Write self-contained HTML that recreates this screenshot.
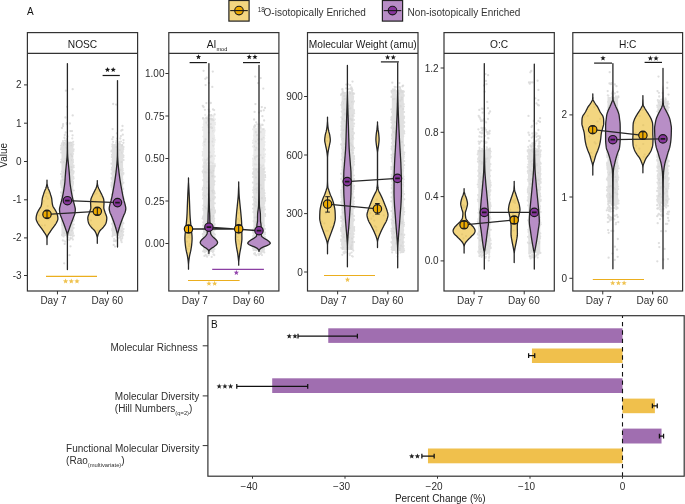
<!DOCTYPE html>
<html><head><meta charset="utf-8"><style>
html,body{margin:0;padding:0;background:#fff;width:685px;height:504px;overflow:hidden;position:relative;font-family:"Liberation Sans",sans-serif;}
</style></head><body>
<svg width="685" height="504" viewBox="0 0 685 504" style="position:absolute;left:0;top:0;will-change:transform" font-family='"Liberation Sans", sans-serif'>
<rect width="685" height="504" fill="#fff"/>
<rect x="228.9" y="0.5" width="20.2" height="20.6" fill="#F3D680" stroke="#222" stroke-width="1.2"/>
<circle cx="239.0" cy="10.6" r="4.3" fill="#EDAA00" stroke="#1a1a1a" stroke-width="1.1"/>
<path d="M230.2,10.6H247.8" stroke="#1a1a1a" stroke-width="1.1"/>
<rect x="382.4" y="0.5" width="20.2" height="20.6" fill="#B88EC6" stroke="#222" stroke-width="1.2"/>
<circle cx="392.5" cy="10.6" r="4.3" fill="#87369C" stroke="#1a1a1a" stroke-width="1.1"/>
<path d="M383.7,10.6H401.3" stroke="#1a1a1a" stroke-width="1.1"/>
<text x="257.8" y="11.6" font-size="6.3" text-anchor="start" fill="#333" >18</text>
<text x="263.6" y="15.7" font-size="10" text-anchor="start" fill="#333" >O-isotopically Enriched</text>
<text x="407.6" y="15.7" font-size="10" text-anchor="start" fill="#333" >Non-isotopically Enriched</text>
<text x="27.0" y="14.8" font-size="10" text-anchor="start" fill="#111" >A</text>
<text transform="translate(7.4,155.3) rotate(-90)" font-size="10" text-anchor="middle" fill="#222">Value</text>
<clipPath id="cp0"><rect x="27.4" y="53.4" width="110.19999999999999" height="237.6"/></clipPath>
<g clip-path="url(#cp0)">
<path d="M61.50000000000001,142H73.30000000000001V236H61.50000000000001Z" fill="#E0E0E0"/>
<path d="M71.7 200.8h0M64.4 214.9h0M71.4 170.2h0M70.9 142.5h0M67.1 216.9h0M65.0 170.5h0M66.8 166.0h0M68.0 189.4h0M70.6 235.6h0M72.7 200.5h0M63.7 162.2h0M62.5 199.6h0M67.6 145.4h0M71.9 185.8h0M67.6 201.1h0M64.7 188.7h0M64.1 143.1h0M64.2 207.1h0M62.0 176.7h0M63.7 220.0h0M71.5 167.2h0M71.1 189.9h0M70.0 202.1h0M67.8 150.6h0M71.4 189.7h0M68.5 176.0h0M66.2 147.6h0M63.6 172.4h0M66.1 218.7h0M68.4 234.0h0M68.9 198.9h0M63.6 205.6h0M64.6 183.4h0M63.0 179.8h0M64.3 233.0h0M65.2 205.1h0M69.2 224.2h0M71.1 154.4h0M71.8 230.8h0M63.6 195.6h0M72.0 160.1h0M63.9 193.9h0M68.9 225.1h0M66.1 195.6h0M64.6 180.6h0M71.5 145.6h0M67.9 186.0h0M70.1 172.3h0M66.0 144.4h0M63.3 144.9h0M69.1 232.9h0M67.7 182.3h0M65.7 224.0h0M69.4 197.5h0M67.6 175.4h0M71.8 213.9h0M72.1 156.2h0M70.1 142.5h0M63.5 218.2h0M70.8 181.4h0M68.8 143.3h0M67.5 216.5h0M64.4 210.2h0M65.9 160.7h0M65.7 158.9h0M68.2 231.1h0" stroke="#CFCFCF" stroke-opacity="0.55" stroke-width="2.2" stroke-linecap="round" fill="none"/>
<path d="M61.0 174.0h0M60.9 183.8h0M73.8 190.5h0M73.3 211.8h0M73.1 182.1h0M72.6 228.7h0M61.0 182.4h0M73.6 165.6h0M61.4 205.6h0M73.0 233.3h0M72.6 179.4h0M61.0 162.0h0M73.3 221.0h0M61.5 187.0h0M61.0 204.0h0M61.4 185.8h0M62.2 201.7h0M61.2 180.7h0M72.7 218.6h0M73.6 227.9h0M73.8 224.5h0M72.5 146.4h0M62.0 143.9h0M61.5 159.6h0M62.1 145.7h0M72.5 205.7h0M73.3 171.2h0M73.4 218.3h0M61.5 199.4h0M61.2 145.7h0M72.6 232.2h0M72.9 173.8h0M61.2 152.6h0M73.7 171.5h0M61.2 216.9h0M62.0 225.0h0M61.4 195.9h0M73.4 151.0h0M73.6 201.4h0M73.5 172.8h0M62.1 223.5h0M73.4 144.5h0M61.0 162.2h0M72.9 177.7h0M72.6 184.9h0M72.7 177.8h0M73.0 204.3h0M73.3 176.9h0M73.0 162.2h0M62.2 185.0h0M72.9 212.8h0M73.6 149.3h0M72.7 154.3h0M61.0 149.6h0M73.7 167.3h0M62.0 200.3h0M61.8 182.9h0M72.6 208.8h0M61.1 210.4h0M73.0 205.4h0M61.2 148.0h0M72.9 159.9h0M61.0 192.4h0M72.8 153.8h0M61.3 217.2h0M73.8 235.7h0M61.7 221.2h0M72.8 202.3h0M73.5 213.4h0M73.0 183.8h0M61.1 181.5h0M61.8 193.0h0M61.8 193.5h0M73.8 220.1h0M73.6 178.4h0M62.1 235.3h0M73.8 209.0h0M72.6 153.6h0M62.1 234.9h0M61.7 196.0h0M73.8 212.5h0M61.2 162.4h0M62.3 148.4h0M61.9 171.5h0M66.9 139.1h0M73.2 141.8h0M72.3 138.4h0M66.2 141.0h0M63.0 141.1h0M67.4 141.9h0M63.6 240.5h0M67.2 236.5h0M69.4 240.0h0M67.7 239.4h0M67.6 239.3h0M67.8 237.5h0M70.8 238.6h0M63.6 236.5h0M62.8 240.4h0M72.6 236.1h0M72.9 239.6h0M67.5 239.8h0M72.3 238.1h0M65.2 241.6h0" stroke="#E0E0E0" stroke-width="2.2" stroke-linecap="round" fill="none"/>
<path d="M111.9,144H123.1V236H111.9Z" fill="#E0E0E0"/>
<path d="M113.1 199.2h0M117.1 165.8h0M120.2 225.0h0M120.2 220.3h0M121.1 209.1h0M119.9 206.7h0M114.1 171.8h0M114.1 213.6h0M118.5 228.6h0M122.0 174.3h0M117.6 158.3h0M122.2 152.4h0M120.6 196.9h0M120.6 169.9h0M119.0 208.7h0M116.8 231.5h0M119.5 182.2h0M115.8 220.8h0M114.5 205.6h0M120.2 194.8h0M119.8 150.0h0M122.2 145.4h0M116.6 187.1h0M117.7 210.3h0M113.3 211.2h0M118.1 195.8h0M112.8 229.8h0M118.8 185.7h0M113.2 194.7h0M114.7 198.6h0M121.4 162.0h0M117.0 162.2h0M119.6 213.0h0M120.6 194.9h0M118.7 186.9h0M119.3 219.3h0M116.5 203.0h0M116.4 195.4h0M116.3 212.5h0M120.1 186.9h0M115.8 190.3h0M116.3 220.1h0M120.4 221.7h0M119.7 185.2h0M116.4 147.2h0M118.3 223.2h0M119.2 195.3h0M118.4 206.3h0M114.3 182.7h0M115.4 170.9h0M122.6 183.6h0M117.0 176.4h0M118.3 178.2h0M121.5 231.2h0M115.1 178.7h0M117.4 225.4h0M113.1 207.1h0M115.6 223.7h0M114.4 189.5h0M120.8 182.7h0M117.2 220.1h0" stroke="#CFCFCF" stroke-opacity="0.55" stroke-width="2.2" stroke-linecap="round" fill="none"/>
<path d="M122.8 214.6h0M112.4 194.2h0M123.4 173.1h0M123.3 149.2h0M112.6 219.2h0M112.4 206.8h0M111.8 203.2h0M112.0 167.7h0M122.6 192.3h0M122.7 232.5h0M112.6 172.2h0M111.6 182.9h0M122.5 209.3h0M111.6 173.6h0M123.2 188.9h0M123.4 201.1h0M112.3 213.0h0M112.0 184.3h0M111.8 157.0h0M112.5 156.5h0M123.6 160.0h0M112.4 146.4h0M122.3 159.2h0M112.5 186.2h0M122.6 168.8h0M122.9 200.8h0M112.5 182.4h0M123.6 229.0h0M111.8 205.5h0M111.6 199.2h0M111.5 163.7h0M122.7 154.5h0M123.6 147.0h0M123.2 235.1h0M123.1 205.3h0M123.2 231.6h0M112.7 174.9h0M123.3 210.6h0M123.4 182.7h0M122.4 175.0h0M122.7 156.2h0M111.4 185.2h0M111.7 169.6h0M122.9 222.5h0M112.4 144.3h0M123.4 157.1h0M122.7 207.1h0M112.3 230.4h0M111.6 208.6h0M112.0 154.8h0M123.5 147.2h0M122.7 151.8h0M122.7 214.4h0M122.9 201.9h0M123.4 223.3h0M111.7 202.5h0M111.7 178.8h0M122.3 179.6h0M122.6 232.6h0M122.7 211.2h0M112.1 187.2h0M122.7 170.5h0M122.7 151.1h0M112.6 159.9h0M111.7 186.9h0M112.3 228.9h0M122.4 196.6h0M123.5 155.5h0M122.4 187.6h0M123.5 198.7h0M112.0 223.8h0M111.6 177.9h0M111.6 150.7h0M112.1 187.2h0M122.4 233.1h0M112.5 180.1h0M111.4 151.5h0M123.2 197.3h0M123.4 173.8h0M123.4 198.2h0M111.9 194.6h0M112.5 189.2h0M121.0 141.5h0M118.0 143.5h0M116.4 141.1h0M116.1 142.9h0M119.6 141.8h0M113.1 141.8h0M122.2 236.7h0M114.7 240.8h0M121.4 240.1h0M112.4 236.3h0M114.1 239.0h0M122.2 238.2h0M113.8 241.1h0M117.8 238.1h0M116.8 237.0h0M115.9 240.4h0M120.3 236.1h0M121.0 240.6h0M120.7 239.1h0M121.7 242.2h0" stroke="#E0E0E0" stroke-width="2.2" stroke-linecap="round" fill="none"/>
<path d="M66.9 124.1h0M67.5 136.4h0M63.1 124.2h0M62.0 128.0h0M63.0 126.0h0M65.7 132.5h0M64.8 135.0h0M65.4 117.5h0M64.5 138.1h0M70.5 131.1h0M72.0 131.1h0M65.1 140.7h0M64.4 137.7h0M66.7 123.2h0M72.6 135.3h0M69.9 123.5h0" stroke="#D8D8D8" stroke-opacity="0.85" stroke-width="2.3" stroke-linecap="round" fill="none"/>
<path d="M113.1 137.2h0M119.8 143.7h0M122.4 129.9h0M112.6 129.1h0M122.8 134.7h0M122.5 126.0h0M112.3 139.2h0M117.0 138.6h0M120.3 138.5h0M123.5 140.1h0M121.3 130.7h0M120.9 136.1h0M123.4 142.8h0M116.9 133.3h0" stroke="#D8D8D8" stroke-opacity="0.85" stroke-width="2.3" stroke-linecap="round" fill="none"/>
<path d="M72.7 115.4h0M72.7 89.2h0M65.9 90.7h0M67.1 106.8h0" stroke="#D4D4D4" stroke-opacity="0.8" stroke-width="2.3" stroke-linecap="round" fill="none"/>
<path d="M116.1 104.6h0M113.2 104.0h0" stroke="#D4D4D4" stroke-opacity="0.8" stroke-width="2.3" stroke-linecap="round" fill="none"/>
<path d="M70.4 238.1h0M69.5 255.2h0M64.2 263.3h0M64.7 243.9h0M70.5 246.3h0" stroke="#D4D4D4" stroke-opacity="0.8" stroke-width="2.3" stroke-linecap="round" fill="none"/>
<path d="M115.4 241.2h0M113.7 244.9h0M119.9 237.5h0M115.1 246.6h0" stroke="#D4D4D4" stroke-opacity="0.8" stroke-width="2.3" stroke-linecap="round" fill="none"/>
<path d="M47.00,180.10 L47.00,180.78 L47.00,181.46 L47.00,182.13 L47.00,182.81 L47.01,183.49 L47.13,184.17 L47.26,184.85 L47.40,185.52 L47.55,186.20 L47.72,186.88 L47.90,187.56 L48.11,188.23 L48.38,188.91 L48.69,189.59 L49.01,190.27 L49.32,190.95 L49.58,191.62 L49.83,192.30 L50.06,192.98 L50.28,193.66 L50.50,194.34 L50.70,195.01 L50.92,195.69 L51.13,196.37 L51.34,197.05 L51.52,197.73 L51.67,198.40 L51.77,199.08 L51.85,199.76 L51.92,200.44 L51.99,201.11 L52.06,201.79 L52.15,202.47 L52.24,203.15 L52.33,203.83 L52.44,204.50 L52.58,205.18 L52.75,205.86 L53.03,206.54 L53.43,207.22 L53.89,207.89 L54.35,208.57 L54.77,209.25 L55.16,209.93 L55.55,210.61 L55.93,211.28 L56.29,211.96 L56.60,212.64 L56.85,213.32 L57.09,213.99 L57.31,214.67 L57.50,215.35 L57.64,216.03 L57.74,216.71 L57.82,217.38 L57.87,218.06 L57.90,218.74 L57.84,219.42 L57.65,220.10 L57.38,220.77 L57.06,221.45 L56.73,222.13 L56.40,222.81 L56.01,223.49 L55.58,224.16 L55.11,224.84 L54.63,225.52 L54.16,226.20 L53.67,226.87 L53.16,227.55 L52.64,228.23 L52.13,228.91 L51.64,229.59 L51.17,230.26 L50.72,230.94 L50.27,231.62 L49.83,232.30 L49.38,232.98 L48.90,233.65 L48.43,234.33 L48.02,235.01 L47.70,235.69 L47.47,236.37 L47.28,237.04 L47.14,237.72 L47.06,238.40 L47.01,239.08 L47.00,239.75 L47.00,240.43 L47.00,241.11 L47.00,241.79 L47.00,242.47 L47.00,243.14 L47.00,243.82 L47.00,244.50 L47.00,244.50 L47.00,243.82 L47.00,243.14 L47.00,242.47 L47.00,241.79 L47.00,241.11 L47.00,240.43 L47.00,239.75 L46.99,239.08 L46.94,238.40 L46.86,237.72 L46.72,237.04 L46.53,236.37 L46.30,235.69 L45.98,235.01 L45.57,234.33 L45.10,233.65 L44.62,232.98 L44.17,232.30 L43.73,231.62 L43.28,230.94 L42.83,230.26 L42.36,229.59 L41.87,228.91 L41.36,228.23 L40.84,227.55 L40.33,226.87 L39.84,226.20 L39.37,225.52 L38.89,224.84 L38.42,224.16 L37.99,223.49 L37.60,222.81 L37.27,222.13 L36.94,221.45 L36.62,220.77 L36.35,220.10 L36.16,219.42 L36.10,218.74 L36.13,218.06 L36.18,217.38 L36.26,216.71 L36.36,216.03 L36.50,215.35 L36.69,214.67 L36.91,213.99 L37.15,213.32 L37.40,212.64 L37.71,211.96 L38.07,211.28 L38.45,210.61 L38.84,209.93 L39.23,209.25 L39.65,208.57 L40.11,207.89 L40.57,207.22 L40.97,206.54 L41.25,205.86 L41.42,205.18 L41.56,204.50 L41.67,203.83 L41.76,203.15 L41.85,202.47 L41.94,201.79 L42.01,201.11 L42.08,200.44 L42.15,199.76 L42.23,199.08 L42.33,198.40 L42.48,197.73 L42.66,197.05 L42.87,196.37 L43.08,195.69 L43.30,195.01 L43.50,194.34 L43.72,193.66 L43.94,192.98 L44.17,192.30 L44.42,191.62 L44.68,190.95 L44.99,190.27 L45.31,189.59 L45.62,188.91 L45.89,188.23 L46.10,187.56 L46.28,186.88 L46.45,186.20 L46.60,185.52 L46.74,184.85 L46.87,184.17 L46.99,183.49 L47.00,182.81 L47.00,182.13 L47.00,181.46 L47.00,180.78 L47.00,180.10Z" fill="#F3D680" stroke="#262626" stroke-width="1.3" stroke-linejoin="round"/>
<path d="M67.40,63.60 L67.40,64.27 L67.40,64.94 L67.40,65.61 L67.40,66.28 L67.40,66.95 L67.40,67.62 L67.40,68.29 L67.40,68.97 L67.40,69.64 L67.40,70.31 L67.40,70.98 L67.40,71.65 L67.40,72.32 L67.40,72.99 L67.40,73.66 L67.40,74.33 L67.40,75.00 L67.40,75.67 L67.40,76.34 L67.40,77.01 L67.40,77.68 L67.40,78.36 L67.40,79.03 L67.40,79.70 L67.40,80.37 L67.40,81.04 L67.40,81.71 L67.40,82.38 L67.40,83.05 L67.40,83.72 L67.40,84.39 L67.40,85.06 L67.40,85.73 L67.40,86.40 L67.40,87.07 L67.40,87.74 L67.40,88.42 L67.40,89.09 L67.40,89.76 L67.40,90.43 L67.40,91.10 L67.40,91.77 L67.40,92.44 L67.40,93.11 L67.40,93.78 L67.40,94.45 L67.40,95.12 L67.40,95.79 L67.40,96.46 L67.40,97.13 L67.40,97.80 L67.40,98.48 L67.40,99.15 L67.40,99.82 L67.40,100.49 L67.40,101.16 L67.40,101.83 L67.40,102.50 L67.40,103.17 L67.40,103.84 L67.40,104.51 L67.40,105.18 L67.40,105.85 L67.40,106.52 L67.40,107.19 L67.40,107.87 L67.40,108.54 L67.40,109.21 L67.40,109.88 L67.40,110.55 L67.40,111.22 L67.40,111.89 L67.40,112.56 L67.40,113.23 L67.40,113.90 L67.40,114.57 L67.40,115.24 L67.40,115.91 L67.40,116.58 L67.40,117.25 L67.40,117.93 L67.40,118.60 L67.40,119.27 L67.40,119.94 L67.40,120.61 L67.40,121.28 L67.40,121.95 L67.40,122.62 L67.40,123.29 L67.40,123.96 L67.40,124.63 L67.40,125.30 L67.40,125.97 L67.40,126.64 L67.40,127.31 L67.40,127.99 L67.40,128.66 L67.40,129.33 L67.40,130.00 L67.40,130.67 L67.40,131.34 L67.40,132.01 L67.40,132.68 L67.40,133.35 L67.40,134.02 L67.40,134.69 L67.40,135.36 L67.40,136.03 L67.40,136.70 L67.41,137.38 L67.41,138.05 L67.41,138.72 L67.42,139.39 L67.42,140.06 L67.42,140.73 L67.43,141.40 L67.43,142.07 L67.44,142.74 L67.44,143.41 L67.45,144.08 L67.45,144.75 L67.46,145.42 L67.46,146.09 L67.47,146.76 L67.47,147.44 L67.48,148.11 L67.49,148.78 L67.49,149.45 L67.50,150.12 L67.51,150.79 L67.53,151.46 L67.55,152.13 L67.57,152.80 L67.59,153.47 L67.62,154.14 L67.65,154.81 L67.68,155.48 L67.71,156.15 L67.75,156.83 L67.80,157.50 L67.85,158.17 L67.91,158.84 L67.97,159.51 L68.04,160.18 L68.11,160.85 L68.17,161.52 L68.24,162.19 L68.31,162.86 L68.37,163.53 L68.44,164.20 L68.50,164.87 L68.57,165.54 L68.63,166.21 L68.70,166.89 L68.77,167.56 L68.83,168.23 L68.90,168.90 L68.96,169.57 L69.02,170.24 L69.08,170.91 L69.14,171.58 L69.20,172.25 L69.25,172.92 L69.31,173.59 L69.36,174.26 L69.42,174.93 L69.47,175.60 L69.52,176.27 L69.57,176.95 L69.61,177.62 L69.65,178.29 L69.69,178.96 L69.73,179.63 L69.77,180.30 L69.82,180.97 L69.88,181.64 L69.94,182.31 L70.01,182.98 L70.09,183.65 L70.18,184.32 L70.27,184.99 L70.37,185.66 L70.46,186.34 L70.57,187.01 L70.67,187.68 L70.77,188.35 L70.87,189.02 L70.98,189.69 L71.09,190.36 L71.20,191.03 L71.32,191.70 L71.44,192.37 L71.56,193.04 L71.68,193.71 L71.81,194.38 L71.95,195.05 L72.08,195.72 L72.22,196.40 L72.37,197.07 L72.52,197.74 L72.67,198.41 L72.83,199.08 L72.99,199.75 L73.16,200.42 L73.34,201.09 L73.53,201.76 L73.72,202.43 L73.91,203.10 L74.11,203.77 L74.29,204.44 L74.46,205.11 L74.62,205.79 L74.79,206.46 L74.96,207.13 L75.12,207.80 L75.24,208.47 L75.30,209.14 L75.29,209.81 L75.26,210.48 L75.20,211.15 L75.13,211.82 L75.05,212.49 L74.96,213.16 L74.81,213.83 L74.61,214.50 L74.36,215.17 L74.10,215.85 L73.82,216.52 L73.55,217.19 L73.31,217.86 L73.06,218.53 L72.80,219.20 L72.54,219.87 L72.28,220.54 L72.02,221.21 L71.75,221.88 L71.50,222.55 L71.24,223.22 L70.99,223.89 L70.74,224.56 L70.50,225.23 L70.26,225.91 L70.01,226.58 L69.77,227.25 L69.54,227.92 L69.31,228.59 L69.08,229.26 L68.85,229.93 L68.62,230.60 L68.39,231.27 L68.17,231.94 L67.99,232.61 L67.84,233.28 L67.70,233.95 L67.59,234.62 L67.51,235.30 L67.48,235.97 L67.46,236.64 L67.43,237.31 L67.42,237.98 L67.40,238.65 L67.40,239.32 L67.40,239.99 L67.40,240.66 L67.40,241.33 L67.40,242.00 L67.40,242.67 L67.40,243.34 L67.40,244.01 L67.40,244.68 L67.40,245.36 L67.40,246.03 L67.40,246.70 L67.40,247.37 L67.40,248.04 L67.40,248.71 L67.40,249.38 L67.40,250.05 L67.40,250.72 L67.40,251.39 L67.40,252.06 L67.40,252.73 L67.40,253.40 L67.40,254.07 L67.40,254.74 L67.40,255.42 L67.40,256.09 L67.40,256.76 L67.40,257.43 L67.40,258.10 L67.40,258.77 L67.40,259.44 L67.40,260.11 L67.40,260.78 L67.40,261.45 L67.40,262.12 L67.40,262.79 L67.40,263.46 L67.40,264.13 L67.40,264.81 L67.40,265.48 L67.40,266.15 L67.40,266.82 L67.40,267.49 L67.40,268.16 L67.40,268.83 L67.40,269.50 L67.40,269.50 L67.40,268.83 L67.40,268.16 L67.40,267.49 L67.40,266.82 L67.40,266.15 L67.40,265.48 L67.40,264.81 L67.40,264.13 L67.40,263.46 L67.40,262.79 L67.40,262.12 L67.40,261.45 L67.40,260.78 L67.40,260.11 L67.40,259.44 L67.40,258.77 L67.40,258.10 L67.40,257.43 L67.40,256.76 L67.40,256.09 L67.40,255.42 L67.40,254.74 L67.40,254.07 L67.40,253.40 L67.40,252.73 L67.40,252.06 L67.40,251.39 L67.40,250.72 L67.40,250.05 L67.40,249.38 L67.40,248.71 L67.40,248.04 L67.40,247.37 L67.40,246.70 L67.40,246.03 L67.40,245.36 L67.40,244.68 L67.40,244.01 L67.40,243.34 L67.40,242.67 L67.40,242.00 L67.40,241.33 L67.40,240.66 L67.40,239.99 L67.40,239.32 L67.40,238.65 L67.38,237.98 L67.37,237.31 L67.34,236.64 L67.32,235.97 L67.29,235.30 L67.21,234.62 L67.10,233.95 L66.96,233.28 L66.81,232.61 L66.63,231.94 L66.41,231.27 L66.18,230.60 L65.95,229.93 L65.72,229.26 L65.49,228.59 L65.26,227.92 L65.03,227.25 L64.79,226.58 L64.54,225.91 L64.30,225.23 L64.06,224.56 L63.81,223.89 L63.56,223.22 L63.30,222.55 L63.05,221.88 L62.78,221.21 L62.52,220.54 L62.26,219.87 L62.00,219.20 L61.74,218.53 L61.49,217.86 L61.25,217.19 L60.98,216.52 L60.70,215.85 L60.44,215.17 L60.19,214.50 L59.99,213.83 L59.84,213.16 L59.75,212.49 L59.67,211.82 L59.60,211.15 L59.54,210.48 L59.51,209.81 L59.50,209.14 L59.56,208.47 L59.68,207.80 L59.84,207.13 L60.01,206.46 L60.18,205.79 L60.34,205.11 L60.51,204.44 L60.69,203.77 L60.89,203.10 L61.08,202.43 L61.27,201.76 L61.46,201.09 L61.64,200.42 L61.81,199.75 L61.97,199.08 L62.13,198.41 L62.28,197.74 L62.43,197.07 L62.58,196.40 L62.72,195.72 L62.85,195.05 L62.99,194.38 L63.12,193.71 L63.24,193.04 L63.36,192.37 L63.48,191.70 L63.60,191.03 L63.71,190.36 L63.82,189.69 L63.93,189.02 L64.03,188.35 L64.13,187.68 L64.23,187.01 L64.34,186.34 L64.43,185.66 L64.53,184.99 L64.62,184.32 L64.71,183.65 L64.79,182.98 L64.86,182.31 L64.92,181.64 L64.98,180.97 L65.03,180.30 L65.07,179.63 L65.11,178.96 L65.15,178.29 L65.19,177.62 L65.23,176.95 L65.28,176.27 L65.33,175.60 L65.38,174.93 L65.44,174.26 L65.49,173.59 L65.55,172.92 L65.60,172.25 L65.66,171.58 L65.72,170.91 L65.78,170.24 L65.84,169.57 L65.90,168.90 L65.97,168.23 L66.03,167.56 L66.10,166.89 L66.17,166.21 L66.23,165.54 L66.30,164.87 L66.36,164.20 L66.43,163.53 L66.49,162.86 L66.56,162.19 L66.63,161.52 L66.69,160.85 L66.76,160.18 L66.83,159.51 L66.89,158.84 L66.95,158.17 L67.00,157.50 L67.05,156.83 L67.09,156.15 L67.12,155.48 L67.15,154.81 L67.18,154.14 L67.21,153.47 L67.23,152.80 L67.25,152.13 L67.27,151.46 L67.29,150.79 L67.30,150.12 L67.31,149.45 L67.31,148.78 L67.32,148.11 L67.33,147.44 L67.33,146.76 L67.34,146.09 L67.34,145.42 L67.35,144.75 L67.35,144.08 L67.36,143.41 L67.36,142.74 L67.37,142.07 L67.37,141.40 L67.38,140.73 L67.38,140.06 L67.38,139.39 L67.39,138.72 L67.39,138.05 L67.39,137.38 L67.40,136.70 L67.40,136.03 L67.40,135.36 L67.40,134.69 L67.40,134.02 L67.40,133.35 L67.40,132.68 L67.40,132.01 L67.40,131.34 L67.40,130.67 L67.40,130.00 L67.40,129.33 L67.40,128.66 L67.40,127.99 L67.40,127.31 L67.40,126.64 L67.40,125.97 L67.40,125.30 L67.40,124.63 L67.40,123.96 L67.40,123.29 L67.40,122.62 L67.40,121.95 L67.40,121.28 L67.40,120.61 L67.40,119.94 L67.40,119.27 L67.40,118.60 L67.40,117.93 L67.40,117.25 L67.40,116.58 L67.40,115.91 L67.40,115.24 L67.40,114.57 L67.40,113.90 L67.40,113.23 L67.40,112.56 L67.40,111.89 L67.40,111.22 L67.40,110.55 L67.40,109.88 L67.40,109.21 L67.40,108.54 L67.40,107.87 L67.40,107.19 L67.40,106.52 L67.40,105.85 L67.40,105.18 L67.40,104.51 L67.40,103.84 L67.40,103.17 L67.40,102.50 L67.40,101.83 L67.40,101.16 L67.40,100.49 L67.40,99.82 L67.40,99.15 L67.40,98.48 L67.40,97.80 L67.40,97.13 L67.40,96.46 L67.40,95.79 L67.40,95.12 L67.40,94.45 L67.40,93.78 L67.40,93.11 L67.40,92.44 L67.40,91.77 L67.40,91.10 L67.40,90.43 L67.40,89.76 L67.40,89.09 L67.40,88.42 L67.40,87.74 L67.40,87.07 L67.40,86.40 L67.40,85.73 L67.40,85.06 L67.40,84.39 L67.40,83.72 L67.40,83.05 L67.40,82.38 L67.40,81.71 L67.40,81.04 L67.40,80.37 L67.40,79.70 L67.40,79.03 L67.40,78.36 L67.40,77.68 L67.40,77.01 L67.40,76.34 L67.40,75.67 L67.40,75.00 L67.40,74.33 L67.40,73.66 L67.40,72.99 L67.40,72.32 L67.40,71.65 L67.40,70.98 L67.40,70.31 L67.40,69.64 L67.40,68.97 L67.40,68.29 L67.40,67.62 L67.40,66.95 L67.40,66.28 L67.40,65.61 L67.40,64.94 L67.40,64.27 L67.40,63.60Z" fill="#B88EC6" stroke="#262626" stroke-width="1.3" stroke-linejoin="round"/>
<path d="M97.30,180.60 L97.30,181.27 L97.30,181.95 L97.30,182.62 L97.30,183.30 L97.39,183.97 L97.53,184.65 L97.68,185.32 L97.85,185.99 L98.03,186.67 L98.25,187.34 L98.51,188.02 L98.81,188.69 L99.14,189.36 L99.48,190.04 L99.82,190.71 L100.14,191.39 L100.47,192.06 L100.81,192.74 L101.15,193.41 L101.50,194.08 L101.83,194.76 L102.14,195.43 L102.43,196.11 L102.74,196.78 L103.05,197.45 L103.33,198.13 L103.55,198.80 L103.70,199.48 L103.78,200.15 L103.86,200.83 L103.92,201.50 L103.97,202.17 L104.00,202.85 L104.00,203.52 L103.97,204.20 L103.94,204.87 L103.89,205.55 L103.85,206.22 L103.82,206.89 L103.80,207.57 L103.83,208.24 L103.96,208.92 L104.14,209.59 L104.37,210.26 L104.61,210.94 L104.85,211.61 L105.06,212.29 L105.28,212.96 L105.54,213.64 L105.80,214.31 L106.07,214.98 L106.32,215.66 L106.53,216.33 L106.69,217.01 L106.78,217.68 L106.80,218.35 L106.77,219.03 L106.70,219.70 L106.61,220.38 L106.50,221.05 L106.37,221.73 L106.22,222.40 L106.03,223.07 L105.73,223.75 L105.34,224.42 L104.90,225.10 L104.41,225.77 L103.91,226.45 L103.41,227.12 L102.84,227.79 L102.18,228.47 L101.48,229.14 L100.79,229.82 L100.16,230.49 L99.64,231.16 L99.26,231.84 L98.92,232.51 L98.61,233.19 L98.34,233.86 L98.10,234.54 L97.90,235.21 L97.72,235.88 L97.56,236.56 L97.42,237.23 L97.31,237.91 L97.30,238.58 L97.30,239.25 L97.30,239.93 L97.30,240.60 L97.30,241.28 L97.30,241.95 L97.30,242.63 L97.30,243.30 L97.30,243.30 L97.30,242.63 L97.30,241.95 L97.30,241.28 L97.30,240.60 L97.30,239.93 L97.30,239.25 L97.30,238.58 L97.29,237.91 L97.18,237.23 L97.04,236.56 L96.88,235.88 L96.70,235.21 L96.50,234.54 L96.26,233.86 L95.99,233.19 L95.68,232.51 L95.34,231.84 L94.96,231.16 L94.44,230.49 L93.81,229.82 L93.12,229.14 L92.42,228.47 L91.76,227.79 L91.19,227.12 L90.69,226.45 L90.19,225.77 L89.70,225.10 L89.26,224.42 L88.87,223.75 L88.57,223.07 L88.38,222.40 L88.23,221.73 L88.10,221.05 L87.99,220.38 L87.90,219.70 L87.83,219.03 L87.80,218.35 L87.82,217.68 L87.91,217.01 L88.07,216.33 L88.28,215.66 L88.53,214.98 L88.80,214.31 L89.06,213.64 L89.32,212.96 L89.54,212.29 L89.75,211.61 L89.99,210.94 L90.23,210.26 L90.46,209.59 L90.64,208.92 L90.77,208.24 L90.80,207.57 L90.78,206.89 L90.75,206.22 L90.71,205.55 L90.66,204.87 L90.63,204.20 L90.60,203.52 L90.60,202.85 L90.63,202.17 L90.68,201.50 L90.74,200.83 L90.82,200.15 L90.90,199.48 L91.05,198.80 L91.27,198.13 L91.55,197.45 L91.86,196.78 L92.17,196.11 L92.46,195.43 L92.77,194.76 L93.10,194.08 L93.45,193.41 L93.79,192.74 L94.13,192.06 L94.46,191.39 L94.78,190.71 L95.12,190.04 L95.46,189.36 L95.79,188.69 L96.09,188.02 L96.35,187.34 L96.57,186.67 L96.75,185.99 L96.92,185.32 L97.07,184.65 L97.21,183.97 L97.30,183.30 L97.30,182.62 L97.30,181.95 L97.30,181.27 L97.30,180.60Z" fill="#F3D680" stroke="#262626" stroke-width="1.3" stroke-linejoin="round"/>
<path d="M117.50,80.60 L117.50,81.27 L117.50,81.94 L117.50,82.61 L117.50,83.28 L117.50,83.95 L117.50,84.63 L117.50,85.30 L117.50,85.97 L117.50,86.64 L117.50,87.31 L117.50,87.98 L117.50,88.65 L117.50,89.32 L117.50,89.99 L117.50,90.66 L117.50,91.34 L117.50,92.01 L117.50,92.68 L117.50,93.35 L117.50,94.02 L117.50,94.69 L117.50,95.36 L117.50,96.03 L117.50,96.70 L117.50,97.37 L117.50,98.05 L117.50,98.72 L117.50,99.39 L117.50,100.06 L117.50,100.73 L117.50,101.40 L117.50,102.07 L117.50,102.74 L117.50,103.41 L117.50,104.08 L117.50,104.75 L117.50,105.43 L117.50,106.10 L117.50,106.77 L117.50,107.44 L117.50,108.11 L117.50,108.78 L117.50,109.45 L117.50,110.12 L117.50,110.79 L117.50,111.46 L117.50,112.14 L117.50,112.81 L117.50,113.48 L117.50,114.15 L117.50,114.82 L117.50,115.49 L117.50,116.16 L117.50,116.83 L117.50,117.50 L117.50,118.17 L117.50,118.85 L117.50,119.52 L117.50,120.19 L117.50,120.86 L117.50,121.53 L117.50,122.20 L117.50,122.87 L117.50,123.54 L117.50,124.21 L117.50,124.88 L117.50,125.55 L117.50,126.23 L117.50,126.90 L117.50,127.57 L117.50,128.24 L117.50,128.91 L117.50,129.58 L117.50,130.25 L117.50,130.92 L117.50,131.59 L117.50,132.26 L117.50,132.94 L117.50,133.61 L117.50,134.28 L117.50,134.95 L117.50,135.62 L117.50,136.29 L117.50,136.96 L117.50,137.63 L117.50,138.30 L117.50,138.97 L117.50,139.65 L117.50,140.32 L117.50,140.99 L117.50,141.66 L117.50,142.33 L117.50,143.00 L117.50,143.67 L117.51,144.34 L117.51,145.01 L117.52,145.68 L117.52,146.35 L117.52,147.03 L117.53,147.70 L117.53,148.37 L117.54,149.04 L117.55,149.71 L117.55,150.38 L117.56,151.05 L117.56,151.72 L117.57,152.39 L117.58,153.06 L117.59,153.74 L117.59,154.41 L117.60,155.08 L117.61,155.75 L117.63,156.42 L117.66,157.09 L117.69,157.76 L117.72,158.43 L117.76,159.10 L117.79,159.77 L117.83,160.45 L117.87,161.12 L117.92,161.79 L117.97,162.46 L118.03,163.13 L118.09,163.80 L118.15,164.47 L118.21,165.14 L118.28,165.81 L118.35,166.48 L118.42,167.15 L118.49,167.83 L118.56,168.50 L118.63,169.17 L118.70,169.84 L118.78,170.51 L118.85,171.18 L118.93,171.85 L119.01,172.52 L119.10,173.19 L119.18,173.86 L119.27,174.54 L119.36,175.21 L119.45,175.88 L119.55,176.55 L119.64,177.22 L119.74,177.89 L119.83,178.56 L119.93,179.23 L120.03,179.90 L120.13,180.57 L120.24,181.25 L120.34,181.92 L120.45,182.59 L120.56,183.26 L120.67,183.93 L120.79,184.60 L120.90,185.27 L121.02,185.94 L121.14,186.61 L121.26,187.28 L121.38,187.95 L121.50,188.63 L121.63,189.30 L121.75,189.97 L121.87,190.64 L122.00,191.31 L122.12,191.98 L122.25,192.65 L122.38,193.32 L122.51,193.99 L122.64,194.66 L122.77,195.34 L122.91,196.01 L123.05,196.68 L123.19,197.35 L123.34,198.02 L123.49,198.69 L123.64,199.36 L123.81,200.03 L123.99,200.70 L124.19,201.37 L124.39,202.05 L124.60,202.72 L124.80,203.39 L124.98,204.06 L125.14,204.73 L125.29,205.40 L125.44,206.07 L125.58,206.74 L125.70,207.41 L125.78,208.08 L125.80,208.75 L125.75,209.43 L125.65,210.10 L125.50,210.77 L125.34,211.44 L125.17,212.11 L124.95,212.78 L124.66,213.45 L124.34,214.12 L124.01,214.79 L123.71,215.46 L123.44,216.14 L123.17,216.81 L122.90,217.48 L122.64,218.15 L122.37,218.82 L122.11,219.49 L121.86,220.16 L121.61,220.83 L121.36,221.50 L121.12,222.17 L120.89,222.85 L120.66,223.52 L120.44,224.19 L120.22,224.86 L120.00,225.53 L119.79,226.20 L119.58,226.87 L119.38,227.54 L119.18,228.21 L118.99,228.88 L118.80,229.55 L118.61,230.23 L118.43,230.90 L118.26,231.57 L118.07,232.24 L117.88,232.91 L117.72,233.58 L117.61,234.25 L117.57,234.92 L117.54,235.59 L117.51,236.26 L117.50,236.94 L117.50,237.61 L117.50,238.28 L117.50,238.95 L117.50,239.62 L117.50,240.29 L117.50,240.96 L117.50,241.63 L117.50,242.30 L117.50,242.97 L117.50,243.65 L117.50,244.32 L117.50,244.99 L117.50,245.66 L117.50,246.33 L117.50,247.00 L117.50,247.00 L117.50,246.33 L117.50,245.66 L117.50,244.99 L117.50,244.32 L117.50,243.65 L117.50,242.97 L117.50,242.30 L117.50,241.63 L117.50,240.96 L117.50,240.29 L117.50,239.62 L117.50,238.95 L117.50,238.28 L117.50,237.61 L117.50,236.94 L117.49,236.26 L117.46,235.59 L117.43,234.92 L117.39,234.25 L117.28,233.58 L117.12,232.91 L116.93,232.24 L116.74,231.57 L116.57,230.90 L116.39,230.23 L116.20,229.55 L116.01,228.88 L115.82,228.21 L115.62,227.54 L115.42,226.87 L115.21,226.20 L115.00,225.53 L114.78,224.86 L114.56,224.19 L114.34,223.52 L114.11,222.85 L113.88,222.17 L113.64,221.50 L113.39,220.83 L113.14,220.16 L112.89,219.49 L112.63,218.82 L112.36,218.15 L112.10,217.48 L111.83,216.81 L111.56,216.14 L111.29,215.46 L110.99,214.79 L110.66,214.12 L110.34,213.45 L110.05,212.78 L109.83,212.11 L109.66,211.44 L109.50,210.77 L109.35,210.10 L109.25,209.43 L109.20,208.75 L109.22,208.08 L109.30,207.41 L109.42,206.74 L109.56,206.07 L109.71,205.40 L109.86,204.73 L110.02,204.06 L110.20,203.39 L110.40,202.72 L110.61,202.05 L110.81,201.37 L111.01,200.70 L111.19,200.03 L111.36,199.36 L111.51,198.69 L111.66,198.02 L111.81,197.35 L111.95,196.68 L112.09,196.01 L112.23,195.34 L112.36,194.66 L112.49,193.99 L112.62,193.32 L112.75,192.65 L112.88,191.98 L113.00,191.31 L113.13,190.64 L113.25,189.97 L113.37,189.30 L113.50,188.63 L113.62,187.95 L113.74,187.28 L113.86,186.61 L113.98,185.94 L114.10,185.27 L114.21,184.60 L114.33,183.93 L114.44,183.26 L114.55,182.59 L114.66,181.92 L114.76,181.25 L114.87,180.57 L114.97,179.90 L115.07,179.23 L115.17,178.56 L115.26,177.89 L115.36,177.22 L115.45,176.55 L115.55,175.88 L115.64,175.21 L115.73,174.54 L115.82,173.86 L115.90,173.19 L115.99,172.52 L116.07,171.85 L116.15,171.18 L116.22,170.51 L116.30,169.84 L116.37,169.17 L116.44,168.50 L116.51,167.83 L116.58,167.15 L116.65,166.48 L116.72,165.81 L116.79,165.14 L116.85,164.47 L116.91,163.80 L116.97,163.13 L117.03,162.46 L117.08,161.79 L117.13,161.12 L117.17,160.45 L117.21,159.77 L117.24,159.10 L117.28,158.43 L117.31,157.76 L117.34,157.09 L117.37,156.42 L117.39,155.75 L117.40,155.08 L117.41,154.41 L117.41,153.74 L117.42,153.06 L117.43,152.39 L117.44,151.72 L117.44,151.05 L117.45,150.38 L117.45,149.71 L117.46,149.04 L117.47,148.37 L117.47,147.70 L117.48,147.03 L117.48,146.35 L117.48,145.68 L117.49,145.01 L117.49,144.34 L117.50,143.67 L117.50,143.00 L117.50,142.33 L117.50,141.66 L117.50,140.99 L117.50,140.32 L117.50,139.65 L117.50,138.97 L117.50,138.30 L117.50,137.63 L117.50,136.96 L117.50,136.29 L117.50,135.62 L117.50,134.95 L117.50,134.28 L117.50,133.61 L117.50,132.94 L117.50,132.26 L117.50,131.59 L117.50,130.92 L117.50,130.25 L117.50,129.58 L117.50,128.91 L117.50,128.24 L117.50,127.57 L117.50,126.90 L117.50,126.23 L117.50,125.55 L117.50,124.88 L117.50,124.21 L117.50,123.54 L117.50,122.87 L117.50,122.20 L117.50,121.53 L117.50,120.86 L117.50,120.19 L117.50,119.52 L117.50,118.85 L117.50,118.17 L117.50,117.50 L117.50,116.83 L117.50,116.16 L117.50,115.49 L117.50,114.82 L117.50,114.15 L117.50,113.48 L117.50,112.81 L117.50,112.14 L117.50,111.46 L117.50,110.79 L117.50,110.12 L117.50,109.45 L117.50,108.78 L117.50,108.11 L117.50,107.44 L117.50,106.77 L117.50,106.10 L117.50,105.43 L117.50,104.75 L117.50,104.08 L117.50,103.41 L117.50,102.74 L117.50,102.07 L117.50,101.40 L117.50,100.73 L117.50,100.06 L117.50,99.39 L117.50,98.72 L117.50,98.05 L117.50,97.37 L117.50,96.70 L117.50,96.03 L117.50,95.36 L117.50,94.69 L117.50,94.02 L117.50,93.35 L117.50,92.68 L117.50,92.01 L117.50,91.34 L117.50,90.66 L117.50,89.99 L117.50,89.32 L117.50,88.65 L117.50,87.98 L117.50,87.31 L117.50,86.64 L117.50,85.97 L117.50,85.30 L117.50,84.63 L117.50,83.95 L117.50,83.28 L117.50,82.61 L117.50,81.94 L117.50,81.27 L117.50,80.60Z" fill="#B88EC6" stroke="#262626" stroke-width="1.3" stroke-linejoin="round"/>
<path d="M38.8 221.1h0M47.7 206.1h0M46.2 196.4h0M48.7 219.4h0M41.9 225.6h0M46.2 193.1h0M48.5 193.0h0M47.7 198.6h0M48.7 213.7h0M44.9 225.3h0M43.5 201.2h0M39.3 215.5h0" stroke="#D8BC6A" stroke-opacity="0.45" stroke-width="2.2" stroke-linecap="round" fill="none"/>
<path d="M96.5 193.3h0M94.3 207.9h0M91.3 225.0h0M100.6 196.0h0M91.0 220.5h0M92.6 200.5h0M94.6 194.3h0M91.0 220.3h0M98.0 190.4h0M95.6 201.6h0M97.8 230.5h0M99.0 214.9h0" stroke="#D8BC6A" stroke-opacity="0.45" stroke-width="2.2" stroke-linecap="round" fill="none"/>
<path d="M47.0,214.4L97.3,211.3M67.4,200.7L117.5,202.6" stroke="#262626" stroke-width="1.3" fill="none"/>
<circle cx="47.0" cy="214.4" r="4.2" fill="#EDAA00" stroke="#1A1A1A" stroke-width="1.2"/>
<path d="M47.0,210.9V217.9M44.7,210.9H49.3M44.7,217.9H49.3" stroke="#1A1A1A" stroke-width="1" fill="none"/>
<circle cx="67.4" cy="200.7" r="4.2" fill="#87369C" stroke="#1A1A1A" stroke-width="1.2"/>
<path d="M65.10000000000001,200.7H69.7" stroke="#1A1A1A" stroke-width="1.7" fill="none"/>
<circle cx="97.3" cy="211.3" r="4.2" fill="#EDAA00" stroke="#1A1A1A" stroke-width="1.2"/>
<path d="M97.3,207.8V214.8M95.0,207.8H99.6M95.0,214.8H99.6" stroke="#1A1A1A" stroke-width="1" fill="none"/>
<circle cx="117.5" cy="202.6" r="4.2" fill="#87369C" stroke="#1A1A1A" stroke-width="1.2"/>
<path d="M115.2,202.6H119.8" stroke="#1A1A1A" stroke-width="1.7" fill="none"/>
</g>
<path d="M102.6,75.5H119.8" stroke="#1a1a1a" stroke-width="1.2"/>
<polygon points="107.50,67.00 108.21,68.83 110.16,68.93 108.64,70.17 109.15,72.07 107.50,71.00 105.85,72.07 106.36,70.17 104.84,68.93 106.79,68.83" fill="#1a1a1a"/>
<polygon points="113.20,67.00 113.91,68.83 115.86,68.93 114.34,70.17 114.85,72.07 113.20,71.00 111.55,72.07 112.06,70.17 110.54,68.93 112.49,68.83" fill="#1a1a1a"/>
<path d="M46,276.4H97" stroke="#EBAE1E" stroke-width="1.2"/>
<polygon points="65.60,278.50 66.31,280.33 68.26,280.43 66.74,281.67 67.25,283.57 65.60,282.50 63.95,283.57 64.46,281.67 62.94,280.43 64.89,280.33" fill="#EFC24E"/>
<polygon points="71.30,278.50 72.01,280.33 73.96,280.43 72.44,281.67 72.95,283.57 71.30,282.50 69.65,283.57 70.16,281.67 68.64,280.43 70.59,280.33" fill="#EFC24E"/>
<polygon points="77.00,278.50 77.71,280.33 79.66,280.43 78.14,281.67 78.65,283.57 77.00,282.50 75.35,283.57 75.86,281.67 74.34,280.43 76.29,280.33" fill="#EFC24E"/>
<rect x="27.4" y="32.6" width="110.19999999999999" height="258.4" fill="none" stroke="#333" stroke-width="1.2"/>
<path d="M27.4,53.4H137.6" stroke="#333" stroke-width="1.2"/>
<text x="82.5" y="47.6" font-size="10.2" text-anchor="middle" fill="#1a1a1a" >NOSC</text>
<path d="M57.45,291.0v3.4" stroke="#333" stroke-width="1"/>
<text x="53.45" y="303.9" font-size="10" text-anchor="middle" fill="#2E2E2E" >Day 7</text>
<path d="M107.55,291.0v3.4" stroke="#333" stroke-width="1"/>
<text x="107.25" y="303.9" font-size="10" text-anchor="middle" fill="#2E2E2E" >Day 60</text>
<path d="M24.0,84.9H27.4" stroke="#333" stroke-width="1"/>
<text x="21.6" y="88.45" font-size="10" text-anchor="end" fill="#2E2E2E" >2</text>
<path d="M24.0,123.2H27.4" stroke="#333" stroke-width="1"/>
<text x="21.6" y="126.75" font-size="10" text-anchor="end" fill="#2E2E2E" >1</text>
<path d="M24.0,161.5H27.4" stroke="#333" stroke-width="1"/>
<text x="21.6" y="165.05" font-size="10" text-anchor="end" fill="#2E2E2E" >0</text>
<path d="M24.0,199.8H27.4" stroke="#333" stroke-width="1"/>
<text x="21.6" y="203.35000000000002" font-size="10" text-anchor="end" fill="#2E2E2E" >-1</text>
<path d="M24.0,237.9H27.4" stroke="#333" stroke-width="1"/>
<text x="21.6" y="241.45000000000002" font-size="10" text-anchor="end" fill="#2E2E2E" >-2</text>
<path d="M24.0,275.5H27.4" stroke="#333" stroke-width="1"/>
<text x="21.6" y="279.05" font-size="10" text-anchor="end" fill="#2E2E2E" >-3</text>
<clipPath id="cp1"><rect x="168.8" y="53.4" width="110.09999999999997" height="237.6"/></clipPath>
<g clip-path="url(#cp1)">
<path d="M203.20000000000002,118H214.4V165H203.20000000000002Z" fill="#EAEAEA"/>
<path d="M206.4 122.7h0M213.4 145.4h0M210.2 156.4h0M203.9 142.4h0M204.4 159.9h0M210.8 124.1h0M211.7 156.2h0M205.5 139.3h0M212.4 119.7h0M206.2 164.0h0M207.8 158.7h0M208.9 132.6h0M208.2 118.4h0M211.0 127.4h0M212.6 141.6h0M206.9 160.1h0M213.3 131.2h0M204.7 141.7h0M213.8 120.2h0M204.3 145.2h0M208.8 142.0h0M213.4 138.5h0M205.0 162.6h0M207.9 125.1h0M210.1 157.2h0M209.6 152.3h0M212.0 127.9h0M210.8 118.7h0M208.5 127.1h0M209.2 163.8h0M208.1 120.7h0" stroke="#CFCFCF" stroke-opacity="0.55" stroke-width="2.2" stroke-linecap="round" fill="none"/>
<path d="M203.6 149.0h0M203.2 118.9h0M214.0 135.9h0M213.8 148.9h0M203.3 160.6h0M214.8 139.9h0M214.0 131.6h0M214.1 151.8h0M203.9 146.3h0M214.4 155.9h0M213.7 135.8h0M203.1 130.1h0M214.9 122.6h0M214.8 164.1h0M215.0 155.9h0M202.8 127.5h0M203.3 159.3h0M214.3 127.4h0M213.8 131.7h0M202.7 155.7h0M214.0 124.7h0M203.7 124.3h0M203.4 145.4h0M203.1 127.7h0M214.2 131.6h0M203.7 160.5h0M202.7 151.8h0M203.3 136.5h0M213.7 159.2h0M215.0 124.4h0M214.9 119.4h0M203.8 118.7h0M214.3 128.0h0M203.6 145.8h0M214.7 123.1h0M213.8 144.4h0M203.4 143.5h0M214.1 158.6h0M214.4 142.0h0M203.0 154.0h0M214.6 130.1h0M214.2 137.9h0M205.2 114.9h0M211.3 115.4h0M213.0 115.9h0M208.4 116.1h0M213.5 116.9h0M211.0 116.7h0M213.7 167.5h0M203.5 165.2h0M210.0 165.0h0M208.8 170.1h0M209.3 170.4h0M207.3 169.0h0M209.9 168.1h0M213.7 165.7h0M209.6 168.0h0M207.4 171.5h0M204.5 165.1h0M210.5 165.5h0M211.9 168.2h0M213.2 168.2h0" stroke="#EAEAEA" stroke-width="2.2" stroke-linecap="round" fill="none"/>
<path d="M203.20000000000002,165H214.4V252H203.20000000000002Z" fill="#E0E0E0"/>
<path d="M204.9 172.2h0M208.3 230.3h0M208.9 177.8h0M209.3 190.8h0M212.4 229.7h0M209.7 170.1h0M208.4 250.6h0M204.7 232.0h0M209.6 241.0h0M211.7 242.3h0M204.3 240.6h0M205.7 227.3h0M207.0 188.1h0M210.1 216.4h0M203.8 246.0h0M207.4 181.8h0M209.3 236.2h0M211.5 209.5h0M206.7 222.0h0M208.4 172.6h0M209.8 241.6h0M208.2 169.6h0M209.6 198.5h0M213.4 216.1h0M207.9 194.4h0M212.7 218.4h0M208.5 226.4h0M208.7 235.9h0M206.6 248.8h0M212.2 176.1h0M212.3 190.9h0M208.9 218.0h0M211.7 172.6h0M213.5 170.7h0M206.8 241.3h0M212.7 176.1h0M205.0 206.7h0M206.2 208.4h0M210.2 200.5h0M211.9 244.6h0M208.6 179.0h0M213.8 207.8h0M208.9 172.6h0M207.8 244.5h0M209.4 187.8h0M213.2 192.8h0M205.8 172.4h0M211.0 172.3h0M212.9 190.5h0M213.3 242.7h0M203.7 187.3h0M213.5 198.7h0M204.3 231.4h0M213.1 226.1h0M211.0 249.2h0M212.3 240.1h0M204.7 196.2h0M205.1 228.3h0" stroke="#CFCFCF" stroke-opacity="0.55" stroke-width="2.2" stroke-linecap="round" fill="none"/>
<path d="M214.4 198.4h0M214.9 210.4h0M202.7 189.7h0M214.1 196.7h0M203.7 176.0h0M214.8 165.8h0M203.0 217.0h0M213.7 168.7h0M203.3 208.5h0M203.1 229.1h0M213.9 218.6h0M203.8 243.1h0M214.9 211.4h0M203.4 179.9h0M214.9 212.6h0M214.1 229.1h0M202.6 171.6h0M214.7 166.5h0M203.3 180.3h0M202.6 218.5h0M214.6 224.8h0M203.4 205.6h0M203.6 196.8h0M203.8 186.1h0M214.8 203.3h0M203.5 238.8h0M203.5 218.9h0M214.2 213.3h0M213.8 221.6h0M214.5 249.0h0M202.8 234.2h0M214.6 193.4h0M203.0 188.0h0M213.7 182.5h0M203.1 233.8h0M214.5 193.0h0M203.2 172.3h0M214.2 218.7h0M214.2 184.6h0M214.1 229.8h0M203.1 172.6h0M214.8 245.2h0M203.6 170.0h0M214.1 225.7h0M203.3 193.0h0M203.1 225.4h0M214.5 224.0h0M203.1 195.0h0M204.0 205.0h0M213.9 208.4h0M203.1 198.6h0M203.5 242.7h0M203.8 174.1h0M213.8 242.6h0M203.8 196.5h0M203.6 192.7h0M203.5 227.1h0M213.8 233.8h0M203.6 215.5h0M203.0 236.5h0M214.7 176.7h0M203.1 251.3h0M214.6 240.8h0M213.9 221.1h0M214.9 197.2h0M214.2 191.3h0M203.4 166.9h0M213.9 234.4h0M203.3 222.4h0M214.2 181.4h0M213.7 229.8h0M203.7 205.3h0M214.9 234.6h0M214.5 238.1h0M214.6 181.3h0M214.6 230.0h0M214.5 237.2h0M203.5 210.0h0M204.9 163.7h0M207.3 163.0h0M212.7 163.3h0M210.8 162.3h0M205.6 161.1h0M204.2 163.0h0M213.8 254.6h0M211.7 256.9h0M208.9 252.5h0M208.1 252.7h0M208.9 254.8h0M206.6 255.9h0M214.3 255.1h0M205.8 254.9h0M204.8 252.2h0M212.8 252.1h0M208.0 253.4h0M204.4 255.9h0M207.1 256.7h0M213.5 254.5h0" stroke="#E0E0E0" stroke-width="2.2" stroke-linecap="round" fill="none"/>
<path d="M253.4,128H264.6V168H253.4Z" fill="#EAEAEA"/>
<path d="M264.0 149.4h0M255.4 156.8h0M255.5 150.1h0M263.5 129.6h0M255.8 141.5h0M260.6 132.1h0M254.0 146.4h0M256.5 156.6h0M258.9 159.2h0M258.6 149.4h0M264.0 155.0h0M254.6 159.9h0M256.3 147.8h0M255.9 132.1h0M263.7 137.9h0M262.6 157.8h0M257.1 156.0h0M258.4 143.6h0M258.2 139.7h0M254.7 158.8h0M258.8 139.1h0M260.5 155.0h0M255.0 157.0h0M257.1 135.2h0M261.6 139.3h0M260.9 167.7h0" stroke="#CFCFCF" stroke-opacity="0.55" stroke-width="2.2" stroke-linecap="round" fill="none"/>
<path d="M253.1 129.3h0M253.4 165.0h0M264.7 142.0h0M253.7 162.6h0M264.0 135.6h0M253.3 162.0h0M264.3 167.6h0M253.3 159.8h0M264.7 130.7h0M253.6 155.5h0M264.5 135.5h0M264.5 156.7h0M263.9 131.2h0M253.9 135.6h0M264.3 144.6h0M254.2 160.7h0M264.5 132.1h0M264.2 145.6h0M265.0 149.7h0M253.7 161.0h0M253.8 129.0h0M265.0 154.3h0M264.5 159.9h0M264.4 161.7h0M264.3 138.6h0M253.0 158.7h0M264.3 133.6h0M252.9 146.5h0M253.2 165.7h0M264.2 155.1h0M253.0 142.9h0M254.1 139.0h0M253.2 140.6h0M253.9 128.2h0M253.3 163.9h0M264.1 150.4h0M261.9 124.5h0M255.2 125.9h0M257.6 127.1h0M254.1 126.7h0M258.4 126.4h0M257.7 126.9h0M257.6 171.0h0M259.0 169.5h0M262.3 171.9h0M258.5 170.0h0M261.8 169.1h0M262.5 168.5h0M261.5 169.3h0M261.2 172.2h0M256.3 171.5h0M257.8 172.6h0M260.8 174.0h0M262.1 168.9h0M260.6 172.5h0M253.8 168.6h0" stroke="#EAEAEA" stroke-width="2.2" stroke-linecap="round" fill="none"/>
<path d="M253.4,168H264.6V251H253.4Z" fill="#E0E0E0"/>
<path d="M256.6 184.0h0M255.7 206.3h0M257.4 212.7h0M259.3 222.4h0M256.4 225.0h0M261.4 226.7h0M254.6 227.9h0M259.8 246.5h0M258.3 190.6h0M259.2 211.0h0M256.6 188.6h0M261.9 198.2h0M254.3 204.3h0M256.0 205.5h0M263.9 169.0h0M259.4 192.4h0M254.4 197.7h0M263.4 242.8h0M258.2 183.5h0M255.6 199.0h0M261.9 222.9h0M260.8 231.1h0M256.2 169.5h0M261.1 210.7h0M258.5 200.1h0M254.1 237.8h0M256.9 190.3h0M256.2 250.4h0M258.1 171.9h0M255.5 221.9h0M255.9 237.7h0M255.6 226.5h0M256.0 241.2h0M262.5 228.7h0M254.8 189.2h0M259.0 216.6h0M261.9 207.8h0M259.0 206.4h0M258.5 208.4h0M255.5 201.7h0M256.6 192.5h0M261.9 188.6h0M256.0 177.5h0M257.1 211.7h0M257.7 187.9h0M260.8 209.7h0M262.6 248.7h0M258.5 203.7h0M256.3 202.5h0M254.6 247.0h0M260.7 185.0h0M256.7 216.9h0M258.1 245.8h0M254.8 217.5h0M255.0 241.9h0" stroke="#CFCFCF" stroke-opacity="0.55" stroke-width="2.2" stroke-linecap="round" fill="none"/>
<path d="M265.1 200.7h0M265.0 243.0h0M253.6 187.4h0M252.9 173.2h0M253.9 168.7h0M253.5 169.1h0M253.2 174.3h0M265.0 198.7h0M265.0 234.1h0M253.3 245.1h0M252.9 197.2h0M263.9 196.8h0M253.9 240.0h0M264.2 215.1h0M253.9 244.3h0M253.7 171.6h0M253.6 250.1h0M254.2 248.7h0M254.1 192.5h0M265.0 245.0h0M264.6 179.9h0M264.2 225.6h0M253.8 199.9h0M252.9 182.6h0M264.8 241.7h0M253.8 208.7h0M264.3 197.0h0M265.1 216.0h0M254.0 192.7h0M264.9 228.9h0M253.2 237.5h0M264.2 249.1h0M254.1 211.3h0M253.2 204.4h0M265.1 232.6h0M253.8 188.5h0M264.8 237.1h0M264.4 195.6h0M264.9 237.3h0M253.5 232.9h0M253.2 242.4h0M253.7 221.1h0M253.4 212.1h0M265.2 177.2h0M252.9 248.2h0M254.0 212.1h0M253.2 236.1h0M253.4 236.7h0M264.8 172.1h0M264.2 243.5h0M253.7 233.2h0M264.3 202.0h0M264.3 168.5h0M253.1 177.0h0M264.2 203.4h0M264.9 197.9h0M264.4 207.0h0M265.1 214.2h0M253.2 190.2h0M265.1 175.2h0M264.9 209.4h0M253.3 235.7h0M253.5 244.0h0M252.9 229.7h0M253.7 221.2h0M264.6 215.4h0M264.8 243.1h0M263.9 244.7h0M253.1 231.9h0M253.5 192.6h0M253.8 236.4h0M253.0 208.5h0M264.1 190.4h0M264.6 193.2h0M263.3 165.4h0M256.2 164.5h0M260.5 165.0h0M262.1 166.5h0M258.8 164.4h0M254.8 164.3h0M262.0 255.1h0M260.0 254.1h0M255.0 253.1h0M261.7 251.9h0M256.3 255.3h0M263.6 251.7h0M259.0 251.5h0M258.4 253.8h0M259.0 255.1h0M255.2 254.6h0M254.1 253.7h0M261.2 253.2h0M264.3 252.4h0M260.5 251.4h0" stroke="#E0E0E0" stroke-width="2.2" stroke-linecap="round" fill="none"/>
<path d="M208.1 118.9h0M206.2 117.9h0M214.6 114.5h0M208.9 115.5h0M206.5 117.7h0M203.0 118.2h0M204.9 109.8h0M214.1 110.1h0M206.4 103.1h0M211.2 115.2h0M207.4 117.6h0M213.0 109.4h0M203.6 107.0h0M208.7 109.6h0M211.5 119.4h0M209.1 115.0h0" stroke="#D8D8D8" stroke-opacity="0.85" stroke-width="2.3" stroke-linecap="round" fill="none"/>
<path d="M260.5 125.8h0M254.1 119.5h0M262.4 116.2h0M262.6 124.9h0M263.8 110.3h0M264.1 120.5h0M259.6 124.3h0M260.5 127.6h0M254.9 125.5h0M257.3 124.4h0M254.6 111.9h0M256.2 122.3h0M254.5 126.9h0M265.0 107.9h0" stroke="#D8D8D8" stroke-opacity="0.85" stroke-width="2.3" stroke-linecap="round" fill="none"/>
<path d="M208.9 83.1h0M205.3 78.8h0M212.3 86.9h0M212.8 71.6h0M209.5 111.6h0M205.6 85.1h0M206.7 77.7h0M202.8 105.8h0M210.8 103.0h0M203.6 70.8h0" stroke="#D4D4D4" stroke-opacity="0.8" stroke-width="2.3" stroke-linecap="round" fill="none"/>
<path d="M261.1 111.0h0M263.3 88.6h0M258.1 83.1h0M260.7 78.1h0M255.2 76.6h0M259.0 112.6h0M261.8 107.1h0M255.4 104.1h0" stroke="#D4D4D4" stroke-opacity="0.8" stroke-width="2.3" stroke-linecap="round" fill="none"/>
<path d="M188.50,178.00 L188.50,178.68 L188.50,179.35 L188.50,180.03 L188.50,180.70 L188.50,181.38 L188.50,182.05 L188.56,182.73 L188.60,183.40 L188.65,184.08 L188.68,184.76 L188.72,185.43 L188.76,186.11 L188.79,186.78 L188.83,187.46 L188.87,188.13 L188.90,188.81 L188.94,189.48 L188.98,190.16 L189.01,190.84 L189.04,191.51 L189.08,192.19 L189.11,192.86 L189.14,193.54 L189.17,194.21 L189.20,194.89 L189.23,195.56 L189.26,196.24 L189.29,196.92 L189.32,197.59 L189.35,198.27 L189.37,198.94 L189.40,199.62 L189.42,200.29 L189.45,200.97 L189.48,201.64 L189.50,202.32 L189.53,203.00 L189.56,203.67 L189.58,204.35 L189.61,205.02 L189.64,205.70 L189.66,206.37 L189.69,207.05 L189.71,207.72 L189.73,208.40 L189.76,209.08 L189.78,209.75 L189.81,210.43 L189.84,211.10 L189.86,211.78 L189.89,212.45 L189.92,213.13 L189.95,213.80 L189.99,214.48 L190.03,215.16 L190.07,215.83 L190.11,216.51 L190.15,217.18 L190.20,217.86 L190.25,218.53 L190.31,219.21 L190.36,219.88 L190.42,220.56 L190.48,221.24 L190.54,221.91 L190.60,222.59 L190.66,223.26 L190.73,223.94 L190.81,224.61 L190.89,225.29 L190.96,225.96 L191.04,226.64 L191.12,227.32 L191.20,227.99 L191.27,228.67 L191.33,229.34 L191.40,230.02 L191.48,230.69 L191.55,231.37 L191.63,232.04 L191.70,232.72 L191.78,233.40 L191.85,234.07 L191.91,234.75 L191.97,235.42 L192.02,236.10 L192.05,236.77 L192.08,237.45 L192.10,238.12 L192.10,238.80 L192.08,239.48 L192.05,240.15 L192.01,240.83 L191.96,241.50 L191.91,242.18 L191.85,242.85 L191.78,243.53 L191.72,244.20 L191.65,244.88 L191.57,245.56 L191.49,246.23 L191.39,246.91 L191.29,247.58 L191.17,248.26 L191.06,248.93 L190.94,249.61 L190.82,250.28 L190.69,250.96 L190.55,251.64 L190.39,252.31 L190.23,252.99 L190.06,253.66 L189.90,254.34 L189.75,255.01 L189.61,255.69 L189.49,256.36 L189.38,257.04 L189.28,257.72 L189.18,258.39 L189.08,259.07 L188.99,259.74 L188.91,260.42 L188.83,261.09 L188.75,261.77 L188.69,262.44 L188.63,263.12 L188.58,263.80 L188.53,264.47 L188.50,265.15 L188.50,265.82 L188.50,266.50 L188.50,267.17 L188.50,267.85 L188.50,268.52 L188.50,269.20 L188.50,269.20 L188.50,268.52 L188.50,267.85 L188.50,267.17 L188.50,266.50 L188.50,265.82 L188.50,265.15 L188.47,264.47 L188.42,263.80 L188.37,263.12 L188.31,262.44 L188.25,261.77 L188.17,261.09 L188.09,260.42 L188.01,259.74 L187.92,259.07 L187.82,258.39 L187.72,257.72 L187.62,257.04 L187.51,256.36 L187.39,255.69 L187.25,255.01 L187.10,254.34 L186.94,253.66 L186.77,252.99 L186.61,252.31 L186.45,251.64 L186.31,250.96 L186.18,250.28 L186.06,249.61 L185.94,248.93 L185.83,248.26 L185.71,247.58 L185.61,246.91 L185.51,246.23 L185.43,245.56 L185.35,244.88 L185.28,244.20 L185.22,243.53 L185.15,242.85 L185.09,242.18 L185.04,241.50 L184.99,240.83 L184.95,240.15 L184.92,239.48 L184.90,238.80 L184.90,238.12 L184.92,237.45 L184.95,236.77 L184.98,236.10 L185.03,235.42 L185.09,234.75 L185.15,234.07 L185.22,233.40 L185.30,232.72 L185.37,232.04 L185.45,231.37 L185.52,230.69 L185.60,230.02 L185.67,229.34 L185.73,228.67 L185.80,227.99 L185.88,227.32 L185.96,226.64 L186.04,225.96 L186.11,225.29 L186.19,224.61 L186.27,223.94 L186.34,223.26 L186.40,222.59 L186.46,221.91 L186.52,221.24 L186.58,220.56 L186.64,219.88 L186.69,219.21 L186.75,218.53 L186.80,217.86 L186.85,217.18 L186.89,216.51 L186.93,215.83 L186.97,215.16 L187.01,214.48 L187.05,213.80 L187.08,213.13 L187.11,212.45 L187.14,211.78 L187.16,211.10 L187.19,210.43 L187.22,209.75 L187.24,209.08 L187.27,208.40 L187.29,207.72 L187.31,207.05 L187.34,206.37 L187.36,205.70 L187.39,205.02 L187.42,204.35 L187.44,203.67 L187.47,203.00 L187.50,202.32 L187.52,201.64 L187.55,200.97 L187.58,200.29 L187.60,199.62 L187.63,198.94 L187.65,198.27 L187.68,197.59 L187.71,196.92 L187.74,196.24 L187.77,195.56 L187.80,194.89 L187.83,194.21 L187.86,193.54 L187.89,192.86 L187.92,192.19 L187.96,191.51 L187.99,190.84 L188.02,190.16 L188.06,189.48 L188.10,188.81 L188.13,188.13 L188.17,187.46 L188.21,186.78 L188.24,186.11 L188.28,185.43 L188.32,184.76 L188.35,184.08 L188.40,183.40 L188.44,182.73 L188.50,182.05 L188.50,181.38 L188.50,180.70 L188.50,180.03 L188.50,179.35 L188.50,178.68 L188.50,178.00Z" fill="#F3D680" stroke="#262626" stroke-width="1.3" stroke-linejoin="round"/>
<path d="M208.90,63.60 L208.90,64.27 L208.90,64.94 L208.90,65.61 L208.90,66.28 L208.90,66.95 L208.90,67.62 L208.90,68.29 L208.90,68.97 L208.90,69.64 L208.90,70.31 L208.90,70.98 L208.90,71.65 L208.90,72.32 L208.90,72.99 L208.90,73.66 L208.90,74.33 L208.90,75.00 L208.90,75.67 L208.90,76.34 L208.90,77.01 L208.90,77.68 L208.90,78.35 L208.90,79.03 L208.90,79.70 L208.90,80.37 L208.90,81.04 L208.90,81.71 L208.90,82.38 L208.90,83.05 L208.90,83.72 L208.90,84.39 L208.90,85.06 L208.90,85.73 L208.90,86.40 L208.90,87.07 L208.90,87.74 L208.90,88.41 L208.90,89.09 L208.90,89.76 L208.90,90.43 L208.90,91.10 L208.90,91.77 L208.90,92.44 L208.90,93.11 L208.90,93.78 L208.90,94.45 L208.90,95.12 L208.90,95.79 L208.90,96.46 L208.90,97.13 L208.90,97.80 L208.90,98.47 L208.90,99.15 L208.90,99.82 L208.90,100.49 L208.90,101.16 L208.90,101.83 L208.90,102.50 L208.90,103.17 L208.90,103.84 L208.90,104.51 L208.90,105.18 L208.90,105.85 L208.90,106.52 L208.90,107.19 L208.90,107.86 L208.90,108.53 L208.90,109.21 L208.90,109.88 L208.90,110.55 L208.90,111.22 L208.90,111.89 L208.90,112.56 L208.90,113.23 L208.90,113.90 L208.90,114.57 L208.90,115.24 L208.90,115.91 L208.90,116.58 L208.90,117.25 L208.90,117.92 L208.90,118.60 L208.90,119.27 L208.90,119.94 L208.90,120.61 L208.90,121.28 L208.90,121.95 L208.90,122.62 L208.90,123.29 L208.90,123.96 L208.90,124.63 L208.90,125.30 L208.90,125.97 L208.90,126.64 L208.90,127.31 L208.90,127.98 L208.90,128.66 L208.90,129.33 L208.90,130.00 L208.90,130.67 L208.90,131.34 L208.90,132.01 L208.90,132.68 L208.90,133.35 L208.90,134.02 L208.90,134.69 L208.90,135.36 L208.90,136.03 L208.90,136.70 L208.90,137.37 L208.90,138.04 L208.90,138.72 L208.90,139.39 L208.90,140.06 L208.90,140.73 L208.90,141.40 L208.90,142.07 L208.90,142.74 L208.90,143.41 L208.90,144.08 L208.90,144.75 L208.90,145.42 L208.90,146.09 L208.90,146.76 L208.90,147.43 L208.90,148.10 L208.90,148.78 L208.90,149.45 L208.90,150.12 L208.90,150.79 L208.90,151.46 L208.90,152.13 L208.90,152.80 L208.90,153.47 L208.90,154.14 L208.91,154.81 L208.91,155.48 L208.91,156.15 L208.91,156.82 L208.91,157.49 L208.91,158.16 L208.92,158.84 L208.92,159.51 L208.92,160.18 L208.92,160.85 L208.92,161.52 L208.93,162.19 L208.93,162.86 L208.93,163.53 L208.93,164.20 L208.94,164.87 L208.94,165.54 L208.94,166.21 L208.94,166.88 L208.94,167.55 L208.95,168.22 L208.95,168.90 L208.95,169.57 L208.95,170.24 L208.96,170.91 L208.96,171.58 L208.96,172.25 L208.97,172.92 L208.97,173.59 L208.97,174.26 L208.97,174.93 L208.98,175.60 L208.98,176.27 L208.98,176.94 L208.99,177.61 L208.99,178.28 L208.99,178.96 L209.00,179.63 L209.00,180.30 L209.01,180.97 L209.01,181.64 L209.01,182.31 L209.02,182.98 L209.02,183.65 L209.03,184.32 L209.03,184.99 L209.04,185.66 L209.04,186.33 L209.05,187.00 L209.05,187.67 L209.06,188.34 L209.07,189.02 L209.07,189.69 L209.08,190.36 L209.09,191.03 L209.09,191.70 L209.10,192.37 L209.11,193.04 L209.12,193.71 L209.13,194.38 L209.13,195.05 L209.14,195.72 L209.15,196.39 L209.16,197.06 L209.17,197.73 L209.18,198.40 L209.19,199.08 L209.20,199.75 L209.21,200.42 L209.22,201.09 L209.23,201.76 L209.24,202.43 L209.25,203.10 L209.27,203.77 L209.28,204.44 L209.30,205.11 L209.32,205.78 L209.33,206.45 L209.35,207.12 L209.37,207.79 L209.39,208.47 L209.42,209.14 L209.45,209.81 L209.48,210.48 L209.52,211.15 L209.56,211.82 L209.60,212.49 L209.64,213.16 L209.67,213.83 L209.69,214.50 L209.71,215.17 L209.73,215.84 L209.74,216.51 L209.75,217.18 L209.76,217.85 L209.77,218.53 L209.79,219.20 L209.81,219.87 L209.84,220.54 L209.88,221.21 L209.92,221.88 L209.97,222.55 L210.02,223.22 L210.08,223.89 L210.13,224.56 L210.18,225.23 L210.23,225.90 L210.27,226.57 L210.31,227.24 L210.34,227.91 L210.37,228.59 L210.39,229.26 L210.41,229.93 L210.44,230.60 L210.47,231.27 L210.51,231.94 L210.56,232.61 L210.63,233.28 L210.83,233.95 L211.18,234.62 L211.62,235.29 L212.10,235.96 L212.65,236.63 L213.37,237.30 L214.16,237.97 L214.94,238.65 L215.60,239.32 L216.24,239.99 L216.79,240.66 L217.18,241.33 L217.50,242.00 L217.59,242.67 L217.37,243.34 L216.96,244.01 L216.48,244.68 L215.76,245.35 L214.88,246.02 L213.98,246.69 L212.97,247.36 L211.89,248.03 L210.93,248.71 L210.17,249.38 L209.52,250.05 L209.17,250.72 L208.97,251.39 L208.90,252.06 L208.90,252.73 L208.90,253.40 L208.90,253.40 L208.90,252.73 L208.90,252.06 L208.83,251.39 L208.63,250.72 L208.28,250.05 L207.63,249.38 L206.87,248.71 L205.91,248.03 L204.83,247.36 L203.82,246.69 L202.92,246.02 L202.04,245.35 L201.32,244.68 L200.84,244.01 L200.43,243.34 L200.21,242.67 L200.30,242.00 L200.62,241.33 L201.01,240.66 L201.56,239.99 L202.20,239.32 L202.86,238.65 L203.64,237.97 L204.43,237.30 L205.15,236.63 L205.70,235.96 L206.18,235.29 L206.62,234.62 L206.97,233.95 L207.17,233.28 L207.24,232.61 L207.29,231.94 L207.33,231.27 L207.36,230.60 L207.39,229.93 L207.41,229.26 L207.43,228.59 L207.46,227.91 L207.49,227.24 L207.53,226.57 L207.57,225.90 L207.62,225.23 L207.67,224.56 L207.72,223.89 L207.78,223.22 L207.83,222.55 L207.88,221.88 L207.92,221.21 L207.96,220.54 L207.99,219.87 L208.01,219.20 L208.03,218.53 L208.04,217.85 L208.05,217.18 L208.06,216.51 L208.07,215.84 L208.09,215.17 L208.11,214.50 L208.13,213.83 L208.16,213.16 L208.20,212.49 L208.24,211.82 L208.28,211.15 L208.32,210.48 L208.35,209.81 L208.38,209.14 L208.41,208.47 L208.43,207.79 L208.45,207.12 L208.47,206.45 L208.48,205.78 L208.50,205.11 L208.52,204.44 L208.53,203.77 L208.55,203.10 L208.56,202.43 L208.57,201.76 L208.58,201.09 L208.59,200.42 L208.60,199.75 L208.61,199.08 L208.62,198.40 L208.63,197.73 L208.64,197.06 L208.65,196.39 L208.66,195.72 L208.67,195.05 L208.67,194.38 L208.68,193.71 L208.69,193.04 L208.70,192.37 L208.71,191.70 L208.71,191.03 L208.72,190.36 L208.73,189.69 L208.73,189.02 L208.74,188.34 L208.75,187.67 L208.75,187.00 L208.76,186.33 L208.76,185.66 L208.77,184.99 L208.77,184.32 L208.78,183.65 L208.78,182.98 L208.79,182.31 L208.79,181.64 L208.79,180.97 L208.80,180.30 L208.80,179.63 L208.81,178.96 L208.81,178.28 L208.81,177.61 L208.82,176.94 L208.82,176.27 L208.82,175.60 L208.83,174.93 L208.83,174.26 L208.83,173.59 L208.83,172.92 L208.84,172.25 L208.84,171.58 L208.84,170.91 L208.85,170.24 L208.85,169.57 L208.85,168.90 L208.85,168.22 L208.86,167.55 L208.86,166.88 L208.86,166.21 L208.86,165.54 L208.86,164.87 L208.87,164.20 L208.87,163.53 L208.87,162.86 L208.87,162.19 L208.88,161.52 L208.88,160.85 L208.88,160.18 L208.88,159.51 L208.88,158.84 L208.89,158.16 L208.89,157.49 L208.89,156.82 L208.89,156.15 L208.89,155.48 L208.89,154.81 L208.90,154.14 L208.90,153.47 L208.90,152.80 L208.90,152.13 L208.90,151.46 L208.90,150.79 L208.90,150.12 L208.90,149.45 L208.90,148.78 L208.90,148.10 L208.90,147.43 L208.90,146.76 L208.90,146.09 L208.90,145.42 L208.90,144.75 L208.90,144.08 L208.90,143.41 L208.90,142.74 L208.90,142.07 L208.90,141.40 L208.90,140.73 L208.90,140.06 L208.90,139.39 L208.90,138.72 L208.90,138.04 L208.90,137.37 L208.90,136.70 L208.90,136.03 L208.90,135.36 L208.90,134.69 L208.90,134.02 L208.90,133.35 L208.90,132.68 L208.90,132.01 L208.90,131.34 L208.90,130.67 L208.90,130.00 L208.90,129.33 L208.90,128.66 L208.90,127.98 L208.90,127.31 L208.90,126.64 L208.90,125.97 L208.90,125.30 L208.90,124.63 L208.90,123.96 L208.90,123.29 L208.90,122.62 L208.90,121.95 L208.90,121.28 L208.90,120.61 L208.90,119.94 L208.90,119.27 L208.90,118.60 L208.90,117.92 L208.90,117.25 L208.90,116.58 L208.90,115.91 L208.90,115.24 L208.90,114.57 L208.90,113.90 L208.90,113.23 L208.90,112.56 L208.90,111.89 L208.90,111.22 L208.90,110.55 L208.90,109.88 L208.90,109.21 L208.90,108.53 L208.90,107.86 L208.90,107.19 L208.90,106.52 L208.90,105.85 L208.90,105.18 L208.90,104.51 L208.90,103.84 L208.90,103.17 L208.90,102.50 L208.90,101.83 L208.90,101.16 L208.90,100.49 L208.90,99.82 L208.90,99.15 L208.90,98.47 L208.90,97.80 L208.90,97.13 L208.90,96.46 L208.90,95.79 L208.90,95.12 L208.90,94.45 L208.90,93.78 L208.90,93.11 L208.90,92.44 L208.90,91.77 L208.90,91.10 L208.90,90.43 L208.90,89.76 L208.90,89.09 L208.90,88.41 L208.90,87.74 L208.90,87.07 L208.90,86.40 L208.90,85.73 L208.90,85.06 L208.90,84.39 L208.90,83.72 L208.90,83.05 L208.90,82.38 L208.90,81.71 L208.90,81.04 L208.90,80.37 L208.90,79.70 L208.90,79.03 L208.90,78.35 L208.90,77.68 L208.90,77.01 L208.90,76.34 L208.90,75.67 L208.90,75.00 L208.90,74.33 L208.90,73.66 L208.90,72.99 L208.90,72.32 L208.90,71.65 L208.90,70.98 L208.90,70.31 L208.90,69.64 L208.90,68.97 L208.90,68.29 L208.90,67.62 L208.90,66.95 L208.90,66.28 L208.90,65.61 L208.90,64.94 L208.90,64.27 L208.90,63.60Z" fill="#B88EC6" stroke="#262626" stroke-width="1.3" stroke-linejoin="round"/>
<path d="M238.70,181.90 L238.70,182.58 L238.70,183.25 L238.70,183.93 L238.70,184.61 L238.70,185.29 L238.70,185.96 L238.74,186.64 L238.78,187.32 L238.81,188.00 L238.85,188.67 L238.87,189.35 L238.90,190.03 L238.92,190.70 L238.95,191.38 L238.97,192.06 L239.00,192.74 L239.03,193.41 L239.06,194.09 L239.10,194.77 L239.14,195.44 L239.19,196.12 L239.24,196.80 L239.30,197.48 L239.36,198.15 L239.42,198.83 L239.48,199.51 L239.55,200.19 L239.62,200.86 L239.69,201.54 L239.75,202.22 L239.82,202.89 L239.89,203.57 L239.96,204.25 L240.02,204.93 L240.09,205.60 L240.16,206.28 L240.22,206.96 L240.30,207.63 L240.37,208.31 L240.44,208.99 L240.51,209.67 L240.58,210.34 L240.65,211.02 L240.72,211.70 L240.78,212.38 L240.85,213.05 L240.91,213.73 L240.97,214.41 L241.03,215.08 L241.09,215.76 L241.15,216.44 L241.21,217.12 L241.27,217.79 L241.33,218.47 L241.39,219.15 L241.44,219.83 L241.49,220.50 L241.53,221.18 L241.57,221.86 L241.60,222.53 L241.62,223.21 L241.65,223.89 L241.67,224.57 L241.69,225.24 L241.71,225.92 L241.73,226.60 L241.75,227.27 L241.76,227.95 L241.77,228.63 L241.79,229.31 L241.80,229.98 L241.81,230.66 L241.82,231.34 L241.83,232.02 L241.84,232.69 L241.86,233.37 L241.87,234.05 L241.87,234.72 L241.88,235.40 L241.89,236.08 L241.89,236.76 L241.90,237.43 L241.90,238.11 L241.90,238.79 L241.87,239.47 L241.83,240.14 L241.77,240.82 L241.70,241.50 L241.62,242.17 L241.53,242.85 L241.43,243.53 L241.33,244.21 L241.22,244.88 L241.12,245.56 L241.02,246.24 L240.93,246.91 L240.82,247.59 L240.70,248.27 L240.57,248.95 L240.45,249.62 L240.31,250.30 L240.18,250.98 L240.05,251.66 L239.92,252.33 L239.80,253.01 L239.69,253.69 L239.59,254.36 L239.50,255.04 L239.41,255.72 L239.33,256.40 L239.25,257.07 L239.17,257.75 L239.10,258.43 L239.02,259.10 L238.95,259.78 L238.87,260.46 L238.80,261.14 L238.74,261.81 L238.70,262.49 L238.70,263.17 L238.70,263.85 L238.70,264.52 L238.70,265.20 L238.70,265.20 L238.70,264.52 L238.70,263.85 L238.70,263.17 L238.70,262.49 L238.66,261.81 L238.60,261.14 L238.53,260.46 L238.45,259.78 L238.38,259.10 L238.30,258.43 L238.23,257.75 L238.15,257.07 L238.07,256.40 L237.99,255.72 L237.90,255.04 L237.81,254.36 L237.71,253.69 L237.60,253.01 L237.48,252.33 L237.35,251.66 L237.22,250.98 L237.09,250.30 L236.95,249.62 L236.83,248.95 L236.70,248.27 L236.58,247.59 L236.47,246.91 L236.38,246.24 L236.28,245.56 L236.18,244.88 L236.07,244.21 L235.97,243.53 L235.87,242.85 L235.78,242.17 L235.70,241.50 L235.63,240.82 L235.57,240.14 L235.53,239.47 L235.50,238.79 L235.50,238.11 L235.50,237.43 L235.51,236.76 L235.51,236.08 L235.52,235.40 L235.53,234.72 L235.53,234.05 L235.54,233.37 L235.56,232.69 L235.57,232.02 L235.58,231.34 L235.59,230.66 L235.60,229.98 L235.61,229.31 L235.63,228.63 L235.64,227.95 L235.65,227.27 L235.67,226.60 L235.69,225.92 L235.71,225.24 L235.73,224.57 L235.75,223.89 L235.78,223.21 L235.80,222.53 L235.83,221.86 L235.87,221.18 L235.91,220.50 L235.96,219.83 L236.01,219.15 L236.07,218.47 L236.13,217.79 L236.19,217.12 L236.25,216.44 L236.31,215.76 L236.37,215.08 L236.43,214.41 L236.49,213.73 L236.55,213.05 L236.62,212.38 L236.68,211.70 L236.75,211.02 L236.82,210.34 L236.89,209.67 L236.96,208.99 L237.03,208.31 L237.10,207.63 L237.18,206.96 L237.24,206.28 L237.31,205.60 L237.38,204.93 L237.44,204.25 L237.51,203.57 L237.58,202.89 L237.65,202.22 L237.71,201.54 L237.78,200.86 L237.85,200.19 L237.92,199.51 L237.98,198.83 L238.04,198.15 L238.10,197.48 L238.16,196.80 L238.21,196.12 L238.26,195.44 L238.30,194.77 L238.34,194.09 L238.37,193.41 L238.40,192.74 L238.43,192.06 L238.45,191.38 L238.48,190.70 L238.50,190.03 L238.53,189.35 L238.55,188.67 L238.59,188.00 L238.62,187.32 L238.66,186.64 L238.70,185.96 L238.70,185.29 L238.70,184.61 L238.70,183.93 L238.70,183.25 L238.70,182.58 L238.70,181.90Z" fill="#F3D680" stroke="#262626" stroke-width="1.3" stroke-linejoin="round"/>
<path d="M259.00,65.30 L259.00,65.97 L259.00,66.64 L259.00,67.31 L259.00,67.98 L259.00,68.65 L259.00,69.32 L259.00,69.99 L259.00,70.66 L259.00,71.32 L259.00,71.99 L259.00,72.66 L259.00,73.33 L259.00,74.00 L259.00,74.67 L259.00,75.34 L259.00,76.01 L259.00,76.68 L259.00,77.35 L259.00,78.02 L259.00,78.69 L259.00,79.36 L259.00,80.03 L259.00,80.70 L259.00,81.37 L259.00,82.04 L259.00,82.71 L259.00,83.37 L259.00,84.04 L259.00,84.71 L259.00,85.38 L259.00,86.05 L259.00,86.72 L259.00,87.39 L259.00,88.06 L259.00,88.73 L259.00,89.40 L259.00,90.07 L259.00,90.74 L259.00,91.41 L259.00,92.08 L259.00,92.75 L259.00,93.42 L259.00,94.09 L259.00,94.75 L259.00,95.42 L259.00,96.09 L259.00,96.76 L259.00,97.43 L259.00,98.10 L259.00,98.77 L259.00,99.44 L259.00,100.11 L259.00,100.78 L259.00,101.45 L259.00,102.12 L259.00,102.79 L259.00,103.46 L259.00,104.13 L259.00,104.80 L259.00,105.47 L259.00,106.13 L259.00,106.80 L259.00,107.47 L259.00,108.14 L259.00,108.81 L259.00,109.48 L259.00,110.15 L259.00,110.82 L259.00,111.49 L259.00,112.16 L259.00,112.83 L259.00,113.50 L259.00,114.17 L259.00,114.84 L259.00,115.51 L259.00,116.18 L259.00,116.85 L259.00,117.52 L259.00,118.18 L259.00,118.85 L259.00,119.52 L259.00,120.19 L259.00,120.86 L259.00,121.53 L259.00,122.20 L259.00,122.87 L259.00,123.54 L259.00,124.21 L259.00,124.88 L259.00,125.55 L259.00,126.22 L259.00,126.89 L259.00,127.56 L259.00,128.23 L259.00,128.90 L259.00,129.56 L259.00,130.23 L259.00,130.90 L259.00,131.57 L259.00,132.24 L259.00,132.91 L259.00,133.58 L259.00,134.25 L259.00,134.92 L259.00,135.59 L259.00,136.26 L259.00,136.93 L259.00,137.60 L259.00,138.27 L259.00,138.94 L259.00,139.61 L259.00,140.28 L259.00,140.94 L259.00,141.61 L259.00,142.28 L259.00,142.95 L259.00,143.62 L259.00,144.29 L259.00,144.96 L259.00,145.63 L259.00,146.30 L259.00,146.97 L259.00,147.64 L259.00,148.31 L259.00,148.98 L259.00,149.65 L259.00,150.32 L259.00,150.99 L259.00,151.66 L259.00,152.33 L259.00,152.99 L259.00,153.66 L259.00,154.33 L259.00,155.00 L259.01,155.67 L259.01,156.34 L259.01,157.01 L259.01,157.68 L259.01,158.35 L259.02,159.02 L259.02,159.69 L259.02,160.36 L259.02,161.03 L259.02,161.70 L259.03,162.37 L259.03,163.04 L259.03,163.71 L259.03,164.37 L259.03,165.04 L259.04,165.71 L259.04,166.38 L259.04,167.05 L259.04,167.72 L259.05,168.39 L259.05,169.06 L259.05,169.73 L259.05,170.40 L259.06,171.07 L259.06,171.74 L259.06,172.41 L259.07,173.08 L259.07,173.75 L259.07,174.42 L259.07,175.09 L259.08,175.76 L259.08,176.42 L259.08,177.09 L259.09,177.76 L259.09,178.43 L259.10,179.10 L259.10,179.77 L259.10,180.44 L259.11,181.11 L259.11,181.78 L259.11,182.45 L259.12,183.12 L259.12,183.79 L259.13,184.46 L259.13,185.13 L259.14,185.80 L259.14,186.47 L259.14,187.14 L259.15,187.80 L259.15,188.47 L259.16,189.14 L259.17,189.81 L259.17,190.48 L259.18,191.15 L259.18,191.82 L259.19,192.49 L259.20,193.16 L259.21,193.83 L259.21,194.50 L259.22,195.17 L259.23,195.84 L259.24,196.51 L259.25,197.18 L259.26,197.85 L259.27,198.52 L259.28,199.18 L259.29,199.85 L259.30,200.52 L259.32,201.19 L259.33,201.86 L259.34,202.53 L259.36,203.20 L259.37,203.87 L259.39,204.54 L259.41,205.21 L259.44,205.88 L259.49,206.55 L259.56,207.22 L259.63,207.89 L259.72,208.56 L259.81,209.23 L259.91,209.90 L260.00,210.57 L260.09,211.23 L260.18,211.90 L260.25,212.57 L260.32,213.24 L260.37,213.91 L260.40,214.58 L260.41,215.25 L260.42,215.92 L260.43,216.59 L260.44,217.26 L260.44,217.93 L260.45,218.60 L260.46,219.27 L260.47,219.94 L260.48,220.61 L260.50,221.28 L260.55,221.95 L260.68,222.61 L260.83,223.28 L260.96,223.95 L261.02,224.62 L261.07,225.29 L261.11,225.96 L261.15,226.63 L261.18,227.30 L261.20,227.97 L261.23,228.64 L261.25,229.31 L261.27,229.98 L261.29,230.65 L261.31,231.32 L261.32,231.99 L261.33,232.66 L261.34,233.33 L261.35,233.99 L261.36,234.66 L261.38,235.33 L261.48,236.00 L261.99,236.67 L262.79,237.34 L263.64,238.01 L264.75,238.68 L266.01,239.35 L267.13,240.02 L268.05,240.69 L268.87,241.36 L269.54,242.03 L270.10,242.70 L270.27,243.37 L269.67,244.04 L268.75,244.71 L267.39,245.38 L265.73,246.04 L264.18,246.71 L262.56,247.38 L261.21,248.05 L260.38,248.72 L259.76,249.39 L259.26,250.06 L259.00,250.73 L259.00,251.40 L259.00,251.40 L259.00,250.73 L258.74,250.06 L258.24,249.39 L257.62,248.72 L256.79,248.05 L255.44,247.38 L253.82,246.71 L252.27,246.04 L250.61,245.38 L249.25,244.71 L248.33,244.04 L247.73,243.37 L247.90,242.70 L248.46,242.03 L249.13,241.36 L249.95,240.69 L250.87,240.02 L251.99,239.35 L253.25,238.68 L254.36,238.01 L255.21,237.34 L256.01,236.67 L256.52,236.00 L256.62,235.33 L256.64,234.66 L256.65,233.99 L256.66,233.33 L256.67,232.66 L256.68,231.99 L256.69,231.32 L256.71,230.65 L256.73,229.98 L256.75,229.31 L256.77,228.64 L256.80,227.97 L256.82,227.30 L256.85,226.63 L256.89,225.96 L256.93,225.29 L256.98,224.62 L257.04,223.95 L257.17,223.28 L257.32,222.61 L257.45,221.95 L257.50,221.28 L257.52,220.61 L257.53,219.94 L257.54,219.27 L257.55,218.60 L257.56,217.93 L257.56,217.26 L257.57,216.59 L257.58,215.92 L257.59,215.25 L257.60,214.58 L257.63,213.91 L257.68,213.24 L257.75,212.57 L257.82,211.90 L257.91,211.23 L258.00,210.57 L258.09,209.90 L258.19,209.23 L258.28,208.56 L258.37,207.89 L258.44,207.22 L258.51,206.55 L258.56,205.88 L258.59,205.21 L258.61,204.54 L258.63,203.87 L258.64,203.20 L258.66,202.53 L258.67,201.86 L258.68,201.19 L258.70,200.52 L258.71,199.85 L258.72,199.18 L258.73,198.52 L258.74,197.85 L258.75,197.18 L258.76,196.51 L258.77,195.84 L258.78,195.17 L258.79,194.50 L258.79,193.83 L258.80,193.16 L258.81,192.49 L258.82,191.82 L258.82,191.15 L258.83,190.48 L258.83,189.81 L258.84,189.14 L258.85,188.47 L258.85,187.80 L258.86,187.14 L258.86,186.47 L258.86,185.80 L258.87,185.13 L258.87,184.46 L258.88,183.79 L258.88,183.12 L258.89,182.45 L258.89,181.78 L258.89,181.11 L258.90,180.44 L258.90,179.77 L258.90,179.10 L258.91,178.43 L258.91,177.76 L258.92,177.09 L258.92,176.42 L258.92,175.76 L258.93,175.09 L258.93,174.42 L258.93,173.75 L258.93,173.08 L258.94,172.41 L258.94,171.74 L258.94,171.07 L258.95,170.40 L258.95,169.73 L258.95,169.06 L258.95,168.39 L258.96,167.72 L258.96,167.05 L258.96,166.38 L258.96,165.71 L258.97,165.04 L258.97,164.37 L258.97,163.71 L258.97,163.04 L258.97,162.37 L258.98,161.70 L258.98,161.03 L258.98,160.36 L258.98,159.69 L258.98,159.02 L258.99,158.35 L258.99,157.68 L258.99,157.01 L258.99,156.34 L258.99,155.67 L259.00,155.00 L259.00,154.33 L259.00,153.66 L259.00,152.99 L259.00,152.33 L259.00,151.66 L259.00,150.99 L259.00,150.32 L259.00,149.65 L259.00,148.98 L259.00,148.31 L259.00,147.64 L259.00,146.97 L259.00,146.30 L259.00,145.63 L259.00,144.96 L259.00,144.29 L259.00,143.62 L259.00,142.95 L259.00,142.28 L259.00,141.61 L259.00,140.94 L259.00,140.28 L259.00,139.61 L259.00,138.94 L259.00,138.27 L259.00,137.60 L259.00,136.93 L259.00,136.26 L259.00,135.59 L259.00,134.92 L259.00,134.25 L259.00,133.58 L259.00,132.91 L259.00,132.24 L259.00,131.57 L259.00,130.90 L259.00,130.23 L259.00,129.56 L259.00,128.90 L259.00,128.23 L259.00,127.56 L259.00,126.89 L259.00,126.22 L259.00,125.55 L259.00,124.88 L259.00,124.21 L259.00,123.54 L259.00,122.87 L259.00,122.20 L259.00,121.53 L259.00,120.86 L259.00,120.19 L259.00,119.52 L259.00,118.85 L259.00,118.18 L259.00,117.52 L259.00,116.85 L259.00,116.18 L259.00,115.51 L259.00,114.84 L259.00,114.17 L259.00,113.50 L259.00,112.83 L259.00,112.16 L259.00,111.49 L259.00,110.82 L259.00,110.15 L259.00,109.48 L259.00,108.81 L259.00,108.14 L259.00,107.47 L259.00,106.80 L259.00,106.13 L259.00,105.47 L259.00,104.80 L259.00,104.13 L259.00,103.46 L259.00,102.79 L259.00,102.12 L259.00,101.45 L259.00,100.78 L259.00,100.11 L259.00,99.44 L259.00,98.77 L259.00,98.10 L259.00,97.43 L259.00,96.76 L259.00,96.09 L259.00,95.42 L259.00,94.75 L259.00,94.09 L259.00,93.42 L259.00,92.75 L259.00,92.08 L259.00,91.41 L259.00,90.74 L259.00,90.07 L259.00,89.40 L259.00,88.73 L259.00,88.06 L259.00,87.39 L259.00,86.72 L259.00,86.05 L259.00,85.38 L259.00,84.71 L259.00,84.04 L259.00,83.37 L259.00,82.71 L259.00,82.04 L259.00,81.37 L259.00,80.70 L259.00,80.03 L259.00,79.36 L259.00,78.69 L259.00,78.02 L259.00,77.35 L259.00,76.68 L259.00,76.01 L259.00,75.34 L259.00,74.67 L259.00,74.00 L259.00,73.33 L259.00,72.66 L259.00,71.99 L259.00,71.32 L259.00,70.66 L259.00,69.99 L259.00,69.32 L259.00,68.65 L259.00,67.98 L259.00,67.31 L259.00,66.64 L259.00,65.97 L259.00,65.30Z" fill="#B88EC6" stroke="#262626" stroke-width="1.3" stroke-linejoin="round"/>
<path d="M187.0 241.7h0M189.5 237.5h0M188.6 225.6h0M189.6 244.2h0M187.6 237.4h0M189.9 234.8h0M188.0 221.8h0M187.5 249.0h0M189.1 246.0h0M188.9 225.9h0M189.2 224.0h0M188.5 236.0h0" stroke="#D8BC6A" stroke-opacity="0.45" stroke-width="2.2" stroke-linecap="round" fill="none"/>
<path d="M239.5 243.8h0M238.9 230.1h0M239.4 226.1h0M238.6 223.3h0M237.7 237.0h0M239.4 241.6h0M237.8 218.9h0M239.6 220.7h0M239.1 224.3h0M238.2 213.1h0M238.6 234.1h0M238.1 239.9h0" stroke="#D8BC6A" stroke-opacity="0.45" stroke-width="2.2" stroke-linecap="round" fill="none"/>
<path d="M188.5,229.0L238.7,228.9M208.9,227.2L259.0,230.7" stroke="#262626" stroke-width="1.3" fill="none"/>
<circle cx="188.5" cy="229.0" r="4.2" fill="#EDAA00" stroke="#1A1A1A" stroke-width="1.2"/>
<path d="M188.5,225.5V232.5M186.2,225.5H190.8M186.2,232.5H190.8" stroke="#1A1A1A" stroke-width="1" fill="none"/>
<circle cx="208.9" cy="227.2" r="4.2" fill="#87369C" stroke="#1A1A1A" stroke-width="1.2"/>
<path d="M206.6,227.2H211.20000000000002" stroke="#1A1A1A" stroke-width="1.7" fill="none"/>
<circle cx="238.7" cy="228.9" r="4.2" fill="#EDAA00" stroke="#1A1A1A" stroke-width="1.2"/>
<path d="M238.7,225.4V232.4M236.39999999999998,225.4H241.0M236.39999999999998,232.4H241.0" stroke="#1A1A1A" stroke-width="1" fill="none"/>
<circle cx="259.0" cy="230.7" r="4.2" fill="#87369C" stroke="#1A1A1A" stroke-width="1.2"/>
<path d="M256.7,230.7H261.3" stroke="#1A1A1A" stroke-width="1.7" fill="none"/>
</g>
<path d="M189.6,62.6H206.9" stroke="#1a1a1a" stroke-width="1.2"/>
<polygon points="198.50,54.20 199.21,56.03 201.16,56.13 199.64,57.37 200.15,59.27 198.50,58.20 196.85,59.27 197.36,57.37 195.84,56.13 197.79,56.03" fill="#1a1a1a"/>
<path d="M243.0,62.6H260.0" stroke="#1a1a1a" stroke-width="1.2"/>
<polygon points="249.25,54.20 249.96,56.03 251.91,56.13 250.39,57.37 250.90,59.27 249.25,58.20 247.60,59.27 248.11,57.37 246.59,56.13 248.54,56.03" fill="#1a1a1a"/>
<polygon points="254.95,54.20 255.66,56.03 257.61,56.13 256.09,57.37 256.60,59.27 254.95,58.20 253.30,59.27 253.81,57.37 252.29,56.13 254.24,56.03" fill="#1a1a1a"/>
<path d="M212.2,269.4H263.9" stroke="#8B3FA3" stroke-width="1.2"/>
<polygon points="236.35,269.90 237.06,271.73 239.01,271.83 237.49,273.07 238.00,274.97 236.35,273.90 234.70,274.97 235.21,273.07 233.69,271.83 235.64,271.73" fill="#9446AE"/>
<path d="M188,280.5H239.6" stroke="#EBAE1E" stroke-width="1.2"/>
<polygon points="208.95,280.80 209.66,282.63 211.61,282.73 210.09,283.97 210.60,285.87 208.95,284.80 207.30,285.87 207.81,283.97 206.29,282.73 208.24,282.63" fill="#EFC24E"/>
<polygon points="214.65,280.80 215.36,282.63 217.31,282.73 215.79,283.97 216.30,285.87 214.65,284.80 213.00,285.87 213.51,283.97 211.99,282.73 213.94,282.63" fill="#EFC24E"/>
<rect x="168.8" y="32.6" width="110.09999999999997" height="258.4" fill="none" stroke="#333" stroke-width="1.2"/>
<path d="M168.8,53.4H278.9" stroke="#333" stroke-width="1.2"/>
<text x="206.8" y="47.6" font-size="10.2" fill="#1a1a1a">AI<tspan font-size="5.6" dy="3.4">mod</tspan></text>
<path d="M198.83,291.0v3.4" stroke="#333" stroke-width="1"/>
<text x="194.83" y="303.9" font-size="10" text-anchor="middle" fill="#2E2E2E" >Day 7</text>
<path d="M248.87,291.0v3.4" stroke="#333" stroke-width="1"/>
<text x="248.57" y="303.9" font-size="10" text-anchor="middle" fill="#2E2E2E" >Day 60</text>
<path d="M165.4,73.5H168.8" stroke="#333" stroke-width="1"/>
<text x="164.5" y="77.05" font-size="10" text-anchor="end" fill="#2E2E2E" >1.00</text>
<path d="M165.4,116.0H168.8" stroke="#333" stroke-width="1"/>
<text x="164.5" y="119.55" font-size="10" text-anchor="end" fill="#2E2E2E" >0.75</text>
<path d="M165.4,158.5H168.8" stroke="#333" stroke-width="1"/>
<text x="164.5" y="162.05" font-size="10" text-anchor="end" fill="#2E2E2E" >0.50</text>
<path d="M165.4,201.0H168.8" stroke="#333" stroke-width="1"/>
<text x="164.5" y="204.55" font-size="10" text-anchor="end" fill="#2E2E2E" >0.25</text>
<path d="M165.4,243.5H168.8" stroke="#333" stroke-width="1"/>
<text x="164.5" y="247.05" font-size="10" text-anchor="end" fill="#2E2E2E" >0.00</text>
<clipPath id="cp2"><rect x="307.5" y="53.4" width="110.5" height="237.6"/></clipPath>
<g clip-path="url(#cp2)">
<path d="M341.6,92H353.6V250H341.6Z" fill="#E0E0E0"/>
<path d="M345.0 183.0h0M346.2 211.0h0M352.3 167.6h0M350.2 205.5h0M351.3 145.6h0M353.0 152.9h0M349.4 233.6h0M348.1 223.4h0M343.5 207.8h0M350.9 248.2h0M344.8 114.5h0M350.5 182.8h0M352.7 115.5h0M353.0 146.7h0M347.4 210.9h0M343.2 149.3h0M349.0 105.9h0M352.1 214.2h0M352.4 149.7h0M352.4 138.9h0M343.8 237.2h0M349.8 228.0h0M351.3 203.0h0M347.7 176.8h0M351.6 150.0h0M343.9 234.4h0M345.1 214.0h0M344.3 121.0h0M345.2 182.6h0M343.2 130.3h0M350.6 143.3h0M347.4 95.4h0M342.6 187.2h0M352.1 138.4h0M351.5 249.1h0M350.5 118.8h0M344.0 163.2h0M352.3 168.0h0M346.4 230.6h0M352.0 102.0h0M347.7 247.8h0M348.1 127.6h0M347.4 202.0h0M344.8 147.7h0M342.6 138.9h0M352.6 132.3h0M350.1 93.3h0M346.6 216.6h0M344.5 186.0h0M349.9 197.6h0M347.5 208.1h0M351.6 245.3h0M349.6 182.4h0M352.5 135.4h0M351.9 193.9h0M352.9 137.6h0M347.9 108.7h0M344.2 109.5h0M342.8 212.7h0M344.2 152.5h0M343.0 226.3h0M351.5 145.2h0M349.8 200.5h0M342.4 248.6h0M350.3 197.0h0M350.0 210.2h0M343.0 103.4h0M348.8 214.1h0M342.2 133.5h0M343.1 176.3h0M345.8 210.2h0M343.2 219.6h0M343.2 170.0h0M348.3 215.3h0M352.7 129.1h0M345.8 199.8h0M346.3 227.1h0M345.4 240.9h0M342.8 247.5h0M345.3 208.1h0M349.1 159.0h0M344.6 99.2h0M350.2 108.4h0M347.6 127.0h0M344.7 143.9h0M347.7 239.8h0M349.8 194.8h0M345.0 221.7h0M347.2 104.4h0M342.3 118.9h0M349.0 237.3h0M343.6 157.5h0M348.0 212.3h0M352.9 119.5h0M352.3 242.2h0M347.9 222.6h0M349.3 139.5h0M348.9 115.9h0M342.2 102.4h0M345.9 205.1h0M350.7 202.2h0M348.9 224.0h0M349.3 225.8h0M352.0 238.5h0M345.0 98.8h0M344.9 153.4h0M351.7 119.9h0M344.1 96.0h0M344.6 212.1h0M352.7 132.8h0M347.0 212.5h0M345.1 113.5h0M350.8 247.0h0" stroke="#CFCFCF" stroke-opacity="0.55" stroke-width="2.2" stroke-linecap="round" fill="none"/>
<path d="M341.9 103.0h0M353.2 205.7h0M353.2 112.6h0M341.2 227.9h0M342.1 199.9h0M354.1 148.0h0M341.3 247.8h0M341.0 239.5h0M353.3 138.7h0M353.4 165.5h0M341.3 136.0h0M341.2 202.0h0M353.6 116.2h0M341.7 240.0h0M354.1 123.7h0M354.1 229.2h0M354.0 156.9h0M341.2 216.5h0M342.1 153.8h0M341.1 229.6h0M353.3 150.0h0M353.6 162.8h0M342.0 127.0h0M341.7 133.1h0M342.2 107.9h0M353.7 162.1h0M353.6 113.8h0M341.2 178.9h0M354.0 216.0h0M341.5 178.9h0M341.4 117.3h0M341.3 218.0h0M353.6 126.3h0M354.0 197.7h0M354.0 156.1h0M353.3 219.6h0M353.9 175.5h0M342.2 232.8h0M342.3 209.7h0M353.5 236.9h0M341.3 134.5h0M341.7 145.4h0M341.8 122.8h0M353.7 219.4h0M342.3 206.0h0M341.1 231.0h0M341.4 193.7h0M353.4 187.7h0M342.1 148.2h0M341.7 159.6h0M353.2 96.9h0M341.3 192.2h0M353.7 189.1h0M353.3 132.5h0M342.1 225.4h0M354.1 93.7h0M353.9 227.8h0M354.1 185.9h0M341.5 130.4h0M341.4 126.1h0M353.9 133.5h0M354.2 159.0h0M342.4 191.8h0M353.8 109.8h0M341.1 241.0h0M354.0 101.3h0M341.8 230.6h0M353.1 203.4h0M341.6 197.5h0M352.8 133.1h0M342.1 122.9h0M353.1 103.7h0M341.2 174.0h0M354.2 227.1h0M342.2 231.7h0M342.1 243.0h0M341.3 190.3h0M341.8 123.7h0M341.5 126.7h0M353.2 191.7h0M353.9 119.9h0M354.2 208.0h0M353.7 180.4h0M341.7 137.4h0M354.1 164.6h0M353.4 220.0h0M341.3 221.1h0M354.1 179.1h0M353.2 169.7h0M341.9 195.9h0M353.1 158.8h0M342.3 106.8h0M353.4 198.3h0M341.5 239.8h0M354.1 220.1h0M353.3 102.6h0M354.1 242.0h0M342.3 121.2h0M353.5 233.5h0M342.1 239.9h0M342.1 245.0h0M341.7 128.9h0M352.9 165.8h0M353.0 98.9h0M353.5 187.7h0M353.7 189.0h0M341.0 95.0h0M341.1 144.3h0M342.4 169.8h0M341.9 126.4h0M353.6 161.4h0M342.4 166.9h0M352.8 134.2h0M353.5 208.0h0M341.9 203.7h0M341.1 173.7h0M342.3 143.9h0M342.0 231.3h0M354.0 110.9h0M353.0 186.7h0M342.4 156.1h0M341.8 244.6h0M354.2 113.3h0M353.2 220.9h0M341.6 122.1h0M354.2 230.8h0M341.6 235.8h0M341.7 111.6h0M342.2 103.2h0M342.0 139.6h0M342.2 203.4h0M341.5 195.7h0M353.7 204.2h0M353.8 179.3h0M341.4 104.9h0M341.7 122.4h0M354.0 133.1h0M341.8 196.4h0M341.5 135.2h0M354.0 161.5h0M353.7 201.4h0M353.6 234.2h0M351.7 89.2h0M347.3 91.6h0M342.3 89.6h0M350.2 88.8h0M346.1 88.3h0M352.5 90.1h0M351.6 252.5h0M345.7 252.5h0M344.2 253.3h0M343.5 252.4h0M353.3 250.6h0M342.3 254.8h0M352.8 256.6h0M349.8 255.1h0M344.0 253.1h0M349.9 253.5h0M352.0 256.1h0M344.4 251.7h0M349.5 253.8h0M345.4 251.4h0" stroke="#E0E0E0" stroke-width="2.2" stroke-linecap="round" fill="none"/>
<path d="M391.8,90H403.8V251H391.8Z" fill="#E0E0E0"/>
<path d="M397.4 143.8h0M398.2 236.6h0M399.3 225.3h0M397.7 180.5h0M397.7 199.6h0M394.3 206.9h0M401.9 141.9h0M401.6 153.6h0M398.7 241.0h0M400.6 106.4h0M395.5 197.2h0M397.6 228.9h0M393.0 99.2h0M399.0 126.8h0M393.4 221.2h0M399.1 93.6h0M397.2 155.9h0M402.4 222.1h0M400.9 245.7h0M394.0 90.5h0M402.8 184.6h0M398.0 103.1h0M396.8 153.8h0M395.3 133.2h0M393.4 128.4h0M397.2 179.2h0M399.3 204.8h0M396.0 243.4h0M396.5 232.1h0M401.2 196.4h0M397.2 153.9h0M393.5 191.6h0M393.3 175.6h0M399.2 126.2h0M403.3 246.5h0M393.9 132.0h0M397.2 173.5h0M400.8 151.1h0M398.5 204.3h0M398.7 190.1h0M402.5 199.0h0M403.1 242.4h0M393.5 228.4h0M400.9 162.7h0M399.0 137.4h0M394.5 98.9h0M393.1 154.4h0M394.8 158.3h0M395.8 228.7h0M401.1 151.3h0M392.9 180.1h0M399.0 125.0h0M395.0 122.1h0M397.7 190.3h0M398.5 133.3h0M392.7 192.0h0M395.7 134.1h0M392.9 231.5h0M394.4 145.9h0M401.2 201.9h0M401.8 99.2h0M394.7 202.0h0M395.5 237.4h0M393.1 216.9h0M397.9 163.4h0M401.5 234.4h0M392.9 178.0h0M396.4 159.2h0M399.8 250.3h0M396.3 155.2h0M393.4 213.6h0M399.7 221.5h0M400.1 160.1h0M393.9 154.0h0M392.9 157.1h0M397.1 104.0h0M394.5 222.8h0M403.1 170.6h0M402.2 223.2h0M398.8 198.7h0M398.9 183.7h0M396.3 164.9h0M393.0 128.4h0M400.8 149.4h0M394.1 179.0h0M392.8 221.1h0M399.5 239.9h0M396.8 179.5h0M392.4 222.8h0M398.0 92.6h0M396.7 137.8h0M392.8 176.4h0M399.8 248.3h0M400.4 105.9h0M399.9 175.8h0M403.2 208.8h0M403.3 109.1h0M394.5 166.8h0M396.3 150.2h0M398.1 234.2h0M400.2 100.7h0M401.3 170.1h0M401.8 97.5h0M392.4 233.8h0M393.6 166.8h0M393.3 175.2h0M394.3 232.8h0M399.5 197.6h0M394.7 141.7h0M392.7 237.4h0M395.9 130.9h0M396.4 184.1h0M398.6 107.9h0M400.1 206.6h0M395.7 168.8h0" stroke="#CFCFCF" stroke-opacity="0.55" stroke-width="2.2" stroke-linecap="round" fill="none"/>
<path d="M403.9 91.7h0M404.3 161.0h0M391.6 122.6h0M404.3 234.8h0M392.0 128.1h0M404.3 199.3h0M392.5 185.9h0M403.3 186.1h0M404.4 152.5h0M391.6 192.7h0M391.4 117.8h0M391.3 109.4h0M391.9 158.8h0M391.9 161.4h0M403.4 158.3h0M403.6 116.8h0M403.7 104.2h0M392.4 216.3h0M403.5 153.9h0M404.0 224.6h0M391.5 96.7h0M391.7 174.8h0M391.8 249.4h0M403.6 226.2h0M391.8 91.7h0M391.8 242.7h0M392.0 135.7h0M403.8 126.7h0M404.0 145.4h0M391.2 201.3h0M404.1 112.0h0M403.7 130.7h0M403.2 191.5h0M392.4 224.8h0M391.3 169.0h0M392.0 180.0h0M391.6 247.3h0M391.5 127.7h0M391.9 211.0h0M403.9 125.8h0M403.0 236.5h0M391.3 119.8h0M392.5 91.0h0M392.1 233.6h0M392.0 201.3h0M403.6 207.9h0M403.0 177.2h0M392.2 185.5h0M392.1 134.3h0M403.9 106.5h0M403.5 176.7h0M392.2 188.4h0M403.7 248.8h0M403.0 237.4h0M403.7 126.2h0M403.8 117.4h0M392.5 207.6h0M403.6 95.9h0M391.7 92.6h0M392.5 160.6h0M391.4 231.1h0M391.7 188.1h0M392.3 158.3h0M404.2 131.4h0M404.0 122.8h0M392.1 143.1h0M392.3 236.4h0M392.2 232.8h0M392.2 143.2h0M404.1 250.5h0M403.3 226.3h0M391.4 211.2h0M392.3 126.2h0M392.0 112.2h0M403.1 171.0h0M403.2 120.9h0M404.3 133.5h0M392.4 150.1h0M391.5 197.3h0M403.5 194.4h0M391.5 154.9h0M391.9 219.3h0M391.6 228.8h0M403.3 133.3h0M404.1 126.7h0M404.2 234.8h0M391.5 219.6h0M391.7 116.8h0M391.4 96.9h0M404.1 116.6h0M403.8 222.6h0M391.7 157.6h0M392.3 232.7h0M403.8 179.3h0M403.5 91.8h0M392.3 118.7h0M403.6 198.9h0M404.1 194.0h0M403.0 198.3h0M403.2 230.1h0M391.8 119.1h0M403.4 211.6h0M391.4 242.2h0M403.1 166.8h0M403.6 91.9h0M403.5 160.9h0M403.4 118.7h0M392.3 233.7h0M403.5 245.8h0M403.8 214.4h0M404.2 165.0h0M404.3 122.4h0M403.7 95.2h0M392.0 138.5h0M391.3 167.1h0M392.1 237.8h0M403.3 136.3h0M404.0 154.5h0M391.6 90.9h0M403.3 152.3h0M391.5 176.9h0M392.2 185.1h0M403.2 220.0h0M403.7 156.7h0M403.6 242.1h0M392.0 247.3h0M392.0 223.2h0M391.4 119.6h0M392.5 179.0h0M392.5 157.8h0M403.4 168.1h0M403.5 117.0h0M403.1 116.8h0M403.5 209.3h0M392.4 207.3h0M404.3 211.8h0M392.1 181.3h0M404.0 118.1h0M392.4 222.1h0M391.7 146.7h0M391.5 148.8h0M403.8 237.5h0M403.0 211.7h0M403.3 182.6h0M394.6 86.8h0M395.8 87.0h0M399.9 87.4h0M402.3 86.4h0M400.1 88.2h0M393.0 89.3h0M402.7 252.1h0M398.0 252.0h0M400.6 252.4h0M396.2 252.7h0M396.2 251.5h0M401.4 251.3h0M401.8 251.8h0M403.7 251.0h0M396.3 253.0h0M403.4 252.0h0M392.1 252.4h0M397.4 256.6h0M402.4 251.8h0M398.0 253.7h0" stroke="#E0E0E0" stroke-width="2.2" stroke-linecap="round" fill="none"/>
<path d="M342.7 91.2h0M347.9 84.3h0M352.0 91.1h0M351.8 88.3h0M348.1 89.2h0M343.3 92.4h0M353.1 93.7h0M341.6 93.8h0M349.7 92.0h0M344.0 93.4h0M351.3 87.5h0M342.4 89.1h0" stroke="#D8D8D8" stroke-opacity="0.85" stroke-width="2.3" stroke-linecap="round" fill="none"/>
<path d="M399.5 87.1h0M400.8 90.1h0M391.8 91.3h0M402.4 91.8h0M401.0 91.8h0M394.8 89.3h0M396.8 91.7h0M400.2 89.9h0M400.1 90.8h0M397.9 90.5h0" stroke="#D8D8D8" stroke-opacity="0.85" stroke-width="2.3" stroke-linecap="round" fill="none"/>
<path d="M346.3 84.6h0M352.5 81.6h0M350.2 85.1h0" stroke="#D4D4D4" stroke-opacity="0.8" stroke-width="2.3" stroke-linecap="round" fill="none"/>
<path d="M392.3 82.7h0M403.1 85.7h0M399.4 83.1h0" stroke="#D4D4D4" stroke-opacity="0.8" stroke-width="2.3" stroke-linecap="round" fill="none"/>
<path d="M327.50,117.10 L327.50,117.77 L327.50,118.44 L327.50,119.11 L327.50,119.78 L327.50,120.45 L327.51,121.12 L327.57,121.79 L327.63,122.46 L327.67,123.13 L327.72,123.80 L327.77,124.47 L327.83,125.14 L327.89,125.81 L327.96,126.48 L328.05,127.15 L328.14,127.82 L328.24,128.49 L328.35,129.16 L328.46,129.83 L328.58,130.50 L328.72,131.17 L328.89,131.84 L329.08,132.51 L329.28,133.18 L329.46,133.85 L329.63,134.52 L329.77,135.19 L329.87,135.86 L329.97,136.53 L330.06,137.20 L330.15,137.87 L330.22,138.54 L330.27,139.21 L330.30,139.88 L330.29,140.55 L330.24,141.22 L330.14,141.89 L330.01,142.56 L329.86,143.23 L329.71,143.90 L329.56,144.57 L329.43,145.24 L329.30,145.91 L329.15,146.58 L329.00,147.25 L328.85,147.92 L328.71,148.59 L328.58,149.26 L328.46,149.93 L328.34,150.60 L328.23,151.28 L328.12,151.95 L328.02,152.62 L327.92,153.29 L327.84,153.96 L327.78,154.63 L327.71,155.30 L327.65,155.97 L327.60,156.64 L327.56,157.31 L327.55,157.98 L327.55,158.65 L327.55,159.32 L327.55,159.99 L327.55,160.66 L327.55,161.33 L327.55,162.00 L327.55,162.67 L327.55,163.34 L327.55,164.01 L327.55,164.68 L327.55,165.35 L327.55,166.02 L327.55,166.69 L327.55,167.36 L327.55,168.03 L327.55,168.70 L327.55,169.37 L327.55,170.04 L327.55,170.71 L327.55,171.38 L327.55,172.05 L327.55,172.72 L327.55,173.39 L327.55,174.06 L327.55,174.73 L327.55,175.40 L327.55,176.07 L327.55,176.74 L327.55,177.41 L327.55,178.08 L327.55,178.75 L327.55,179.42 L327.55,180.09 L327.55,180.76 L327.56,181.43 L327.58,182.10 L327.60,182.77 L327.63,183.44 L327.66,184.11 L327.70,184.78 L327.74,185.45 L327.79,186.12 L327.86,186.79 L328.00,187.46 L328.18,188.13 L328.39,188.80 L328.59,189.47 L328.79,190.14 L328.99,190.81 L329.21,191.48 L329.43,192.15 L329.66,192.82 L329.90,193.49 L330.15,194.16 L330.41,194.83 L330.69,195.50 L330.99,196.17 L331.29,196.84 L331.60,197.51 L331.88,198.18 L332.15,198.85 L332.39,199.52 L332.62,200.19 L332.85,200.86 L333.07,201.53 L333.28,202.20 L333.47,202.87 L333.64,203.54 L333.80,204.21 L333.95,204.88 L334.11,205.55 L334.26,206.22 L334.40,206.89 L334.54,207.56 L334.67,208.23 L334.79,208.90 L334.89,209.57 L334.98,210.24 L335.04,210.91 L335.09,211.58 L335.13,212.25 L335.16,212.92 L335.19,213.59 L335.22,214.26 L335.24,214.93 L335.26,215.60 L335.28,216.27 L335.29,216.94 L335.30,217.61 L335.30,218.28 L335.26,218.95 L335.19,219.62 L335.09,220.30 L334.96,220.97 L334.80,221.64 L334.64,222.31 L334.47,222.98 L334.29,223.65 L334.12,224.32 L333.95,224.99 L333.75,225.66 L333.54,226.33 L333.30,227.00 L333.06,227.67 L332.81,228.34 L332.56,229.01 L332.31,229.68 L332.06,230.35 L331.82,231.02 L331.58,231.69 L331.34,232.36 L331.09,233.03 L330.84,233.70 L330.59,234.37 L330.34,235.04 L330.10,235.71 L329.85,236.38 L329.62,237.05 L329.38,237.72 L329.13,238.39 L328.88,239.06 L328.64,239.73 L328.41,240.40 L328.21,241.07 L328.04,241.74 L327.90,242.41 L327.77,243.08 L327.66,243.75 L327.56,244.42 L327.50,245.09 L327.50,245.76 L327.50,246.43 L327.50,247.10 L327.50,247.77 L327.50,248.44 L327.50,249.11 L327.50,249.78 L327.50,250.45 L327.50,251.12 L327.50,251.79 L327.50,252.46 L327.50,253.13 L327.50,253.80 L327.50,253.80 L327.50,253.13 L327.50,252.46 L327.50,251.79 L327.50,251.12 L327.50,250.45 L327.50,249.78 L327.50,249.11 L327.50,248.44 L327.50,247.77 L327.50,247.10 L327.50,246.43 L327.50,245.76 L327.50,245.09 L327.44,244.42 L327.34,243.75 L327.23,243.08 L327.10,242.41 L326.96,241.74 L326.79,241.07 L326.59,240.40 L326.36,239.73 L326.12,239.06 L325.87,238.39 L325.62,237.72 L325.38,237.05 L325.15,236.38 L324.90,235.71 L324.66,235.04 L324.41,234.37 L324.16,233.70 L323.91,233.03 L323.66,232.36 L323.42,231.69 L323.18,231.02 L322.94,230.35 L322.69,229.68 L322.44,229.01 L322.19,228.34 L321.94,227.67 L321.70,227.00 L321.46,226.33 L321.25,225.66 L321.05,224.99 L320.88,224.32 L320.71,223.65 L320.53,222.98 L320.36,222.31 L320.20,221.64 L320.04,220.97 L319.91,220.30 L319.81,219.62 L319.74,218.95 L319.70,218.28 L319.70,217.61 L319.71,216.94 L319.72,216.27 L319.74,215.60 L319.76,214.93 L319.78,214.26 L319.81,213.59 L319.84,212.92 L319.87,212.25 L319.91,211.58 L319.96,210.91 L320.02,210.24 L320.11,209.57 L320.21,208.90 L320.33,208.23 L320.46,207.56 L320.60,206.89 L320.74,206.22 L320.89,205.55 L321.05,204.88 L321.20,204.21 L321.36,203.54 L321.53,202.87 L321.72,202.20 L321.93,201.53 L322.15,200.86 L322.38,200.19 L322.61,199.52 L322.85,198.85 L323.12,198.18 L323.40,197.51 L323.71,196.84 L324.01,196.17 L324.31,195.50 L324.59,194.83 L324.85,194.16 L325.10,193.49 L325.34,192.82 L325.57,192.15 L325.79,191.48 L326.01,190.81 L326.21,190.14 L326.41,189.47 L326.61,188.80 L326.82,188.13 L327.00,187.46 L327.14,186.79 L327.21,186.12 L327.26,185.45 L327.30,184.78 L327.34,184.11 L327.37,183.44 L327.40,182.77 L327.42,182.10 L327.44,181.43 L327.45,180.76 L327.45,180.09 L327.45,179.42 L327.45,178.75 L327.45,178.08 L327.45,177.41 L327.45,176.74 L327.45,176.07 L327.45,175.40 L327.45,174.73 L327.45,174.06 L327.45,173.39 L327.45,172.72 L327.45,172.05 L327.45,171.38 L327.45,170.71 L327.45,170.04 L327.45,169.37 L327.45,168.70 L327.45,168.03 L327.45,167.36 L327.45,166.69 L327.45,166.02 L327.45,165.35 L327.45,164.68 L327.45,164.01 L327.45,163.34 L327.45,162.67 L327.45,162.00 L327.45,161.33 L327.45,160.66 L327.45,159.99 L327.45,159.32 L327.45,158.65 L327.45,157.98 L327.44,157.31 L327.40,156.64 L327.35,155.97 L327.29,155.30 L327.22,154.63 L327.16,153.96 L327.08,153.29 L326.98,152.62 L326.88,151.95 L326.77,151.28 L326.66,150.60 L326.54,149.93 L326.42,149.26 L326.29,148.59 L326.15,147.92 L326.00,147.25 L325.85,146.58 L325.70,145.91 L325.57,145.24 L325.44,144.57 L325.29,143.90 L325.14,143.23 L324.99,142.56 L324.86,141.89 L324.76,141.22 L324.71,140.55 L324.70,139.88 L324.73,139.21 L324.78,138.54 L324.85,137.87 L324.94,137.20 L325.03,136.53 L325.13,135.86 L325.23,135.19 L325.37,134.52 L325.54,133.85 L325.72,133.18 L325.92,132.51 L326.11,131.84 L326.28,131.17 L326.42,130.50 L326.54,129.83 L326.65,129.16 L326.76,128.49 L326.86,127.82 L326.95,127.15 L327.04,126.48 L327.11,125.81 L327.17,125.14 L327.23,124.47 L327.28,123.80 L327.33,123.13 L327.37,122.46 L327.43,121.79 L327.49,121.12 L327.50,120.45 L327.50,119.78 L327.50,119.11 L327.50,118.44 L327.50,117.77 L327.50,117.10Z" fill="#F3D680" stroke="#262626" stroke-width="1.3" stroke-linejoin="round"/>
<path d="M347.40,65.40 L347.40,66.07 L347.40,66.74 L347.40,67.41 L347.40,68.08 L347.40,68.75 L347.40,69.41 L347.40,70.08 L347.40,70.75 L347.40,71.42 L347.40,72.09 L347.40,72.76 L347.40,73.43 L347.40,74.10 L347.40,74.77 L347.40,75.44 L347.40,76.11 L347.40,76.77 L347.40,77.44 L347.40,78.11 L347.40,78.78 L347.40,79.45 L347.40,80.12 L347.40,80.79 L347.40,81.46 L347.40,82.13 L347.40,82.80 L347.40,83.47 L347.40,84.13 L347.40,84.80 L347.40,85.47 L347.40,86.14 L347.40,86.81 L347.40,87.48 L347.40,88.15 L347.40,88.82 L347.40,89.49 L347.40,90.16 L347.40,90.83 L347.40,91.50 L347.40,92.16 L347.40,92.83 L347.40,93.50 L347.41,94.17 L347.43,94.84 L347.45,95.51 L347.47,96.18 L347.49,96.85 L347.51,97.52 L347.53,98.19 L347.55,98.86 L347.57,99.52 L347.59,100.19 L347.61,100.86 L347.64,101.53 L347.66,102.20 L347.68,102.87 L347.70,103.54 L347.72,104.21 L347.74,104.88 L347.76,105.55 L347.78,106.22 L347.80,106.88 L347.82,107.55 L347.84,108.22 L347.87,108.89 L347.89,109.56 L347.91,110.23 L347.93,110.90 L347.95,111.57 L347.97,112.24 L347.99,112.91 L348.02,113.58 L348.04,114.24 L348.06,114.91 L348.08,115.58 L348.10,116.25 L348.12,116.92 L348.15,117.59 L348.17,118.26 L348.19,118.93 L348.21,119.60 L348.23,120.27 L348.26,120.94 L348.28,121.60 L348.30,122.27 L348.32,122.94 L348.34,123.61 L348.36,124.28 L348.39,124.95 L348.41,125.62 L348.43,126.29 L348.45,126.96 L348.47,127.63 L348.49,128.30 L348.51,128.96 L348.53,129.63 L348.55,130.30 L348.57,130.97 L348.58,131.64 L348.60,132.31 L348.62,132.98 L348.64,133.65 L348.66,134.32 L348.68,134.99 L348.70,135.66 L348.72,136.32 L348.73,136.99 L348.75,137.66 L348.78,138.33 L348.80,139.00 L348.82,139.67 L348.84,140.34 L348.86,141.01 L348.88,141.68 L348.91,142.35 L348.93,143.02 L348.96,143.69 L348.98,144.35 L349.01,145.02 L349.04,145.69 L349.07,146.36 L349.10,147.03 L349.13,147.70 L349.16,148.37 L349.20,149.04 L349.24,149.71 L349.28,150.38 L349.33,151.05 L349.38,151.71 L349.42,152.38 L349.47,153.05 L349.53,153.72 L349.58,154.39 L349.63,155.06 L349.69,155.73 L349.74,156.40 L349.80,157.07 L349.86,157.74 L349.91,158.41 L349.97,159.07 L350.02,159.74 L350.08,160.41 L350.14,161.08 L350.19,161.75 L350.24,162.42 L350.29,163.09 L350.35,163.76 L350.39,164.43 L350.44,165.10 L350.50,165.77 L350.56,166.43 L350.61,167.10 L350.67,167.77 L350.73,168.44 L350.79,169.11 L350.84,169.78 L350.88,170.45 L350.93,171.12 L350.96,171.79 L350.99,172.46 L351.00,173.13 L351.01,173.79 L351.02,174.46 L351.03,175.13 L351.04,175.80 L351.05,176.47 L351.05,177.14 L351.06,177.81 L351.07,178.48 L351.07,179.15 L351.08,179.82 L351.08,180.49 L351.09,181.15 L351.09,181.82 L351.10,182.49 L351.10,183.16 L351.10,183.83 L351.10,184.50 L351.10,185.17 L351.10,185.84 L351.09,186.51 L351.09,187.18 L351.08,187.85 L351.07,188.51 L351.06,189.18 L351.05,189.85 L351.04,190.52 L351.03,191.19 L351.02,191.86 L351.00,192.53 L350.99,193.20 L350.97,193.87 L350.94,194.54 L350.92,195.21 L350.88,195.88 L350.85,196.54 L350.81,197.21 L350.77,197.88 L350.73,198.55 L350.68,199.22 L350.64,199.89 L350.60,200.56 L350.55,201.23 L350.51,201.90 L350.46,202.57 L350.42,203.24 L350.38,203.90 L350.34,204.57 L350.30,205.24 L350.26,205.91 L350.22,206.58 L350.18,207.25 L350.13,207.92 L350.09,208.59 L350.05,209.26 L350.01,209.93 L349.96,210.60 L349.92,211.26 L349.87,211.93 L349.83,212.60 L349.78,213.27 L349.74,213.94 L349.69,214.61 L349.65,215.28 L349.60,215.95 L349.55,216.62 L349.51,217.29 L349.46,217.96 L349.41,218.62 L349.36,219.29 L349.31,219.96 L349.26,220.63 L349.21,221.30 L349.16,221.97 L349.11,222.64 L349.06,223.31 L349.01,223.98 L348.96,224.65 L348.91,225.32 L348.85,225.98 L348.80,226.65 L348.74,227.32 L348.69,227.99 L348.63,228.66 L348.57,229.33 L348.51,230.00 L348.45,230.67 L348.39,231.34 L348.33,232.01 L348.28,232.68 L348.22,233.34 L348.17,234.01 L348.12,234.68 L348.07,235.35 L348.02,236.02 L347.97,236.69 L347.93,237.36 L347.88,238.03 L347.84,238.70 L347.79,239.37 L347.75,240.04 L347.70,240.70 L347.66,241.37 L347.62,242.04 L347.58,242.71 L347.54,243.38 L347.51,244.05 L347.48,244.72 L347.45,245.39 L347.43,246.06 L347.41,246.73 L347.40,247.40 L347.40,248.07 L347.40,248.73 L347.40,249.40 L347.40,250.07 L347.40,250.74 L347.40,251.41 L347.40,252.08 L347.40,252.75 L347.40,253.42 L347.40,254.09 L347.40,254.76 L347.40,255.43 L347.40,256.09 L347.40,256.76 L347.40,257.43 L347.40,258.10 L347.40,258.77 L347.40,259.44 L347.40,260.11 L347.40,260.78 L347.40,261.45 L347.40,262.12 L347.40,262.79 L347.40,263.45 L347.40,264.12 L347.40,264.79 L347.40,265.46 L347.40,266.13 L347.40,266.80 L347.40,266.80 L347.40,266.13 L347.40,265.46 L347.40,264.79 L347.40,264.12 L347.40,263.45 L347.40,262.79 L347.40,262.12 L347.40,261.45 L347.40,260.78 L347.40,260.11 L347.40,259.44 L347.40,258.77 L347.40,258.10 L347.40,257.43 L347.40,256.76 L347.40,256.09 L347.40,255.43 L347.40,254.76 L347.40,254.09 L347.40,253.42 L347.40,252.75 L347.40,252.08 L347.40,251.41 L347.40,250.74 L347.40,250.07 L347.40,249.40 L347.40,248.73 L347.40,248.07 L347.40,247.40 L347.39,246.73 L347.37,246.06 L347.35,245.39 L347.32,244.72 L347.29,244.05 L347.26,243.38 L347.22,242.71 L347.18,242.04 L347.14,241.37 L347.10,240.70 L347.05,240.04 L347.01,239.37 L346.96,238.70 L346.92,238.03 L346.87,237.36 L346.83,236.69 L346.78,236.02 L346.73,235.35 L346.68,234.68 L346.63,234.01 L346.58,233.34 L346.52,232.68 L346.47,232.01 L346.41,231.34 L346.35,230.67 L346.29,230.00 L346.23,229.33 L346.17,228.66 L346.11,227.99 L346.06,227.32 L346.00,226.65 L345.95,225.98 L345.89,225.32 L345.84,224.65 L345.79,223.98 L345.74,223.31 L345.69,222.64 L345.64,221.97 L345.59,221.30 L345.54,220.63 L345.49,219.96 L345.44,219.29 L345.39,218.62 L345.34,217.96 L345.29,217.29 L345.25,216.62 L345.20,215.95 L345.15,215.28 L345.11,214.61 L345.06,213.94 L345.02,213.27 L344.97,212.60 L344.93,211.93 L344.88,211.26 L344.84,210.60 L344.79,209.93 L344.75,209.26 L344.71,208.59 L344.67,207.92 L344.62,207.25 L344.58,206.58 L344.54,205.91 L344.50,205.24 L344.46,204.57 L344.42,203.90 L344.38,203.24 L344.34,202.57 L344.29,201.90 L344.25,201.23 L344.20,200.56 L344.16,199.89 L344.12,199.22 L344.07,198.55 L344.03,197.88 L343.99,197.21 L343.95,196.54 L343.92,195.88 L343.88,195.21 L343.86,194.54 L343.83,193.87 L343.81,193.20 L343.80,192.53 L343.78,191.86 L343.77,191.19 L343.76,190.52 L343.75,189.85 L343.74,189.18 L343.73,188.51 L343.72,187.85 L343.71,187.18 L343.71,186.51 L343.70,185.84 L343.70,185.17 L343.70,184.50 L343.70,183.83 L343.70,183.16 L343.70,182.49 L343.71,181.82 L343.71,181.15 L343.72,180.49 L343.72,179.82 L343.73,179.15 L343.73,178.48 L343.74,177.81 L343.75,177.14 L343.75,176.47 L343.76,175.80 L343.77,175.13 L343.78,174.46 L343.79,173.79 L343.80,173.13 L343.81,172.46 L343.84,171.79 L343.87,171.12 L343.92,170.45 L343.96,169.78 L344.01,169.11 L344.07,168.44 L344.13,167.77 L344.19,167.10 L344.24,166.43 L344.30,165.77 L344.36,165.10 L344.41,164.43 L344.45,163.76 L344.51,163.09 L344.56,162.42 L344.61,161.75 L344.66,161.08 L344.72,160.41 L344.78,159.74 L344.83,159.07 L344.89,158.41 L344.94,157.74 L345.00,157.07 L345.06,156.40 L345.11,155.73 L345.17,155.06 L345.22,154.39 L345.27,153.72 L345.33,153.05 L345.38,152.38 L345.42,151.71 L345.47,151.05 L345.52,150.38 L345.56,149.71 L345.60,149.04 L345.64,148.37 L345.67,147.70 L345.70,147.03 L345.73,146.36 L345.76,145.69 L345.79,145.02 L345.82,144.35 L345.84,143.69 L345.87,143.02 L345.89,142.35 L345.92,141.68 L345.94,141.01 L345.96,140.34 L345.98,139.67 L346.00,139.00 L346.02,138.33 L346.05,137.66 L346.07,136.99 L346.08,136.32 L346.10,135.66 L346.12,134.99 L346.14,134.32 L346.16,133.65 L346.18,132.98 L346.20,132.31 L346.22,131.64 L346.23,130.97 L346.25,130.30 L346.27,129.63 L346.29,128.96 L346.31,128.30 L346.33,127.63 L346.35,126.96 L346.37,126.29 L346.39,125.62 L346.41,124.95 L346.44,124.28 L346.46,123.61 L346.48,122.94 L346.50,122.27 L346.52,121.60 L346.54,120.94 L346.57,120.27 L346.59,119.60 L346.61,118.93 L346.63,118.26 L346.65,117.59 L346.68,116.92 L346.70,116.25 L346.72,115.58 L346.74,114.91 L346.76,114.24 L346.78,113.58 L346.81,112.91 L346.83,112.24 L346.85,111.57 L346.87,110.90 L346.89,110.23 L346.91,109.56 L346.93,108.89 L346.96,108.22 L346.98,107.55 L347.00,106.88 L347.02,106.22 L347.04,105.55 L347.06,104.88 L347.08,104.21 L347.10,103.54 L347.12,102.87 L347.14,102.20 L347.16,101.53 L347.19,100.86 L347.21,100.19 L347.23,99.52 L347.25,98.86 L347.27,98.19 L347.29,97.52 L347.31,96.85 L347.33,96.18 L347.35,95.51 L347.37,94.84 L347.39,94.17 L347.40,93.50 L347.40,92.83 L347.40,92.16 L347.40,91.50 L347.40,90.83 L347.40,90.16 L347.40,89.49 L347.40,88.82 L347.40,88.15 L347.40,87.48 L347.40,86.81 L347.40,86.14 L347.40,85.47 L347.40,84.80 L347.40,84.13 L347.40,83.47 L347.40,82.80 L347.40,82.13 L347.40,81.46 L347.40,80.79 L347.40,80.12 L347.40,79.45 L347.40,78.78 L347.40,78.11 L347.40,77.44 L347.40,76.77 L347.40,76.11 L347.40,75.44 L347.40,74.77 L347.40,74.10 L347.40,73.43 L347.40,72.76 L347.40,72.09 L347.40,71.42 L347.40,70.75 L347.40,70.08 L347.40,69.41 L347.40,68.75 L347.40,68.08 L347.40,67.41 L347.40,66.74 L347.40,66.07 L347.40,65.40Z" fill="#B88EC6" stroke="#262626" stroke-width="1.3" stroke-linejoin="round"/>
<path d="M377.50,121.90 L377.50,122.57 L377.50,123.24 L377.50,123.91 L377.54,124.59 L377.63,125.26 L377.71,125.93 L377.77,126.60 L377.83,127.27 L377.89,127.94 L377.96,128.62 L378.04,129.29 L378.13,129.96 L378.24,130.63 L378.35,131.30 L378.46,131.97 L378.56,132.65 L378.65,133.32 L378.72,133.99 L378.79,134.66 L378.85,135.33 L378.92,136.00 L378.97,136.68 L379.02,137.35 L379.06,138.02 L379.09,138.69 L379.10,139.36 L379.09,140.03 L379.06,140.71 L379.00,141.38 L378.94,142.05 L378.86,142.72 L378.78,143.39 L378.70,144.06 L378.62,144.74 L378.54,145.41 L378.44,146.08 L378.34,146.75 L378.24,147.42 L378.13,148.09 L378.03,148.77 L377.93,149.44 L377.85,150.11 L377.75,150.78 L377.66,151.45 L377.59,152.12 L377.55,152.80 L377.55,153.47 L377.55,154.14 L377.55,154.81 L377.55,155.48 L377.55,156.15 L377.55,156.83 L377.55,157.50 L377.55,158.17 L377.55,158.84 L377.55,159.51 L377.55,160.18 L377.55,160.86 L377.55,161.53 L377.55,162.20 L377.55,162.87 L377.55,163.54 L377.55,164.21 L377.55,164.89 L377.55,165.56 L377.55,166.23 L377.55,166.90 L377.55,167.57 L377.55,168.24 L377.55,168.92 L377.55,169.59 L377.55,170.26 L377.55,170.93 L377.55,171.60 L377.55,172.27 L377.55,172.95 L377.55,173.62 L377.55,174.29 L377.55,174.96 L377.55,175.63 L377.55,176.30 L377.55,176.98 L377.55,177.65 L377.55,178.32 L377.55,178.99 L377.55,179.66 L377.55,180.33 L377.55,181.01 L377.55,181.68 L377.55,182.35 L377.55,183.02 L377.57,183.69 L377.61,184.36 L377.67,185.04 L377.74,185.71 L377.81,186.38 L377.89,187.05 L377.98,187.72 L378.09,188.39 L378.22,189.07 L378.36,189.74 L378.53,190.41 L378.76,191.08 L379.06,191.75 L379.41,192.42 L379.77,193.10 L380.13,193.77 L380.47,194.44 L380.79,195.11 L381.11,195.78 L381.43,196.45 L381.75,197.13 L382.06,197.80 L382.37,198.47 L382.66,199.14 L382.94,199.81 L383.21,200.48 L383.48,201.16 L383.74,201.83 L384.00,202.50 L384.26,203.17 L384.52,203.84 L384.78,204.51 L385.05,205.19 L385.32,205.86 L385.59,206.53 L385.86,207.20 L386.12,207.87 L386.36,208.54 L386.60,209.22 L386.81,209.89 L387.01,210.56 L387.21,211.23 L387.43,211.90 L387.62,212.57 L387.79,213.25 L387.92,213.92 L387.99,214.59 L387.99,215.26 L387.92,215.93 L387.80,216.60 L387.64,217.28 L387.45,217.95 L387.24,218.62 L387.03,219.29 L386.81,219.96 L386.56,220.63 L386.26,221.31 L385.92,221.98 L385.56,222.65 L385.18,223.32 L384.79,223.99 L384.41,224.66 L384.04,225.34 L383.70,226.01 L383.36,226.68 L383.02,227.35 L382.68,228.02 L382.35,228.69 L382.01,229.37 L381.68,230.04 L381.36,230.71 L381.05,231.38 L380.75,232.05 L380.46,232.72 L380.17,233.40 L379.89,234.07 L379.60,234.74 L379.33,235.41 L379.06,236.08 L378.81,236.75 L378.58,237.43 L378.37,238.10 L378.18,238.77 L378.01,239.44 L377.85,240.11 L377.70,240.78 L377.58,241.46 L377.50,242.13 L377.50,242.80 L377.50,243.47 L377.50,244.14 L377.50,244.81 L377.50,245.49 L377.50,246.16 L377.50,246.83 L377.50,247.50 L377.50,247.50 L377.50,246.83 L377.50,246.16 L377.50,245.49 L377.50,244.81 L377.50,244.14 L377.50,243.47 L377.50,242.80 L377.50,242.13 L377.42,241.46 L377.30,240.78 L377.15,240.11 L376.99,239.44 L376.82,238.77 L376.63,238.10 L376.42,237.43 L376.19,236.75 L375.94,236.08 L375.67,235.41 L375.40,234.74 L375.11,234.07 L374.83,233.40 L374.54,232.72 L374.25,232.05 L373.95,231.38 L373.64,230.71 L373.32,230.04 L372.99,229.37 L372.65,228.69 L372.32,228.02 L371.98,227.35 L371.64,226.68 L371.30,226.01 L370.96,225.34 L370.59,224.66 L370.21,223.99 L369.82,223.32 L369.44,222.65 L369.08,221.98 L368.74,221.31 L368.44,220.63 L368.19,219.96 L367.97,219.29 L367.76,218.62 L367.55,217.95 L367.36,217.28 L367.20,216.60 L367.08,215.93 L367.01,215.26 L367.01,214.59 L367.08,213.92 L367.21,213.25 L367.38,212.57 L367.57,211.90 L367.79,211.23 L367.99,210.56 L368.19,209.89 L368.40,209.22 L368.64,208.54 L368.88,207.87 L369.14,207.20 L369.41,206.53 L369.68,205.86 L369.95,205.19 L370.22,204.51 L370.48,203.84 L370.74,203.17 L371.00,202.50 L371.26,201.83 L371.52,201.16 L371.79,200.48 L372.06,199.81 L372.34,199.14 L372.63,198.47 L372.94,197.80 L373.25,197.13 L373.57,196.45 L373.89,195.78 L374.21,195.11 L374.53,194.44 L374.87,193.77 L375.23,193.10 L375.59,192.42 L375.94,191.75 L376.24,191.08 L376.47,190.41 L376.64,189.74 L376.78,189.07 L376.91,188.39 L377.02,187.72 L377.11,187.05 L377.19,186.38 L377.26,185.71 L377.33,185.04 L377.39,184.36 L377.43,183.69 L377.45,183.02 L377.45,182.35 L377.45,181.68 L377.45,181.01 L377.45,180.33 L377.45,179.66 L377.45,178.99 L377.45,178.32 L377.45,177.65 L377.45,176.98 L377.45,176.30 L377.45,175.63 L377.45,174.96 L377.45,174.29 L377.45,173.62 L377.45,172.95 L377.45,172.27 L377.45,171.60 L377.45,170.93 L377.45,170.26 L377.45,169.59 L377.45,168.92 L377.45,168.24 L377.45,167.57 L377.45,166.90 L377.45,166.23 L377.45,165.56 L377.45,164.89 L377.45,164.21 L377.45,163.54 L377.45,162.87 L377.45,162.20 L377.45,161.53 L377.45,160.86 L377.45,160.18 L377.45,159.51 L377.45,158.84 L377.45,158.17 L377.45,157.50 L377.45,156.83 L377.45,156.15 L377.45,155.48 L377.45,154.81 L377.45,154.14 L377.45,153.47 L377.45,152.80 L377.41,152.12 L377.34,151.45 L377.25,150.78 L377.15,150.11 L377.07,149.44 L376.97,148.77 L376.87,148.09 L376.76,147.42 L376.66,146.75 L376.56,146.08 L376.46,145.41 L376.38,144.74 L376.30,144.06 L376.22,143.39 L376.14,142.72 L376.06,142.05 L376.00,141.38 L375.94,140.71 L375.91,140.03 L375.90,139.36 L375.91,138.69 L375.94,138.02 L375.98,137.35 L376.03,136.68 L376.08,136.00 L376.15,135.33 L376.21,134.66 L376.28,133.99 L376.35,133.32 L376.44,132.65 L376.54,131.97 L376.65,131.30 L376.76,130.63 L376.87,129.96 L376.96,129.29 L377.04,128.62 L377.11,127.94 L377.17,127.27 L377.23,126.60 L377.29,125.93 L377.37,125.26 L377.46,124.59 L377.50,123.91 L377.50,123.24 L377.50,122.57 L377.50,121.90Z" fill="#F3D680" stroke="#262626" stroke-width="1.3" stroke-linejoin="round"/>
<path d="M397.70,63.00 L397.70,63.67 L397.70,64.34 L397.70,65.01 L397.70,65.68 L397.70,66.35 L397.70,67.02 L397.70,67.68 L397.70,68.35 L397.70,69.02 L397.70,69.69 L397.70,70.36 L397.70,71.03 L397.70,71.70 L397.70,72.37 L397.70,73.04 L397.70,73.71 L397.70,74.38 L397.70,75.05 L397.70,75.72 L397.70,76.39 L397.70,77.05 L397.70,77.72 L397.70,78.39 L397.70,79.06 L397.70,79.73 L397.70,80.40 L397.70,81.07 L397.70,81.74 L397.70,82.41 L397.70,83.08 L397.70,83.75 L397.70,84.42 L397.70,85.09 L397.70,85.76 L397.70,86.42 L397.70,87.09 L397.70,87.76 L397.70,88.43 L397.70,89.10 L397.70,89.77 L397.71,90.44 L397.72,91.11 L397.73,91.78 L397.75,92.45 L397.76,93.12 L397.77,93.79 L397.79,94.46 L397.80,95.13 L397.81,95.79 L397.83,96.46 L397.84,97.13 L397.86,97.80 L397.87,98.47 L397.89,99.14 L397.90,99.81 L397.92,100.48 L397.94,101.15 L397.95,101.82 L397.97,102.49 L397.99,103.16 L398.01,103.83 L398.02,104.50 L398.04,105.16 L398.06,105.83 L398.08,106.50 L398.10,107.17 L398.12,107.84 L398.15,108.51 L398.17,109.18 L398.19,109.85 L398.21,110.52 L398.24,111.19 L398.26,111.86 L398.28,112.53 L398.31,113.20 L398.33,113.87 L398.36,114.53 L398.38,115.20 L398.41,115.87 L398.44,116.54 L398.46,117.21 L398.49,117.88 L398.52,118.55 L398.54,119.22 L398.57,119.89 L398.60,120.56 L398.62,121.23 L398.65,121.90 L398.68,122.57 L398.71,123.24 L398.74,123.90 L398.76,124.57 L398.79,125.24 L398.82,125.91 L398.85,126.58 L398.88,127.25 L398.91,127.92 L398.94,128.59 L398.97,129.26 L399.00,129.93 L399.04,130.60 L399.07,131.27 L399.10,131.94 L399.13,132.61 L399.17,133.27 L399.20,133.94 L399.24,134.61 L399.27,135.28 L399.30,135.95 L399.34,136.62 L399.37,137.29 L399.41,137.96 L399.44,138.63 L399.48,139.30 L399.52,139.97 L399.55,140.64 L399.59,141.31 L399.62,141.98 L399.66,142.64 L399.70,143.31 L399.73,143.98 L399.77,144.65 L399.80,145.32 L399.84,145.99 L399.88,146.66 L399.91,147.33 L399.95,148.00 L399.99,148.67 L400.03,149.34 L400.07,150.01 L400.11,150.68 L400.15,151.35 L400.19,152.01 L400.23,152.68 L400.28,153.35 L400.32,154.02 L400.36,154.69 L400.40,155.36 L400.44,156.03 L400.49,156.70 L400.53,157.37 L400.57,158.04 L400.61,158.71 L400.65,159.38 L400.68,160.05 L400.72,160.72 L400.75,161.38 L400.79,162.05 L400.82,162.72 L400.85,163.39 L400.88,164.06 L400.91,164.73 L400.93,165.40 L400.96,166.07 L400.98,166.74 L401.01,167.41 L401.03,168.08 L401.06,168.75 L401.08,169.42 L401.11,170.08 L401.13,170.75 L401.15,171.42 L401.17,172.09 L401.19,172.76 L401.21,173.43 L401.23,174.10 L401.24,174.77 L401.26,175.44 L401.27,176.11 L401.28,176.78 L401.29,177.45 L401.30,178.12 L401.31,178.79 L401.32,179.45 L401.32,180.12 L401.33,180.79 L401.34,181.46 L401.34,182.13 L401.35,182.80 L401.36,183.47 L401.36,184.14 L401.37,184.81 L401.37,185.48 L401.38,186.15 L401.38,186.82 L401.38,187.49 L401.39,188.16 L401.39,188.82 L401.39,189.49 L401.40,190.16 L401.40,190.83 L401.40,191.50 L401.40,192.17 L401.40,192.84 L401.40,193.51 L401.39,194.18 L401.38,194.85 L401.36,195.52 L401.34,196.19 L401.32,196.86 L401.29,197.53 L401.26,198.19 L401.24,198.86 L401.20,199.53 L401.17,200.20 L401.14,200.87 L401.10,201.54 L401.07,202.21 L401.04,202.88 L401.00,203.55 L400.97,204.22 L400.93,204.89 L400.89,205.56 L400.84,206.23 L400.80,206.90 L400.75,207.56 L400.70,208.23 L400.64,208.90 L400.59,209.57 L400.54,210.24 L400.48,210.91 L400.43,211.58 L400.37,212.25 L400.32,212.92 L400.27,213.59 L400.22,214.26 L400.17,214.93 L400.12,215.60 L400.07,216.27 L400.02,216.93 L399.97,217.60 L399.93,218.27 L399.88,218.94 L399.83,219.61 L399.78,220.28 L399.73,220.95 L399.68,221.62 L399.64,222.29 L399.59,222.96 L399.54,223.63 L399.48,224.30 L399.43,224.97 L399.38,225.64 L399.33,226.30 L399.27,226.97 L399.22,227.64 L399.16,228.31 L399.10,228.98 L399.05,229.65 L398.99,230.32 L398.93,230.99 L398.87,231.66 L398.82,232.33 L398.76,233.00 L398.70,233.67 L398.65,234.34 L398.60,235.01 L398.55,235.67 L398.50,236.34 L398.45,237.01 L398.40,237.68 L398.35,238.35 L398.30,239.02 L398.25,239.69 L398.20,240.36 L398.15,241.03 L398.10,241.70 L398.05,242.37 L398.01,243.04 L397.97,243.71 L397.93,244.38 L397.89,245.04 L397.86,245.71 L397.83,246.38 L397.80,247.05 L397.78,247.72 L397.76,248.39 L397.74,249.06 L397.72,249.73 L397.71,250.40 L397.70,251.07 L397.70,251.74 L397.70,252.41 L397.70,253.08 L397.70,253.75 L397.70,254.41 L397.70,255.08 L397.70,255.75 L397.70,256.42 L397.70,257.09 L397.70,257.76 L397.70,258.43 L397.70,259.10 L397.70,259.77 L397.70,260.44 L397.70,261.11 L397.70,261.78 L397.70,262.45 L397.70,263.12 L397.70,263.78 L397.70,264.45 L397.70,265.12 L397.70,265.79 L397.70,266.46 L397.70,267.13 L397.70,267.80 L397.70,267.80 L397.70,267.13 L397.70,266.46 L397.70,265.79 L397.70,265.12 L397.70,264.45 L397.70,263.78 L397.70,263.12 L397.70,262.45 L397.70,261.78 L397.70,261.11 L397.70,260.44 L397.70,259.77 L397.70,259.10 L397.70,258.43 L397.70,257.76 L397.70,257.09 L397.70,256.42 L397.70,255.75 L397.70,255.08 L397.70,254.41 L397.70,253.75 L397.70,253.08 L397.70,252.41 L397.70,251.74 L397.70,251.07 L397.69,250.40 L397.68,249.73 L397.66,249.06 L397.64,248.39 L397.62,247.72 L397.60,247.05 L397.57,246.38 L397.54,245.71 L397.51,245.04 L397.47,244.38 L397.43,243.71 L397.39,243.04 L397.35,242.37 L397.30,241.70 L397.25,241.03 L397.20,240.36 L397.15,239.69 L397.10,239.02 L397.05,238.35 L397.00,237.68 L396.95,237.01 L396.90,236.34 L396.85,235.67 L396.80,235.01 L396.75,234.34 L396.70,233.67 L396.64,233.00 L396.58,232.33 L396.53,231.66 L396.47,230.99 L396.41,230.32 L396.35,229.65 L396.30,228.98 L396.24,228.31 L396.18,227.64 L396.13,226.97 L396.07,226.30 L396.02,225.64 L395.97,224.97 L395.92,224.30 L395.86,223.63 L395.81,222.96 L395.76,222.29 L395.72,221.62 L395.67,220.95 L395.62,220.28 L395.57,219.61 L395.52,218.94 L395.47,218.27 L395.43,217.60 L395.38,216.93 L395.33,216.27 L395.28,215.60 L395.23,214.93 L395.18,214.26 L395.13,213.59 L395.08,212.92 L395.03,212.25 L394.97,211.58 L394.92,210.91 L394.86,210.24 L394.81,209.57 L394.76,208.90 L394.70,208.23 L394.65,207.56 L394.60,206.90 L394.56,206.23 L394.51,205.56 L394.47,204.89 L394.43,204.22 L394.40,203.55 L394.36,202.88 L394.33,202.21 L394.30,201.54 L394.26,200.87 L394.23,200.20 L394.20,199.53 L394.16,198.86 L394.14,198.19 L394.11,197.53 L394.08,196.86 L394.06,196.19 L394.04,195.52 L394.02,194.85 L394.01,194.18 L394.00,193.51 L394.00,192.84 L394.00,192.17 L394.00,191.50 L394.00,190.83 L394.00,190.16 L394.01,189.49 L394.01,188.82 L394.01,188.16 L394.02,187.49 L394.02,186.82 L394.02,186.15 L394.03,185.48 L394.03,184.81 L394.04,184.14 L394.04,183.47 L394.05,182.80 L394.06,182.13 L394.06,181.46 L394.07,180.79 L394.08,180.12 L394.08,179.45 L394.09,178.79 L394.10,178.12 L394.11,177.45 L394.12,176.78 L394.13,176.11 L394.14,175.44 L394.16,174.77 L394.17,174.10 L394.19,173.43 L394.21,172.76 L394.23,172.09 L394.25,171.42 L394.27,170.75 L394.29,170.08 L394.32,169.42 L394.34,168.75 L394.37,168.08 L394.39,167.41 L394.42,166.74 L394.44,166.07 L394.47,165.40 L394.49,164.73 L394.52,164.06 L394.55,163.39 L394.58,162.72 L394.61,162.05 L394.65,161.38 L394.68,160.72 L394.72,160.05 L394.75,159.38 L394.79,158.71 L394.83,158.04 L394.87,157.37 L394.91,156.70 L394.96,156.03 L395.00,155.36 L395.04,154.69 L395.08,154.02 L395.12,153.35 L395.17,152.68 L395.21,152.01 L395.25,151.35 L395.29,150.68 L395.33,150.01 L395.37,149.34 L395.41,148.67 L395.45,148.00 L395.49,147.33 L395.52,146.66 L395.56,145.99 L395.60,145.32 L395.63,144.65 L395.67,143.98 L395.70,143.31 L395.74,142.64 L395.78,141.98 L395.81,141.31 L395.85,140.64 L395.88,139.97 L395.92,139.30 L395.96,138.63 L395.99,137.96 L396.03,137.29 L396.06,136.62 L396.10,135.95 L396.13,135.28 L396.16,134.61 L396.20,133.94 L396.23,133.27 L396.27,132.61 L396.30,131.94 L396.33,131.27 L396.36,130.60 L396.40,129.93 L396.43,129.26 L396.46,128.59 L396.49,127.92 L396.52,127.25 L396.55,126.58 L396.58,125.91 L396.61,125.24 L396.64,124.57 L396.66,123.90 L396.69,123.24 L396.72,122.57 L396.75,121.90 L396.78,121.23 L396.80,120.56 L396.83,119.89 L396.86,119.22 L396.88,118.55 L396.91,117.88 L396.94,117.21 L396.96,116.54 L396.99,115.87 L397.02,115.20 L397.04,114.53 L397.07,113.87 L397.09,113.20 L397.12,112.53 L397.14,111.86 L397.16,111.19 L397.19,110.52 L397.21,109.85 L397.23,109.18 L397.25,108.51 L397.28,107.84 L397.30,107.17 L397.32,106.50 L397.34,105.83 L397.36,105.16 L397.38,104.50 L397.39,103.83 L397.41,103.16 L397.43,102.49 L397.45,101.82 L397.46,101.15 L397.48,100.48 L397.50,99.81 L397.51,99.14 L397.53,98.47 L397.54,97.80 L397.56,97.13 L397.57,96.46 L397.59,95.79 L397.60,95.13 L397.61,94.46 L397.63,93.79 L397.64,93.12 L397.65,92.45 L397.67,91.78 L397.68,91.11 L397.69,90.44 L397.70,89.77 L397.70,89.10 L397.70,88.43 L397.70,87.76 L397.70,87.09 L397.70,86.42 L397.70,85.76 L397.70,85.09 L397.70,84.42 L397.70,83.75 L397.70,83.08 L397.70,82.41 L397.70,81.74 L397.70,81.07 L397.70,80.40 L397.70,79.73 L397.70,79.06 L397.70,78.39 L397.70,77.72 L397.70,77.05 L397.70,76.39 L397.70,75.72 L397.70,75.05 L397.70,74.38 L397.70,73.71 L397.70,73.04 L397.70,72.37 L397.70,71.70 L397.70,71.03 L397.70,70.36 L397.70,69.69 L397.70,69.02 L397.70,68.35 L397.70,67.68 L397.70,67.02 L397.70,66.35 L397.70,65.68 L397.70,65.01 L397.70,64.34 L397.70,63.67 L397.70,63.00Z" fill="#B88EC6" stroke="#262626" stroke-width="1.3" stroke-linejoin="round"/>
<path d="M325.8 213.3h0M330.9 227.4h0M327.8 135.9h0M327.1 140.9h0M321.8 221.7h0M327.7 193.2h0M327.8 230.8h0M326.1 198.1h0M324.4 223.3h0M327.7 135.9h0M326.3 230.9h0M327.7 137.5h0" stroke="#D8BC6A" stroke-opacity="0.45" stroke-width="2.2" stroke-linecap="round" fill="none"/>
<path d="M371.3 218.7h0M376.8 199.6h0M376.3 230.7h0M383.8 215.4h0M374.5 204.5h0M376.4 230.1h0M373.3 216.1h0M378.8 207.5h0M374.2 220.6h0M370.2 213.2h0M376.3 227.4h0M374.9 226.2h0" stroke="#D8BC6A" stroke-opacity="0.45" stroke-width="2.2" stroke-linecap="round" fill="none"/>
<path d="M327.6,204.1L377.4,208.9M347.2,181.6L397.5,178.4" stroke="#262626" stroke-width="1.3" fill="none"/>
<circle cx="327.6" cy="204.1" r="4.2" fill="#EDAA00" stroke="#1A1A1A" stroke-width="1.2"/>
<path d="M327.6,196.7V212.1M325.3,196.7H329.90000000000003M325.3,212.1H329.90000000000003" stroke="#1A1A1A" stroke-width="1" fill="none"/>
<circle cx="347.2" cy="181.6" r="4.2" fill="#87369C" stroke="#1A1A1A" stroke-width="1.2"/>
<path d="M344.9,181.6H349.5" stroke="#1A1A1A" stroke-width="1.7" fill="none"/>
<circle cx="377.4" cy="208.9" r="4.2" fill="#EDAA00" stroke="#1A1A1A" stroke-width="1.2"/>
<path d="M377.4,203.5V214.1M375.09999999999997,203.5H379.7M375.09999999999997,214.1H379.7" stroke="#1A1A1A" stroke-width="1" fill="none"/>
<circle cx="397.5" cy="178.4" r="4.2" fill="#87369C" stroke="#1A1A1A" stroke-width="1.2"/>
<path d="M395.2,178.4H399.8" stroke="#1A1A1A" stroke-width="1.7" fill="none"/>
</g>
<path d="M380.9,61.9H398.9" stroke="#1a1a1a" stroke-width="1.2"/>
<polygon points="387.60,54.60 388.31,56.43 390.26,56.53 388.74,57.77 389.25,59.67 387.60,58.60 385.95,59.67 386.46,57.77 384.94,56.53 386.89,56.43" fill="#1a1a1a"/>
<polygon points="393.30,54.60 394.01,56.43 395.96,56.53 394.44,57.77 394.95,59.67 393.30,58.60 391.65,59.67 392.16,57.77 390.64,56.53 392.59,56.43" fill="#1a1a1a"/>
<path d="M324,275.5H375" stroke="#EBAE1E" stroke-width="1.2"/>
<polygon points="347.50,276.90 348.21,278.73 350.16,278.83 348.64,280.07 349.15,281.97 347.50,280.90 345.85,281.97 346.36,280.07 344.84,278.83 346.79,278.73" fill="#EFC24E"/>
<rect x="307.5" y="32.6" width="110.5" height="258.4" fill="none" stroke="#333" stroke-width="1.2"/>
<path d="M307.5,53.4H418.0" stroke="#333" stroke-width="1.2"/>
<text x="362.75" y="47.6" font-size="10.2" text-anchor="middle" fill="#1a1a1a" >Molecular Weight (amu)</text>
<path d="M337.64,291.0v3.4" stroke="#333" stroke-width="1"/>
<text x="333.64" y="303.9" font-size="10" text-anchor="middle" fill="#2E2E2E" >Day 7</text>
<path d="M387.86,291.0v3.4" stroke="#333" stroke-width="1"/>
<text x="387.56" y="303.9" font-size="10" text-anchor="middle" fill="#2E2E2E" >Day 60</text>
<path d="M304.1,96.5H307.5" stroke="#333" stroke-width="1"/>
<text x="302.9" y="100.05" font-size="10" text-anchor="end" fill="#2E2E2E" >900</text>
<path d="M304.1,155.0H307.5" stroke="#333" stroke-width="1"/>
<text x="302.9" y="158.55" font-size="10" text-anchor="end" fill="#2E2E2E" >600</text>
<path d="M304.1,213.6H307.5" stroke="#333" stroke-width="1"/>
<text x="302.9" y="217.15" font-size="10" text-anchor="end" fill="#2E2E2E" >300</text>
<path d="M304.1,272.0H307.5" stroke="#333" stroke-width="1"/>
<text x="302.9" y="275.55" font-size="10" text-anchor="end" fill="#2E2E2E" >0</text>
<clipPath id="cp3"><rect x="444.0" y="53.4" width="110.29999999999995" height="237.6"/></clipPath>
<g clip-path="url(#cp3)">
<path d="M478.3,150H490.3V253H478.3Z" fill="#E0E0E0"/>
<path d="M489.2 235.4h0M480.7 177.4h0M482.2 231.2h0M479.7 173.4h0M489.1 213.2h0M485.3 240.8h0M489.5 195.2h0M489.3 218.0h0M486.5 220.9h0M480.2 222.2h0M479.5 176.0h0M489.7 246.0h0M480.5 212.3h0M483.7 162.8h0M481.0 190.3h0M485.9 159.2h0M479.5 231.6h0M482.1 181.9h0M485.4 205.8h0M488.3 192.3h0M482.1 190.3h0M488.1 229.0h0M480.7 240.4h0M483.9 170.3h0M485.6 249.7h0M482.4 214.2h0M480.8 252.0h0M486.2 207.6h0M487.7 233.4h0M481.8 189.8h0M484.9 250.9h0M480.3 179.1h0M488.1 232.7h0M483.0 208.7h0M489.6 218.0h0M487.5 209.6h0M487.1 240.9h0M480.8 200.1h0M487.9 221.7h0M480.5 249.2h0M485.8 161.7h0M479.6 235.2h0M481.7 213.2h0M482.8 252.9h0M487.4 158.4h0M483.4 181.0h0M482.4 163.4h0M481.6 163.7h0M482.1 209.6h0M488.7 218.7h0M479.1 209.4h0M481.0 248.9h0M484.6 185.7h0M482.6 213.7h0M485.7 195.4h0M481.9 197.1h0M483.0 192.3h0M485.4 180.1h0M483.3 202.8h0M487.7 223.1h0M482.6 216.8h0M479.9 246.5h0M483.4 233.0h0M488.1 190.9h0M489.5 217.5h0M480.1 240.4h0M487.2 201.8h0M484.8 158.5h0M481.4 252.3h0M482.0 162.0h0M481.9 185.5h0M488.0 194.5h0M485.3 203.3h0M479.5 161.2h0" stroke="#CFCFCF" stroke-opacity="0.55" stroke-width="2.2" stroke-linecap="round" fill="none"/>
<path d="M490.8 248.0h0M478.2 184.6h0M489.6 218.1h0M478.9 195.5h0M489.9 180.5h0M478.7 197.0h0M490.5 184.6h0M477.7 154.3h0M489.5 194.4h0M489.6 155.9h0M490.7 244.0h0M479.0 221.5h0M490.1 187.3h0M479.0 227.6h0M490.0 245.4h0M478.7 221.9h0M490.2 223.4h0M478.8 169.5h0M490.1 238.7h0M490.8 229.8h0M489.5 166.4h0M489.9 213.2h0M478.3 176.0h0M478.1 195.0h0M489.8 247.9h0M478.5 212.8h0M490.5 182.5h0M490.8 243.6h0M477.9 234.4h0M478.9 223.1h0M490.5 248.2h0M477.8 221.5h0M479.0 218.6h0M489.8 153.9h0M489.6 209.3h0M478.3 170.8h0M490.2 191.5h0M490.6 240.4h0M478.8 200.9h0M478.6 180.1h0M478.4 187.2h0M477.9 161.5h0M490.0 206.7h0M478.9 176.3h0M478.9 199.5h0M478.5 222.3h0M478.4 219.2h0M478.5 182.0h0M477.9 199.5h0M478.8 175.4h0M490.7 185.5h0M490.0 208.2h0M489.8 216.8h0M490.5 218.8h0M490.4 190.2h0M478.6 171.6h0M489.7 206.1h0M490.3 157.6h0M490.4 247.1h0M478.3 152.8h0M478.6 162.3h0M489.9 217.4h0M478.7 157.7h0M478.8 167.0h0M490.7 206.1h0M478.3 201.3h0M478.3 223.1h0M490.1 153.8h0M489.6 153.3h0M489.7 205.6h0M478.2 238.1h0M478.7 222.5h0M489.9 211.1h0M479.1 176.7h0M478.8 219.3h0M478.0 159.0h0M490.3 204.5h0M478.2 233.3h0M490.2 202.9h0M478.3 251.7h0M489.6 199.2h0M490.6 156.5h0M479.1 247.0h0M478.3 151.0h0M490.4 164.2h0M490.7 151.6h0M490.0 176.0h0M490.1 185.4h0M489.9 150.4h0M478.9 186.8h0M477.7 184.5h0M490.7 170.3h0M479.5 147.5h0M488.9 149.9h0M479.6 149.1h0M486.8 147.4h0M484.3 146.4h0M482.1 148.8h0M485.9 256.8h0M479.3 253.2h0M482.5 255.6h0M485.4 258.0h0M481.6 253.1h0M489.1 254.0h0M489.3 256.4h0M486.0 253.9h0M481.6 256.9h0M489.0 257.8h0M479.3 253.7h0M480.9 254.9h0M485.2 253.9h0M487.0 253.2h0" stroke="#E0E0E0" stroke-width="2.2" stroke-linecap="round" fill="none"/>
<path d="M528.3,150H540.3V253H528.3Z" fill="#E0E0E0"/>
<path d="M532.9 160.4h0M538.8 209.4h0M530.9 188.2h0M531.5 179.2h0M532.6 165.9h0M534.4 175.6h0M539.3 242.1h0M535.1 166.4h0M530.5 219.4h0M531.0 204.8h0M532.4 187.5h0M531.4 233.9h0M535.2 205.6h0M539.0 184.0h0M532.4 184.2h0M534.2 221.3h0M530.5 224.7h0M536.9 165.3h0M538.2 190.0h0M531.4 174.1h0M532.8 238.9h0M531.2 161.3h0M531.7 229.3h0M538.0 207.2h0M537.1 212.9h0M532.1 250.6h0M534.9 240.2h0M530.3 170.7h0M530.3 183.8h0M534.9 229.5h0M538.5 154.6h0M533.7 211.4h0M534.0 164.5h0M535.2 244.5h0M535.5 197.3h0M535.7 206.7h0M530.4 170.5h0M538.0 151.3h0M531.6 150.3h0M534.3 210.3h0M531.1 242.9h0M530.6 161.7h0M532.0 201.3h0M536.4 196.9h0M536.1 183.1h0M534.8 152.0h0M539.1 243.5h0M539.6 208.9h0M532.1 174.2h0M534.4 196.2h0M533.7 234.4h0M536.5 154.9h0M538.5 172.9h0M532.1 171.8h0M532.1 164.1h0M531.7 211.9h0M535.2 155.0h0M530.0 225.7h0M529.6 193.7h0M532.9 151.7h0M538.4 179.5h0M535.9 151.4h0M533.4 225.6h0M531.5 201.6h0M529.4 176.0h0M529.1 243.3h0M536.8 164.1h0M534.4 197.1h0M530.6 180.3h0M530.2 232.3h0M537.1 180.5h0M539.3 180.7h0M534.6 168.1h0M534.3 205.4h0" stroke="#CFCFCF" stroke-opacity="0.55" stroke-width="2.2" stroke-linecap="round" fill="none"/>
<path d="M528.3 229.8h0M529.0 231.3h0M540.1 206.3h0M528.2 205.4h0M540.4 222.5h0M540.4 252.9h0M539.6 177.7h0M528.9 177.6h0M528.2 220.4h0M540.1 189.4h0M529.1 176.7h0M540.3 183.0h0M540.2 168.6h0M539.6 188.2h0M528.7 179.0h0M540.3 154.7h0M540.5 181.3h0M540.7 224.3h0M540.3 233.4h0M528.8 176.7h0M539.8 171.2h0M528.2 173.1h0M540.1 175.9h0M528.1 170.7h0M528.9 172.8h0M540.7 199.7h0M528.5 181.2h0M539.5 157.2h0M528.1 236.8h0M527.9 192.5h0M540.3 170.1h0M529.1 231.7h0M540.3 187.3h0M528.3 164.6h0M539.8 221.4h0M539.9 195.4h0M527.8 189.9h0M527.8 151.4h0M528.8 153.4h0M527.9 179.5h0M528.6 236.6h0M540.4 151.6h0M527.9 242.6h0M528.1 150.2h0M540.7 200.8h0M540.2 154.8h0M529.0 174.9h0M528.5 187.1h0M540.8 150.4h0M527.8 156.3h0M527.7 200.4h0M528.5 198.8h0M539.7 188.8h0M539.9 171.7h0M540.2 156.4h0M540.7 212.0h0M540.2 201.0h0M528.7 201.5h0M540.5 173.9h0M527.7 167.0h0M539.7 174.2h0M528.6 190.4h0M539.8 220.2h0M539.9 233.4h0M527.9 191.9h0M528.1 188.5h0M539.8 152.7h0M540.4 196.5h0M527.9 167.6h0M540.2 166.8h0M540.2 169.0h0M528.2 197.0h0M540.0 238.4h0M540.4 200.1h0M540.2 236.4h0M540.7 163.7h0M540.7 179.0h0M527.8 171.4h0M540.2 173.6h0M528.5 231.9h0M528.0 236.8h0M528.7 161.6h0M540.2 162.6h0M539.8 217.5h0M539.6 225.7h0M540.7 182.8h0M528.8 237.7h0M539.6 208.0h0M528.7 194.4h0M540.0 193.5h0M528.0 158.7h0M527.7 150.3h0M540.1 146.4h0M528.3 146.9h0M532.1 149.5h0M529.0 149.3h0M539.2 146.3h0M531.3 146.9h0M538.1 253.5h0M529.8 256.0h0M533.2 257.4h0M529.2 253.6h0M532.6 255.4h0M530.1 253.4h0M532.2 254.3h0M538.2 254.4h0M538.4 253.6h0M531.6 256.2h0M531.4 257.5h0M537.7 257.6h0M530.6 258.5h0M537.5 253.8h0" stroke="#E0E0E0" stroke-width="2.2" stroke-linecap="round" fill="none"/>
<path d="M482.9 151.4h0M488.0 118.9h0M487.6 132.5h0M478.7 115.8h0M486.5 142.5h0M484.7 141.5h0M479.9 142.5h0M482.5 120.6h0M481.3 141.1h0M483.7 127.8h0M481.5 136.9h0M489.6 150.4h0M484.1 119.1h0M482.3 130.5h0M479.3 117.1h0M479.8 117.7h0M479.2 143.8h0M487.9 149.5h0M486.6 131.8h0M479.7 151.0h0M483.9 141.4h0M481.8 133.4h0M486.1 122.4h0M483.4 128.7h0M482.5 150.5h0M489.5 133.6h0M485.1 142.1h0M486.0 129.8h0M484.8 135.9h0M479.3 136.5h0M486.6 149.3h0M482.0 151.1h0M479.9 132.3h0M482.2 133.2h0M481.5 128.0h0M488.6 132.8h0M488.1 138.1h0M480.6 119.4h0M478.9 151.0h0M484.5 121.1h0M480.6 132.6h0M485.6 142.8h0M484.8 128.2h0M488.5 138.3h0M481.1 121.0h0M478.7 141.6h0M489.9 148.6h0M487.6 134.1h0M489.7 131.0h0M478.4 129.3h0" stroke="#D8D8D8" stroke-opacity="0.85" stroke-width="2.3" stroke-linecap="round" fill="none"/>
<path d="M533.8 121.0h0M540.1 118.2h0M535.1 143.4h0M533.3 143.2h0M536.9 149.5h0M531.7 137.6h0M532.1 126.0h0M529.3 135.0h0M531.4 150.4h0M529.1 140.9h0M536.1 141.2h0M540.0 121.9h0M531.5 127.0h0M532.3 146.0h0M531.2 149.3h0M536.6 133.5h0M538.9 148.9h0M534.7 132.5h0M536.4 136.9h0M538.4 130.0h0M530.4 145.5h0M532.3 133.5h0M533.8 150.5h0M539.5 143.0h0M539.7 136.5h0M528.5 132.7h0M536.6 123.5h0M538.3 135.9h0M536.5 140.7h0M535.3 134.9h0M532.8 145.1h0M538.4 139.4h0M532.5 150.5h0M538.4 120.9h0M539.9 138.1h0M532.7 146.7h0M534.9 148.7h0M538.9 145.5h0M539.7 142.0h0M532.8 136.5h0M533.2 143.6h0M534.7 145.3h0M538.2 146.2h0M539.3 141.6h0M538.6 147.1h0M528.5 115.9h0M532.3 143.5h0M533.0 149.2h0M531.3 146.2h0M539.1 143.3h0" stroke="#D8D8D8" stroke-opacity="0.85" stroke-width="2.3" stroke-linecap="round" fill="none"/>
<path d="M482.7 108.8h0M484.7 91.7h0M484.1 85.5h0M488.9 113.4h0M486.5 84.2h0M482.6 112.7h0M487.9 108.2h0M479.3 109.9h0M490.1 111.5h0M485.9 80.9h0M485.5 74.1h0M487.2 101.9h0M481.8 108.6h0M488.1 75.2h0" stroke="#D4D4D4" stroke-opacity="0.8" stroke-width="2.3" stroke-linecap="round" fill="none"/>
<path d="M531.1 71.2h0M537.6 80.7h0M538.4 89.9h0M538.4 100.1h0M538.9 105.4h0M532.6 82.4h0M535.3 98.3h0M538.0 105.0h0M529.8 83.7h0M536.5 103.4h0M529.0 82.5h0M531.3 71.0h0M530.8 82.3h0M530.3 72.3h0" stroke="#D4D4D4" stroke-opacity="0.8" stroke-width="2.3" stroke-linecap="round" fill="none"/>
<path d="M479.4 256.1h0M483.6 254.9h0M488.8 260.6h0" stroke="#D4D4D4" stroke-opacity="0.8" stroke-width="2.3" stroke-linecap="round" fill="none"/>
<path d="M529.8 256.6h0M536.4 255.4h0M535.1 256.7h0" stroke="#D4D4D4" stroke-opacity="0.8" stroke-width="2.3" stroke-linecap="round" fill="none"/>
<path d="M464.10,188.70 L464.10,189.38 L464.10,190.05 L464.10,190.73 L464.19,191.41 L464.35,192.08 L464.50,192.76 L464.67,193.44 L464.85,194.11 L465.05,194.79 L465.30,195.47 L465.57,196.15 L465.84,196.82 L466.11,197.50 L466.36,198.18 L466.56,198.85 L466.73,199.53 L466.91,200.21 L467.08,200.88 L467.23,201.56 L467.36,202.24 L467.45,202.91 L467.50,203.59 L467.48,204.27 L467.40,204.94 L467.28,205.62 L467.11,206.30 L466.93,206.97 L466.74,207.65 L466.56,208.33 L466.40,209.01 L466.19,209.68 L465.96,210.36 L465.74,211.04 L465.54,211.71 L465.39,212.39 L465.31,213.07 L465.31,213.74 L465.33,214.42 L465.38,215.10 L465.45,215.77 L465.53,216.45 L465.63,217.13 L465.75,217.80 L465.90,218.48 L466.22,219.16 L466.67,219.83 L467.18,220.51 L467.71,221.19 L468.27,221.87 L468.91,222.54 L469.61,223.22 L470.30,223.90 L470.97,224.57 L471.66,225.25 L472.38,225.93 L473.04,226.60 L473.60,227.28 L474.00,227.96 L474.39,228.63 L474.73,229.31 L474.98,229.99 L475.10,230.66 L475.05,231.34 L474.87,232.02 L474.59,232.69 L474.26,233.37 L473.81,234.05 L473.14,234.73 L472.40,235.40 L471.73,236.08 L471.05,236.76 L470.37,237.43 L469.69,238.11 L468.99,238.79 L468.30,239.46 L467.65,240.14 L467.04,240.82 L466.46,241.49 L465.93,242.17 L465.47,242.85 L465.05,243.52 L464.71,244.20 L464.49,244.88 L464.33,245.55 L464.21,246.23 L464.11,246.91 L464.10,247.59 L464.10,248.26 L464.10,248.94 L464.10,249.62 L464.10,250.29 L464.10,250.97 L464.10,251.65 L464.10,252.32 L464.10,253.00 L464.10,253.00 L464.10,252.32 L464.10,251.65 L464.10,250.97 L464.10,250.29 L464.10,249.62 L464.10,248.94 L464.10,248.26 L464.10,247.59 L464.09,246.91 L463.99,246.23 L463.87,245.55 L463.71,244.88 L463.49,244.20 L463.15,243.52 L462.73,242.85 L462.27,242.17 L461.74,241.49 L461.16,240.82 L460.55,240.14 L459.90,239.46 L459.21,238.79 L458.51,238.11 L457.83,237.43 L457.15,236.76 L456.47,236.08 L455.80,235.40 L455.06,234.73 L454.39,234.05 L453.94,233.37 L453.61,232.69 L453.33,232.02 L453.15,231.34 L453.10,230.66 L453.22,229.99 L453.47,229.31 L453.81,228.63 L454.20,227.96 L454.60,227.28 L455.16,226.60 L455.82,225.93 L456.54,225.25 L457.23,224.57 L457.90,223.90 L458.59,223.22 L459.29,222.54 L459.93,221.87 L460.49,221.19 L461.02,220.51 L461.53,219.83 L461.98,219.16 L462.30,218.48 L462.45,217.80 L462.57,217.13 L462.67,216.45 L462.75,215.77 L462.82,215.10 L462.87,214.42 L462.89,213.74 L462.89,213.07 L462.81,212.39 L462.66,211.71 L462.46,211.04 L462.24,210.36 L462.01,209.68 L461.80,209.01 L461.64,208.33 L461.46,207.65 L461.27,206.97 L461.09,206.30 L460.92,205.62 L460.80,204.94 L460.72,204.27 L460.70,203.59 L460.75,202.91 L460.84,202.24 L460.97,201.56 L461.12,200.88 L461.29,200.21 L461.47,199.53 L461.64,198.85 L461.84,198.18 L462.09,197.50 L462.36,196.82 L462.63,196.15 L462.90,195.47 L463.15,194.79 L463.35,194.11 L463.53,193.44 L463.70,192.76 L463.85,192.08 L464.01,191.41 L464.10,190.73 L464.10,190.05 L464.10,189.38 L464.10,188.70Z" fill="#F3D680" stroke="#262626" stroke-width="1.3" stroke-linejoin="round"/>
<path d="M484.30,63.60 L484.30,64.27 L484.30,64.94 L484.30,65.61 L484.30,66.28 L484.30,66.95 L484.30,67.61 L484.30,68.28 L484.30,68.95 L484.30,69.62 L484.30,70.29 L484.30,70.96 L484.30,71.63 L484.30,72.30 L484.30,72.97 L484.30,73.64 L484.30,74.30 L484.30,74.97 L484.30,75.64 L484.30,76.31 L484.30,76.98 L484.30,77.65 L484.30,78.32 L484.30,78.99 L484.30,79.66 L484.30,80.33 L484.30,81.00 L484.30,81.66 L484.30,82.33 L484.30,83.00 L484.30,83.67 L484.30,84.34 L484.30,85.01 L484.30,85.68 L484.30,86.35 L484.30,87.02 L484.30,87.69 L484.30,88.36 L484.30,89.02 L484.30,89.69 L484.30,90.36 L484.30,91.03 L484.30,91.70 L484.30,92.37 L484.30,93.04 L484.30,93.71 L484.30,94.38 L484.30,95.05 L484.30,95.71 L484.30,96.38 L484.30,97.05 L484.30,97.72 L484.30,98.39 L484.30,99.06 L484.30,99.73 L484.30,100.40 L484.30,101.07 L484.30,101.74 L484.30,102.41 L484.30,103.07 L484.30,103.74 L484.30,104.41 L484.30,105.08 L484.30,105.75 L484.30,106.42 L484.30,107.09 L484.30,107.76 L484.30,108.43 L484.30,109.10 L484.30,109.76 L484.30,110.43 L484.30,111.10 L484.30,111.77 L484.30,112.44 L484.30,113.11 L484.30,113.78 L484.30,114.45 L484.30,115.12 L484.30,115.79 L484.30,116.46 L484.30,117.12 L484.30,117.79 L484.30,118.46 L484.30,119.13 L484.30,119.80 L484.30,120.47 L484.30,121.14 L484.30,121.81 L484.30,122.48 L484.30,123.15 L484.30,123.81 L484.30,124.48 L484.30,125.15 L484.30,125.82 L484.30,126.49 L484.30,127.16 L484.30,127.83 L484.30,128.50 L484.30,129.17 L484.30,129.84 L484.30,130.51 L484.30,131.17 L484.30,131.84 L484.30,132.51 L484.30,133.18 L484.30,133.85 L484.30,134.52 L484.30,135.19 L484.30,135.86 L484.30,136.53 L484.30,137.20 L484.30,137.87 L484.31,138.53 L484.31,139.20 L484.32,139.87 L484.32,140.54 L484.32,141.21 L484.33,141.88 L484.33,142.55 L484.34,143.22 L484.34,143.89 L484.35,144.56 L484.36,145.22 L484.36,145.89 L484.37,146.56 L484.37,147.23 L484.38,147.90 L484.39,148.57 L484.39,149.24 L484.40,149.91 L484.41,150.58 L484.41,151.25 L484.42,151.92 L484.43,152.58 L484.44,153.25 L484.45,153.92 L484.46,154.59 L484.47,155.26 L484.48,155.93 L484.49,156.60 L484.50,157.27 L484.52,157.94 L484.53,158.61 L484.54,159.27 L484.56,159.94 L484.57,160.61 L484.58,161.28 L484.60,161.95 L484.62,162.62 L484.63,163.29 L484.65,163.96 L484.67,164.63 L484.69,165.30 L484.71,165.97 L484.73,166.63 L484.75,167.30 L484.77,167.97 L484.79,168.64 L484.81,169.31 L484.84,169.98 L484.87,170.65 L484.90,171.32 L484.94,171.99 L484.98,172.66 L485.02,173.33 L485.06,173.99 L485.11,174.66 L485.16,175.33 L485.21,176.00 L485.26,176.67 L485.31,177.34 L485.36,178.01 L485.42,178.68 L485.47,179.35 L485.52,180.02 L485.58,180.68 L485.63,181.35 L485.68,182.02 L485.74,182.69 L485.80,183.36 L485.86,184.03 L485.92,184.70 L485.98,185.37 L486.04,186.04 L486.11,186.71 L486.17,187.38 L486.23,188.04 L486.30,188.71 L486.37,189.38 L486.43,190.05 L486.49,190.72 L486.56,191.39 L486.62,192.06 L486.68,192.73 L486.75,193.40 L486.81,194.07 L486.87,194.73 L486.93,195.40 L487.00,196.07 L487.06,196.74 L487.12,197.41 L487.19,198.08 L487.25,198.75 L487.31,199.42 L487.37,200.09 L487.44,200.76 L487.50,201.43 L487.56,202.09 L487.61,202.76 L487.67,203.43 L487.73,204.10 L487.78,204.77 L487.84,205.44 L487.89,206.11 L487.94,206.78 L488.00,207.45 L488.05,208.12 L488.10,208.79 L488.15,209.45 L488.20,210.12 L488.24,210.79 L488.27,211.46 L488.31,212.13 L488.34,212.80 L488.37,213.47 L488.40,214.14 L488.43,214.81 L488.45,215.48 L488.48,216.14 L488.51,216.81 L488.53,217.48 L488.55,218.15 L488.57,218.82 L488.58,219.49 L488.59,220.16 L488.60,220.83 L488.60,221.50 L488.59,222.17 L488.55,222.84 L488.50,223.50 L488.43,224.17 L488.35,224.84 L488.25,225.51 L488.15,226.18 L488.05,226.85 L487.94,227.52 L487.83,228.19 L487.72,228.86 L487.61,229.53 L487.51,230.19 L487.42,230.86 L487.33,231.53 L487.25,232.20 L487.17,232.87 L487.08,233.54 L487.00,234.21 L486.92,234.88 L486.84,235.55 L486.75,236.22 L486.67,236.89 L486.59,237.55 L486.50,238.22 L486.41,238.89 L486.33,239.56 L486.24,240.23 L486.15,240.90 L486.06,241.57 L485.97,242.24 L485.87,242.91 L485.78,243.58 L485.69,244.24 L485.60,244.91 L485.50,245.58 L485.41,246.25 L485.31,246.92 L485.20,247.59 L485.10,248.26 L484.99,248.93 L484.87,249.60 L484.75,250.27 L484.58,250.94 L484.41,251.60 L484.31,252.27 L484.30,252.94 L484.30,253.61 L484.30,254.28 L484.30,254.95 L484.30,255.62 L484.30,256.29 L484.30,256.96 L484.30,257.63 L484.30,258.30 L484.30,258.96 L484.30,259.63 L484.30,260.30 L484.30,260.97 L484.30,261.64 L484.30,262.31 L484.30,262.98 L484.30,263.65 L484.30,264.32 L484.30,264.99 L484.30,265.65 L484.30,266.32 L484.30,266.99 L484.30,267.66 L484.30,268.33 L484.30,269.00 L484.30,269.00 L484.30,268.33 L484.30,267.66 L484.30,266.99 L484.30,266.32 L484.30,265.65 L484.30,264.99 L484.30,264.32 L484.30,263.65 L484.30,262.98 L484.30,262.31 L484.30,261.64 L484.30,260.97 L484.30,260.30 L484.30,259.63 L484.30,258.96 L484.30,258.30 L484.30,257.63 L484.30,256.96 L484.30,256.29 L484.30,255.62 L484.30,254.95 L484.30,254.28 L484.30,253.61 L484.30,252.94 L484.29,252.27 L484.19,251.60 L484.02,250.94 L483.85,250.27 L483.73,249.60 L483.61,248.93 L483.50,248.26 L483.40,247.59 L483.29,246.92 L483.19,246.25 L483.10,245.58 L483.00,244.91 L482.91,244.24 L482.82,243.58 L482.73,242.91 L482.63,242.24 L482.54,241.57 L482.45,240.90 L482.36,240.23 L482.27,239.56 L482.19,238.89 L482.10,238.22 L482.01,237.55 L481.93,236.89 L481.85,236.22 L481.76,235.55 L481.68,234.88 L481.60,234.21 L481.52,233.54 L481.43,232.87 L481.35,232.20 L481.27,231.53 L481.18,230.86 L481.09,230.19 L480.99,229.53 L480.88,228.86 L480.77,228.19 L480.66,227.52 L480.55,226.85 L480.45,226.18 L480.35,225.51 L480.25,224.84 L480.17,224.17 L480.10,223.50 L480.05,222.84 L480.01,222.17 L480.00,221.50 L480.00,220.83 L480.01,220.16 L480.02,219.49 L480.03,218.82 L480.05,218.15 L480.07,217.48 L480.09,216.81 L480.12,216.14 L480.15,215.48 L480.17,214.81 L480.20,214.14 L480.23,213.47 L480.26,212.80 L480.29,212.13 L480.33,211.46 L480.36,210.79 L480.40,210.12 L480.45,209.45 L480.50,208.79 L480.55,208.12 L480.60,207.45 L480.66,206.78 L480.71,206.11 L480.76,205.44 L480.82,204.77 L480.87,204.10 L480.93,203.43 L480.99,202.76 L481.04,202.09 L481.10,201.43 L481.16,200.76 L481.23,200.09 L481.29,199.42 L481.35,198.75 L481.41,198.08 L481.48,197.41 L481.54,196.74 L481.60,196.07 L481.67,195.40 L481.73,194.73 L481.79,194.07 L481.85,193.40 L481.92,192.73 L481.98,192.06 L482.04,191.39 L482.11,190.72 L482.17,190.05 L482.23,189.38 L482.30,188.71 L482.37,188.04 L482.43,187.38 L482.49,186.71 L482.56,186.04 L482.62,185.37 L482.68,184.70 L482.74,184.03 L482.80,183.36 L482.86,182.69 L482.92,182.02 L482.97,181.35 L483.02,180.68 L483.08,180.02 L483.13,179.35 L483.18,178.68 L483.24,178.01 L483.29,177.34 L483.34,176.67 L483.39,176.00 L483.44,175.33 L483.49,174.66 L483.54,173.99 L483.58,173.33 L483.62,172.66 L483.66,171.99 L483.70,171.32 L483.73,170.65 L483.76,169.98 L483.79,169.31 L483.81,168.64 L483.83,167.97 L483.85,167.30 L483.87,166.63 L483.89,165.97 L483.91,165.30 L483.93,164.63 L483.95,163.96 L483.97,163.29 L483.98,162.62 L484.00,161.95 L484.02,161.28 L484.03,160.61 L484.04,159.94 L484.06,159.27 L484.07,158.61 L484.08,157.94 L484.10,157.27 L484.11,156.60 L484.12,155.93 L484.13,155.26 L484.14,154.59 L484.15,153.92 L484.16,153.25 L484.17,152.58 L484.18,151.92 L484.19,151.25 L484.19,150.58 L484.20,149.91 L484.21,149.24 L484.21,148.57 L484.22,147.90 L484.23,147.23 L484.23,146.56 L484.24,145.89 L484.24,145.22 L484.25,144.56 L484.26,143.89 L484.26,143.22 L484.27,142.55 L484.27,141.88 L484.28,141.21 L484.28,140.54 L484.28,139.87 L484.29,139.20 L484.29,138.53 L484.30,137.87 L484.30,137.20 L484.30,136.53 L484.30,135.86 L484.30,135.19 L484.30,134.52 L484.30,133.85 L484.30,133.18 L484.30,132.51 L484.30,131.84 L484.30,131.17 L484.30,130.51 L484.30,129.84 L484.30,129.17 L484.30,128.50 L484.30,127.83 L484.30,127.16 L484.30,126.49 L484.30,125.82 L484.30,125.15 L484.30,124.48 L484.30,123.81 L484.30,123.15 L484.30,122.48 L484.30,121.81 L484.30,121.14 L484.30,120.47 L484.30,119.80 L484.30,119.13 L484.30,118.46 L484.30,117.79 L484.30,117.12 L484.30,116.46 L484.30,115.79 L484.30,115.12 L484.30,114.45 L484.30,113.78 L484.30,113.11 L484.30,112.44 L484.30,111.77 L484.30,111.10 L484.30,110.43 L484.30,109.76 L484.30,109.10 L484.30,108.43 L484.30,107.76 L484.30,107.09 L484.30,106.42 L484.30,105.75 L484.30,105.08 L484.30,104.41 L484.30,103.74 L484.30,103.07 L484.30,102.41 L484.30,101.74 L484.30,101.07 L484.30,100.40 L484.30,99.73 L484.30,99.06 L484.30,98.39 L484.30,97.72 L484.30,97.05 L484.30,96.38 L484.30,95.71 L484.30,95.05 L484.30,94.38 L484.30,93.71 L484.30,93.04 L484.30,92.37 L484.30,91.70 L484.30,91.03 L484.30,90.36 L484.30,89.69 L484.30,89.02 L484.30,88.36 L484.30,87.69 L484.30,87.02 L484.30,86.35 L484.30,85.68 L484.30,85.01 L484.30,84.34 L484.30,83.67 L484.30,83.00 L484.30,82.33 L484.30,81.66 L484.30,81.00 L484.30,80.33 L484.30,79.66 L484.30,78.99 L484.30,78.32 L484.30,77.65 L484.30,76.98 L484.30,76.31 L484.30,75.64 L484.30,74.97 L484.30,74.30 L484.30,73.64 L484.30,72.97 L484.30,72.30 L484.30,71.63 L484.30,70.96 L484.30,70.29 L484.30,69.62 L484.30,68.95 L484.30,68.28 L484.30,67.61 L484.30,66.95 L484.30,66.28 L484.30,65.61 L484.30,64.94 L484.30,64.27 L484.30,63.60Z" fill="#B88EC6" stroke="#262626" stroke-width="1.3" stroke-linejoin="round"/>
<path d="M514.20,181.30 L514.20,181.98 L514.20,182.65 L514.20,183.33 L514.20,184.01 L514.20,184.68 L514.23,185.36 L514.28,186.04 L514.32,186.71 L514.35,187.39 L514.39,188.07 L514.45,188.74 L514.51,189.42 L514.62,190.10 L514.78,190.77 L514.96,191.45 L515.18,192.13 L515.40,192.80 L515.63,193.48 L515.86,194.16 L516.07,194.83 L516.29,195.51 L516.51,196.19 L516.74,196.86 L516.98,197.54 L517.21,198.22 L517.44,198.89 L517.66,199.57 L517.88,200.25 L518.10,200.92 L518.33,201.60 L518.56,202.28 L518.78,202.95 L518.98,203.63 L519.16,204.31 L519.32,204.98 L519.45,205.66 L519.56,206.34 L519.68,207.01 L519.78,207.69 L519.87,208.37 L519.93,209.04 L519.95,209.72 L519.92,210.40 L519.84,211.07 L519.70,211.75 L519.55,212.43 L519.38,213.10 L519.21,213.78 L519.07,214.46 L518.92,215.13 L518.77,215.81 L518.61,216.49 L518.44,217.16 L518.29,217.84 L518.15,218.52 L518.02,219.19 L517.92,219.87 L517.83,220.55 L517.75,221.22 L517.66,221.90 L517.58,222.58 L517.51,223.25 L517.44,223.93 L517.39,224.61 L517.34,225.28 L517.31,225.96 L517.30,226.64 L517.30,227.31 L517.31,227.99 L517.32,228.67 L517.33,229.34 L517.34,230.02 L517.36,230.70 L517.37,231.37 L517.38,232.05 L517.39,232.73 L517.40,233.40 L517.40,234.08 L517.38,234.76 L517.33,235.43 L517.25,236.11 L517.16,236.79 L517.05,237.46 L516.94,238.14 L516.81,238.82 L516.69,239.49 L516.56,240.17 L516.44,240.85 L516.33,241.52 L516.21,242.20 L516.08,242.88 L515.94,243.55 L515.80,244.23 L515.66,244.91 L515.52,245.58 L515.38,246.26 L515.24,246.94 L515.11,247.61 L514.98,248.29 L514.86,248.97 L514.74,249.64 L514.62,250.32 L514.51,251.00 L514.42,251.67 L514.34,252.35 L514.27,253.03 L514.20,253.70 L514.20,254.38 L514.20,255.06 L514.20,255.73 L514.20,256.41 L514.20,257.09 L514.20,257.76 L514.20,258.44 L514.20,259.12 L514.20,259.79 L514.20,260.47 L514.20,261.15 L514.20,261.82 L514.20,262.50 L514.20,262.50 L514.20,261.82 L514.20,261.15 L514.20,260.47 L514.20,259.79 L514.20,259.12 L514.20,258.44 L514.20,257.76 L514.20,257.09 L514.20,256.41 L514.20,255.73 L514.20,255.06 L514.20,254.38 L514.20,253.70 L514.13,253.03 L514.06,252.35 L513.98,251.67 L513.89,251.00 L513.78,250.32 L513.66,249.64 L513.54,248.97 L513.42,248.29 L513.29,247.61 L513.16,246.94 L513.02,246.26 L512.88,245.58 L512.74,244.91 L512.60,244.23 L512.46,243.55 L512.32,242.88 L512.19,242.20 L512.07,241.52 L511.96,240.85 L511.84,240.17 L511.71,239.49 L511.59,238.82 L511.46,238.14 L511.35,237.46 L511.24,236.79 L511.15,236.11 L511.07,235.43 L511.02,234.76 L511.00,234.08 L511.00,233.40 L511.01,232.73 L511.02,232.05 L511.03,231.37 L511.04,230.70 L511.06,230.02 L511.07,229.34 L511.08,228.67 L511.09,227.99 L511.10,227.31 L511.10,226.64 L511.09,225.96 L511.06,225.28 L511.01,224.61 L510.96,223.93 L510.89,223.25 L510.82,222.58 L510.74,221.90 L510.65,221.22 L510.57,220.55 L510.48,219.87 L510.38,219.19 L510.25,218.52 L510.11,217.84 L509.96,217.16 L509.79,216.49 L509.63,215.81 L509.48,215.13 L509.33,214.46 L509.19,213.78 L509.02,213.10 L508.85,212.43 L508.70,211.75 L508.56,211.07 L508.48,210.40 L508.45,209.72 L508.47,209.04 L508.53,208.37 L508.62,207.69 L508.72,207.01 L508.84,206.34 L508.95,205.66 L509.08,204.98 L509.24,204.31 L509.42,203.63 L509.62,202.95 L509.84,202.28 L510.07,201.60 L510.30,200.92 L510.52,200.25 L510.74,199.57 L510.96,198.89 L511.19,198.22 L511.42,197.54 L511.66,196.86 L511.89,196.19 L512.11,195.51 L512.33,194.83 L512.54,194.16 L512.77,193.48 L513.00,192.80 L513.22,192.13 L513.44,191.45 L513.62,190.77 L513.78,190.10 L513.89,189.42 L513.95,188.74 L514.01,188.07 L514.05,187.39 L514.08,186.71 L514.12,186.04 L514.17,185.36 L514.20,184.68 L514.20,184.01 L514.20,183.33 L514.20,182.65 L514.20,181.98 L514.20,181.30Z" fill="#F3D680" stroke="#262626" stroke-width="1.3" stroke-linejoin="round"/>
<path d="M534.30,64.10 L534.30,64.77 L534.30,65.44 L534.30,66.11 L534.30,66.78 L534.30,67.45 L534.30,68.12 L534.30,68.79 L534.30,69.46 L534.30,70.13 L534.30,70.80 L534.30,71.47 L534.30,72.14 L534.30,72.80 L534.30,73.47 L534.30,74.14 L534.30,74.81 L534.30,75.48 L534.30,76.15 L534.30,76.82 L534.30,77.49 L534.30,78.16 L534.30,78.83 L534.30,79.50 L534.30,80.17 L534.30,80.84 L534.30,81.51 L534.30,82.18 L534.30,82.85 L534.30,83.52 L534.30,84.19 L534.30,84.86 L534.30,85.53 L534.30,86.20 L534.30,86.87 L534.30,87.54 L534.30,88.21 L534.30,88.88 L534.30,89.55 L534.30,90.21 L534.30,90.88 L534.30,91.55 L534.30,92.22 L534.30,92.89 L534.30,93.56 L534.30,94.23 L534.30,94.90 L534.30,95.57 L534.30,96.24 L534.30,96.91 L534.30,97.58 L534.30,98.25 L534.30,98.92 L534.30,99.59 L534.30,100.26 L534.30,100.93 L534.30,101.60 L534.30,102.27 L534.30,102.94 L534.30,103.61 L534.30,104.28 L534.30,104.95 L534.30,105.62 L534.30,106.29 L534.30,106.95 L534.30,107.62 L534.30,108.29 L534.30,108.96 L534.30,109.63 L534.30,110.30 L534.30,110.97 L534.30,111.64 L534.30,112.31 L534.30,112.98 L534.30,113.65 L534.30,114.32 L534.30,114.99 L534.30,115.66 L534.30,116.33 L534.30,117.00 L534.30,117.67 L534.30,118.34 L534.30,119.01 L534.30,119.68 L534.30,120.35 L534.30,121.02 L534.30,121.69 L534.30,122.36 L534.30,123.03 L534.30,123.70 L534.30,124.36 L534.30,125.03 L534.30,125.70 L534.30,126.37 L534.30,127.04 L534.30,127.71 L534.30,128.38 L534.30,129.05 L534.30,129.72 L534.30,130.39 L534.30,131.06 L534.30,131.73 L534.30,132.40 L534.31,133.07 L534.31,133.74 L534.32,134.41 L534.33,135.08 L534.33,135.75 L534.34,136.42 L534.35,137.09 L534.35,137.76 L534.36,138.43 L534.37,139.10 L534.37,139.77 L534.38,140.44 L534.39,141.10 L534.39,141.77 L534.40,142.44 L534.41,143.11 L534.42,143.78 L534.42,144.45 L534.43,145.12 L534.44,145.79 L534.45,146.46 L534.46,147.13 L534.47,147.80 L534.48,148.47 L534.49,149.14 L534.50,149.81 L534.51,150.48 L534.52,151.15 L534.53,151.82 L534.54,152.49 L534.55,153.16 L534.56,153.83 L534.58,154.50 L534.59,155.17 L534.60,155.84 L534.62,156.51 L534.63,157.18 L534.65,157.85 L534.67,158.51 L534.68,159.18 L534.70,159.85 L534.72,160.52 L534.73,161.19 L534.75,161.86 L534.77,162.53 L534.79,163.20 L534.82,163.87 L534.84,164.54 L534.86,165.21 L534.88,165.88 L534.91,166.55 L534.93,167.22 L534.96,167.89 L534.98,168.56 L535.01,169.23 L535.04,169.90 L535.08,170.57 L535.11,171.24 L535.16,171.91 L535.20,172.58 L535.25,173.25 L535.30,173.92 L535.35,174.59 L535.41,175.25 L535.46,175.92 L535.52,176.59 L535.58,177.26 L535.64,177.93 L535.69,178.60 L535.75,179.27 L535.81,179.94 L535.87,180.61 L535.92,181.28 L535.98,181.95 L536.04,182.62 L536.10,183.29 L536.16,183.96 L536.22,184.63 L536.28,185.30 L536.34,185.97 L536.40,186.64 L536.46,187.31 L536.53,187.98 L536.59,188.65 L536.66,189.32 L536.72,189.99 L536.78,190.66 L536.85,191.33 L536.91,192.00 L536.98,192.66 L537.04,193.33 L537.11,194.00 L537.17,194.67 L537.24,195.34 L537.31,196.01 L537.38,196.68 L537.44,197.35 L537.51,198.02 L537.58,198.69 L537.65,199.36 L537.72,200.03 L537.78,200.70 L537.85,201.37 L537.92,202.04 L537.98,202.71 L538.05,203.38 L538.11,204.05 L538.17,204.72 L538.24,205.39 L538.30,206.06 L538.36,206.73 L538.42,207.40 L538.48,208.07 L538.54,208.74 L538.60,209.40 L538.66,210.07 L538.71,210.74 L538.76,211.41 L538.81,212.08 L538.85,212.75 L538.90,213.42 L538.95,214.09 L539.00,214.76 L539.04,215.43 L539.09,216.10 L539.13,216.77 L539.17,217.44 L539.21,218.11 L539.24,218.78 L539.27,219.45 L539.28,220.12 L539.30,220.79 L539.30,221.46 L539.29,222.13 L539.25,222.80 L539.20,223.47 L539.14,224.14 L539.06,224.81 L538.97,225.48 L538.87,226.15 L538.77,226.81 L538.66,227.48 L538.54,228.15 L538.43,228.82 L538.32,229.49 L538.22,230.16 L538.12,230.83 L538.03,231.50 L537.94,232.17 L537.85,232.84 L537.75,233.51 L537.66,234.18 L537.56,234.85 L537.47,235.52 L537.37,236.19 L537.27,236.86 L537.17,237.53 L537.06,238.20 L536.96,238.87 L536.85,239.54 L536.75,240.21 L536.64,240.88 L536.53,241.55 L536.42,242.22 L536.30,242.89 L536.18,243.55 L536.06,244.22 L535.95,244.89 L535.82,245.56 L535.70,246.23 L535.58,246.90 L535.45,247.57 L535.33,248.24 L535.20,248.91 L535.08,249.58 L534.95,250.25 L534.80,250.92 L534.63,251.59 L534.48,252.26 L534.36,252.93 L534.30,253.60 L534.30,254.27 L534.30,254.94 L534.30,255.61 L534.30,256.28 L534.30,256.95 L534.30,257.62 L534.30,258.29 L534.30,258.96 L534.30,259.63 L534.30,260.30 L534.30,260.96 L534.30,261.63 L534.30,262.30 L534.30,262.97 L534.30,263.64 L534.30,264.31 L534.30,264.98 L534.30,265.65 L534.30,266.32 L534.30,266.99 L534.30,267.66 L534.30,268.33 L534.30,269.00 L534.30,269.00 L534.30,268.33 L534.30,267.66 L534.30,266.99 L534.30,266.32 L534.30,265.65 L534.30,264.98 L534.30,264.31 L534.30,263.64 L534.30,262.97 L534.30,262.30 L534.30,261.63 L534.30,260.96 L534.30,260.30 L534.30,259.63 L534.30,258.96 L534.30,258.29 L534.30,257.62 L534.30,256.95 L534.30,256.28 L534.30,255.61 L534.30,254.94 L534.30,254.27 L534.30,253.60 L534.24,252.93 L534.12,252.26 L533.97,251.59 L533.80,250.92 L533.65,250.25 L533.52,249.58 L533.40,248.91 L533.27,248.24 L533.15,247.57 L533.02,246.90 L532.90,246.23 L532.78,245.56 L532.65,244.89 L532.54,244.22 L532.42,243.55 L532.30,242.89 L532.18,242.22 L532.07,241.55 L531.96,240.88 L531.85,240.21 L531.75,239.54 L531.64,238.87 L531.54,238.20 L531.43,237.53 L531.33,236.86 L531.23,236.19 L531.13,235.52 L531.04,234.85 L530.94,234.18 L530.85,233.51 L530.75,232.84 L530.66,232.17 L530.57,231.50 L530.48,230.83 L530.38,230.16 L530.28,229.49 L530.17,228.82 L530.06,228.15 L529.94,227.48 L529.83,226.81 L529.73,226.15 L529.63,225.48 L529.54,224.81 L529.46,224.14 L529.40,223.47 L529.35,222.80 L529.31,222.13 L529.30,221.46 L529.30,220.79 L529.32,220.12 L529.33,219.45 L529.36,218.78 L529.39,218.11 L529.43,217.44 L529.47,216.77 L529.51,216.10 L529.56,215.43 L529.60,214.76 L529.65,214.09 L529.70,213.42 L529.75,212.75 L529.79,212.08 L529.84,211.41 L529.89,210.74 L529.94,210.07 L530.00,209.40 L530.06,208.74 L530.12,208.07 L530.18,207.40 L530.24,206.73 L530.30,206.06 L530.36,205.39 L530.43,204.72 L530.49,204.05 L530.55,203.38 L530.62,202.71 L530.68,202.04 L530.75,201.37 L530.82,200.70 L530.88,200.03 L530.95,199.36 L531.02,198.69 L531.09,198.02 L531.16,197.35 L531.22,196.68 L531.29,196.01 L531.36,195.34 L531.43,194.67 L531.49,194.00 L531.56,193.33 L531.62,192.66 L531.69,192.00 L531.75,191.33 L531.82,190.66 L531.88,189.99 L531.94,189.32 L532.01,188.65 L532.07,187.98 L532.14,187.31 L532.20,186.64 L532.26,185.97 L532.32,185.30 L532.38,184.63 L532.44,183.96 L532.50,183.29 L532.56,182.62 L532.62,181.95 L532.68,181.28 L532.73,180.61 L532.79,179.94 L532.85,179.27 L532.91,178.60 L532.96,177.93 L533.02,177.26 L533.08,176.59 L533.14,175.92 L533.19,175.25 L533.25,174.59 L533.30,173.92 L533.35,173.25 L533.40,172.58 L533.44,171.91 L533.49,171.24 L533.52,170.57 L533.56,169.90 L533.59,169.23 L533.62,168.56 L533.64,167.89 L533.67,167.22 L533.69,166.55 L533.72,165.88 L533.74,165.21 L533.76,164.54 L533.78,163.87 L533.81,163.20 L533.83,162.53 L533.85,161.86 L533.87,161.19 L533.88,160.52 L533.90,159.85 L533.92,159.18 L533.93,158.51 L533.95,157.85 L533.97,157.18 L533.98,156.51 L534.00,155.84 L534.01,155.17 L534.02,154.50 L534.04,153.83 L534.05,153.16 L534.06,152.49 L534.07,151.82 L534.08,151.15 L534.09,150.48 L534.10,149.81 L534.11,149.14 L534.12,148.47 L534.13,147.80 L534.14,147.13 L534.15,146.46 L534.16,145.79 L534.17,145.12 L534.18,144.45 L534.18,143.78 L534.19,143.11 L534.20,142.44 L534.21,141.77 L534.21,141.10 L534.22,140.44 L534.23,139.77 L534.23,139.10 L534.24,138.43 L534.25,137.76 L534.25,137.09 L534.26,136.42 L534.27,135.75 L534.27,135.08 L534.28,134.41 L534.29,133.74 L534.29,133.07 L534.30,132.40 L534.30,131.73 L534.30,131.06 L534.30,130.39 L534.30,129.72 L534.30,129.05 L534.30,128.38 L534.30,127.71 L534.30,127.04 L534.30,126.37 L534.30,125.70 L534.30,125.03 L534.30,124.36 L534.30,123.70 L534.30,123.03 L534.30,122.36 L534.30,121.69 L534.30,121.02 L534.30,120.35 L534.30,119.68 L534.30,119.01 L534.30,118.34 L534.30,117.67 L534.30,117.00 L534.30,116.33 L534.30,115.66 L534.30,114.99 L534.30,114.32 L534.30,113.65 L534.30,112.98 L534.30,112.31 L534.30,111.64 L534.30,110.97 L534.30,110.30 L534.30,109.63 L534.30,108.96 L534.30,108.29 L534.30,107.62 L534.30,106.95 L534.30,106.29 L534.30,105.62 L534.30,104.95 L534.30,104.28 L534.30,103.61 L534.30,102.94 L534.30,102.27 L534.30,101.60 L534.30,100.93 L534.30,100.26 L534.30,99.59 L534.30,98.92 L534.30,98.25 L534.30,97.58 L534.30,96.91 L534.30,96.24 L534.30,95.57 L534.30,94.90 L534.30,94.23 L534.30,93.56 L534.30,92.89 L534.30,92.22 L534.30,91.55 L534.30,90.88 L534.30,90.21 L534.30,89.55 L534.30,88.88 L534.30,88.21 L534.30,87.54 L534.30,86.87 L534.30,86.20 L534.30,85.53 L534.30,84.86 L534.30,84.19 L534.30,83.52 L534.30,82.85 L534.30,82.18 L534.30,81.51 L534.30,80.84 L534.30,80.17 L534.30,79.50 L534.30,78.83 L534.30,78.16 L534.30,77.49 L534.30,76.82 L534.30,76.15 L534.30,75.48 L534.30,74.81 L534.30,74.14 L534.30,73.47 L534.30,72.80 L534.30,72.14 L534.30,71.47 L534.30,70.80 L534.30,70.13 L534.30,69.46 L534.30,68.79 L534.30,68.12 L534.30,67.45 L534.30,66.78 L534.30,66.11 L534.30,65.44 L534.30,64.77 L534.30,64.10Z" fill="#B88EC6" stroke="#262626" stroke-width="1.3" stroke-linejoin="round"/>
<path d="M466.0 236.1h0M463.1 207.8h0M464.8 222.2h0M462.5 205.0h0M463.4 199.5h0M462.1 234.3h0M463.7 197.7h0M463.5 238.3h0M465.4 207.0h0M463.9 205.7h0M460.1 225.2h0M464.9 207.0h0" stroke="#D8BC6A" stroke-opacity="0.45" stroke-width="2.2" stroke-linecap="round" fill="none"/>
<path d="M513.4 200.4h0M513.8 224.2h0M513.7 230.5h0M515.3 199.0h0M515.1 203.0h0M514.4 216.0h0M514.6 223.7h0M513.4 201.8h0M514.9 200.8h0M513.0 214.0h0M510.2 209.7h0M518.1 207.6h0" stroke="#D8BC6A" stroke-opacity="0.45" stroke-width="2.2" stroke-linecap="round" fill="none"/>
<path d="M464.1,224.8L514.2,220.0M484.3,212.4L534.3,212.4" stroke="#262626" stroke-width="1.3" fill="none"/>
<circle cx="464.1" cy="224.8" r="4.2" fill="#EDAA00" stroke="#1A1A1A" stroke-width="1.2"/>
<path d="M464.1,221.3V228.3M461.8,221.3H466.40000000000003M461.8,228.3H466.40000000000003" stroke="#1A1A1A" stroke-width="1" fill="none"/>
<circle cx="484.3" cy="212.4" r="4.2" fill="#87369C" stroke="#1A1A1A" stroke-width="1.2"/>
<path d="M482.0,212.4H486.6" stroke="#1A1A1A" stroke-width="1.7" fill="none"/>
<circle cx="514.2" cy="220.0" r="4.2" fill="#EDAA00" stroke="#1A1A1A" stroke-width="1.2"/>
<path d="M514.2,216.5V223.5M511.90000000000003,216.5H516.5M511.90000000000003,223.5H516.5" stroke="#1A1A1A" stroke-width="1" fill="none"/>
<circle cx="534.3" cy="212.4" r="4.2" fill="#87369C" stroke="#1A1A1A" stroke-width="1.2"/>
<path d="M532.0,212.4H536.5999999999999" stroke="#1A1A1A" stroke-width="1.7" fill="none"/>
</g>
<rect x="444.0" y="32.6" width="110.29999999999995" height="258.4" fill="none" stroke="#333" stroke-width="1.2"/>
<path d="M444.0,53.4H554.3" stroke="#333" stroke-width="1.2"/>
<text x="499.15" y="47.6" font-size="10.2" text-anchor="middle" fill="#1a1a1a" >O:C</text>
<path d="M474.08,291.0v3.4" stroke="#333" stroke-width="1"/>
<text x="470.08" y="303.9" font-size="10" text-anchor="middle" fill="#2E2E2E" >Day 7</text>
<path d="M524.22,291.0v3.4" stroke="#333" stroke-width="1"/>
<text x="523.92" y="303.9" font-size="10" text-anchor="middle" fill="#2E2E2E" >Day 60</text>
<path d="M440.6,68.0H444.0" stroke="#333" stroke-width="1"/>
<text x="438.7" y="71.55" font-size="10" text-anchor="end" fill="#2E2E2E" >1.2</text>
<path d="M440.6,132.3H444.0" stroke="#333" stroke-width="1"/>
<text x="438.7" y="135.85000000000002" font-size="10" text-anchor="end" fill="#2E2E2E" >0.8</text>
<path d="M440.6,196.6H444.0" stroke="#333" stroke-width="1"/>
<text x="438.7" y="200.15" font-size="10" text-anchor="end" fill="#2E2E2E" >0.4</text>
<path d="M440.6,260.9H444.0" stroke="#333" stroke-width="1"/>
<text x="438.7" y="264.45" font-size="10" text-anchor="end" fill="#2E2E2E" >0.0</text>
<clipPath id="cp4"><rect x="572.8" y="53.4" width="109.80000000000007" height="237.6"/></clipPath>
<g clip-path="url(#cp4)">
<path d="M607.5,97H618.0999999999999V204H607.5Z" fill="#E0E0E0"/>
<path d="M613.3 112.1h0M608.4 119.2h0M609.2 186.6h0M615.8 111.5h0M609.9 123.1h0M609.9 197.9h0M610.9 186.0h0M611.0 157.5h0M616.9 133.3h0M609.7 194.1h0M609.3 174.5h0M608.7 129.0h0M615.0 166.3h0M615.4 176.9h0M609.7 139.2h0M612.2 97.5h0M612.3 196.9h0M616.8 162.9h0M615.1 189.3h0M610.2 160.4h0M612.0 177.1h0M610.1 172.6h0M609.6 197.7h0M616.5 181.6h0M616.3 113.3h0M613.8 165.9h0M611.2 124.2h0M612.2 122.2h0M615.0 166.3h0M611.3 172.5h0M615.3 133.0h0M610.1 201.2h0M610.7 141.2h0M608.2 201.3h0M615.4 192.5h0M614.5 132.5h0M614.1 136.6h0M616.8 142.5h0M615.8 146.0h0M611.6 158.7h0M609.9 200.4h0M617.4 194.2h0M613.9 187.9h0M616.9 163.6h0M615.9 143.3h0M616.2 179.9h0M614.3 144.2h0M608.7 106.9h0M615.1 108.5h0M616.7 135.0h0M609.7 105.5h0M612.0 186.5h0M615.5 120.6h0M617.3 122.1h0M616.2 126.4h0M617.0 148.3h0M616.9 128.7h0M612.3 129.4h0M613.3 164.7h0M614.7 168.8h0M608.1 125.7h0M613.8 174.4h0M612.8 157.3h0M610.9 196.3h0M609.6 194.6h0M617.0 171.3h0M615.4 113.5h0M608.6 126.2h0" stroke="#CFCFCF" stroke-opacity="0.55" stroke-width="2.2" stroke-linecap="round" fill="none"/>
<path d="M607.9 143.1h0M617.3 198.7h0M607.8 125.7h0M608.3 129.1h0M607.4 119.5h0M607.3 137.4h0M608.1 144.3h0M607.0 121.4h0M617.6 145.7h0M607.3 190.8h0M617.6 171.3h0M617.4 175.2h0M607.4 168.1h0M607.8 121.2h0M607.8 168.7h0M617.5 115.1h0M608.3 168.8h0M617.5 133.9h0M608.2 199.1h0M606.9 179.2h0M617.9 179.8h0M607.0 152.6h0M607.7 177.6h0M607.5 180.3h0M618.7 168.3h0M618.1 186.5h0M617.5 129.9h0M607.2 165.5h0M617.7 188.9h0M617.6 132.8h0M607.2 155.2h0M617.5 143.7h0M607.2 187.2h0M617.8 128.3h0M617.6 159.4h0M617.4 141.9h0M618.4 97.3h0M607.6 169.3h0M607.2 140.8h0M608.2 149.2h0M617.4 164.1h0M617.4 203.7h0M618.7 129.9h0M618.3 116.8h0M607.2 162.6h0M608.0 164.9h0M618.2 149.4h0M618.3 155.1h0M608.3 111.4h0M607.7 163.4h0M617.5 186.4h0M617.9 137.5h0M607.5 155.5h0M618.2 129.6h0M608.2 132.2h0M618.0 157.3h0M618.1 166.1h0M617.5 175.9h0M618.3 177.4h0M617.4 139.8h0M606.9 195.7h0M618.5 146.3h0M607.0 190.3h0M617.4 184.2h0M618.0 111.3h0M607.5 166.8h0M608.2 190.7h0M618.5 133.3h0M618.2 177.8h0M607.6 110.5h0M618.5 203.4h0M606.9 148.8h0M618.2 189.0h0M607.9 189.1h0M608.0 172.4h0M607.9 132.5h0M617.9 200.0h0M607.3 149.0h0M618.5 200.8h0M618.2 111.1h0M618.1 115.4h0M618.5 111.6h0M617.4 153.2h0M607.6 194.0h0M607.3 189.5h0M607.5 137.2h0M607.0 163.8h0M618.5 114.8h0M617.7 109.5h0M607.2 127.5h0M607.2 157.0h0M607.4 197.1h0M607.9 166.9h0M617.5 203.6h0M608.1 101.8h0M618.0 132.9h0M612.0 96.6h0M608.4 95.6h0M612.3 94.6h0M615.9 96.4h0M607.8 95.4h0M611.8 93.5h0M610.6 208.9h0M608.0 207.5h0M609.3 207.0h0M614.6 207.8h0M607.7 208.2h0M610.6 208.0h0M613.8 208.2h0M616.3 204.4h0M615.8 206.2h0M614.2 204.8h0M611.5 204.7h0M613.0 204.9h0M615.3 205.0h0M616.3 209.2h0" stroke="#E0E0E0" stroke-width="2.2" stroke-linecap="round" fill="none"/>
<path d="M657.7,101H668.3V204H657.7Z" fill="#E0E0E0"/>
<path d="M662.3 104.7h0M666.1 161.9h0M664.6 106.9h0M658.6 136.5h0M664.3 135.2h0M666.3 109.5h0M660.5 105.4h0M658.8 135.0h0M667.5 196.3h0M660.1 194.2h0M661.4 186.8h0M664.8 130.7h0M658.3 109.8h0M661.6 196.9h0M662.3 182.9h0M662.8 110.6h0M659.0 118.6h0M662.0 103.0h0M661.4 127.6h0M666.2 200.1h0M660.5 173.7h0M664.9 178.2h0M660.5 155.4h0M662.2 122.4h0M666.7 129.5h0M664.7 149.0h0M664.2 193.4h0M661.3 117.6h0M658.6 196.0h0M664.1 123.8h0M666.1 189.0h0M664.9 176.3h0M658.8 139.5h0M658.9 166.5h0M659.5 183.2h0M667.8 103.5h0M663.8 118.2h0M667.6 107.3h0M664.8 102.7h0M661.0 187.9h0M658.6 101.8h0M665.4 107.3h0M666.8 155.4h0M663.9 166.1h0M660.3 121.8h0M667.3 201.8h0M665.8 146.1h0M660.9 175.2h0M665.4 121.6h0M667.6 200.2h0M658.8 137.8h0M658.9 133.9h0M661.1 202.7h0M660.6 188.3h0M662.9 199.9h0M664.0 186.9h0M658.9 179.9h0M661.6 110.0h0M666.9 191.4h0M663.9 174.2h0M667.1 106.1h0M664.1 169.0h0M660.5 187.7h0M664.8 164.9h0M659.1 178.9h0" stroke="#CFCFCF" stroke-opacity="0.55" stroke-width="2.2" stroke-linecap="round" fill="none"/>
<path d="M657.6 176.0h0M668.8 118.5h0M657.3 111.5h0M658.0 161.6h0M658.3 183.8h0M668.6 124.9h0M668.2 184.5h0M658.0 174.4h0M668.8 107.5h0M658.2 176.2h0M667.9 188.0h0M667.7 128.7h0M658.1 142.7h0M657.4 191.0h0M657.6 151.8h0M668.7 199.0h0M657.4 166.3h0M668.7 179.0h0M658.2 136.0h0M657.2 196.0h0M658.3 146.5h0M657.6 201.5h0M657.8 200.2h0M668.7 178.1h0M657.8 188.0h0M657.8 198.3h0M668.7 183.6h0M667.5 108.0h0M668.0 110.3h0M657.1 199.8h0M668.2 114.9h0M668.0 187.7h0M668.2 180.6h0M658.1 135.3h0M668.2 132.0h0M657.5 155.1h0M668.4 186.2h0M668.3 127.4h0M658.0 146.2h0M657.7 124.6h0M668.1 107.8h0M667.9 101.7h0M658.4 201.0h0M668.5 160.5h0M667.8 114.9h0M657.3 156.9h0M658.3 125.7h0M658.4 164.3h0M657.4 155.2h0M667.5 170.0h0M668.2 145.5h0M658.3 116.6h0M667.6 199.0h0M667.6 186.3h0M657.2 135.9h0M668.5 149.2h0M658.1 140.4h0M667.7 122.2h0M668.8 166.0h0M668.6 116.1h0M667.7 198.2h0M667.6 116.8h0M658.3 135.4h0M667.6 147.2h0M657.4 170.9h0M658.2 164.1h0M668.2 172.9h0M658.1 158.3h0M668.7 144.0h0M668.3 188.4h0M657.1 190.9h0M657.2 105.6h0M657.4 182.5h0M658.3 199.6h0M657.6 167.9h0M657.6 107.3h0M668.7 103.8h0M657.1 132.6h0M657.2 149.5h0M657.7 117.0h0M657.7 198.1h0M668.2 122.9h0M658.1 131.1h0M658.4 121.8h0M657.7 178.3h0M657.6 138.8h0M657.4 160.8h0M657.2 159.9h0M668.7 161.3h0M668.0 173.8h0M668.5 151.1h0M657.4 167.6h0M659.1 100.7h0M665.5 98.4h0M658.0 100.7h0M661.3 99.7h0M658.7 100.8h0M657.8 100.2h0M658.0 208.3h0M665.6 206.7h0M664.1 205.3h0M659.7 206.2h0M659.7 209.5h0M666.3 204.2h0M664.2 205.7h0M666.4 205.0h0M666.2 207.6h0M660.6 205.4h0M659.5 207.2h0M668.0 205.8h0M659.5 204.8h0M660.7 208.6h0" stroke="#E0E0E0" stroke-width="2.2" stroke-linecap="round" fill="none"/>
<path d="M608.5 221.8h0M610.6 208.3h0M610.6 211.4h0M613.9 204.2h0M616.1 222.8h0M612.3 217.9h0M612.7 217.9h0M610.6 217.4h0M618.3 222.1h0M610.2 220.3h0M608.2 214.8h0M611.7 219.6h0M613.2 211.1h0M614.9 215.8h0M610.0 208.1h0M614.3 219.3h0M616.8 214.8h0M613.3 231.0h0M609.3 216.3h0M609.4 206.1h0M617.0 207.4h0M608.2 204.5h0M607.8 222.1h0M617.7 217.0h0M608.7 209.9h0M615.8 224.3h0M606.8 210.3h0M609.1 211.0h0M608.0 217.7h0M612.3 204.1h0M609.3 210.4h0M614.6 215.6h0M617.7 208.1h0M609.7 219.1h0" stroke="#D8D8D8" stroke-opacity="0.85" stroke-width="2.3" stroke-linecap="round" fill="none"/>
<path d="M660.7 215.0h0M661.5 206.8h0M663.0 215.7h0M661.2 211.5h0M665.8 231.2h0M667.3 223.8h0M660.1 219.1h0M667.9 212.1h0M662.8 215.5h0M658.3 214.7h0M668.0 217.9h0M660.1 204.9h0M657.2 205.2h0M657.3 208.6h0M662.0 214.4h0M668.3 214.2h0M657.2 216.2h0M666.0 224.0h0M657.7 223.2h0M668.7 220.7h0M658.8 214.0h0M661.5 209.7h0M669.0 211.7h0M663.4 208.9h0M663.1 204.0h0M667.2 213.8h0M665.6 204.6h0M661.8 215.9h0" stroke="#D8D8D8" stroke-opacity="0.85" stroke-width="2.3" stroke-linecap="round" fill="none"/>
<path d="M609.7 72.2h0M612.7 91.4h0M614.8 93.4h0M616.5 86.2h0M614.8 84.4h0M611.0 84.2h0M607.7 91.1h0M618.3 96.4h0M612.4 92.8h0M611.6 83.2h0M609.5 83.5h0M617.4 92.0h0" stroke="#D4D4D4" stroke-opacity="0.8" stroke-width="2.3" stroke-linecap="round" fill="none"/>
<path d="M667.2 88.0h0M667.3 82.6h0M665.0 100.3h0M665.7 100.0h0M662.7 93.0h0M658.5 76.6h0M659.2 96.5h0M658.9 92.8h0M668.5 94.6h0M657.5 91.1h0" stroke="#D4D4D4" stroke-opacity="0.8" stroke-width="2.3" stroke-linecap="round" fill="none"/>
<path d="M612.5 253.6h0M608.6 257.7h0M617.8 239.0h0M617.7 256.8h0M614.9 246.7h0M614.7 259.9h0M608.7 232.8h0M608.1 230.1h0M611.4 230.9h0M617.1 249.7h0" stroke="#D4D4D4" stroke-opacity="0.8" stroke-width="2.3" stroke-linecap="round" fill="none"/>
<path d="M658.9 243.1h0M668.0 259.1h0M657.3 261.3h0M664.6 248.9h0M659.3 247.1h0M663.4 259.5h0M661.2 231.2h0" stroke="#D4D4D4" stroke-opacity="0.8" stroke-width="2.3" stroke-linecap="round" fill="none"/>
<path d="M592.80,93.80 L592.80,94.48 L592.80,95.15 L592.80,95.83 L592.80,96.51 L592.82,97.18 L592.89,97.86 L592.95,98.54 L593.04,99.21 L593.17,99.89 L593.46,100.57 L593.82,101.24 L594.17,101.92 L594.56,102.60 L594.97,103.27 L595.40,103.95 L595.87,104.63 L596.40,105.30 L596.93,105.98 L597.41,106.66 L597.81,107.33 L598.17,108.01 L598.51,108.69 L598.83,109.36 L599.17,110.04 L599.51,110.72 L599.86,111.39 L600.24,112.07 L600.67,112.75 L601.12,113.42 L601.57,114.10 L602.06,114.78 L602.53,115.45 L602.85,116.13 L603.08,116.81 L603.29,117.48 L603.45,118.16 L603.56,118.84 L603.61,119.51 L603.64,120.19 L603.66,120.87 L603.67,121.54 L603.69,122.22 L603.70,122.90 L603.70,123.57 L603.67,124.25 L603.56,124.93 L603.39,125.60 L603.18,126.28 L602.96,126.96 L602.75,127.63 L602.57,128.31 L602.40,128.99 L602.21,129.66 L602.03,130.34 L601.84,131.02 L601.67,131.69 L601.51,132.37 L601.38,133.05 L601.27,133.72 L601.18,134.40 L601.10,135.08 L601.03,135.75 L600.97,136.43 L600.90,137.11 L600.84,137.78 L600.76,138.46 L600.67,139.14 L600.57,139.81 L600.46,140.49 L600.35,141.17 L600.23,141.84 L600.10,142.52 L599.96,143.20 L599.82,143.87 L599.66,144.55 L599.49,145.23 L599.30,145.90 L599.10,146.58 L598.88,147.26 L598.65,147.93 L598.42,148.61 L598.18,149.29 L597.94,149.96 L597.69,150.64 L597.41,151.32 L597.13,151.99 L596.84,152.67 L596.55,153.35 L596.27,154.02 L596.01,154.70 L595.77,155.38 L595.56,156.05 L595.35,156.73 L595.16,157.41 L594.97,158.08 L594.78,158.76 L594.59,159.44 L594.40,160.11 L594.20,160.79 L593.98,161.47 L593.74,162.14 L593.51,162.82 L593.31,163.50 L593.17,164.17 L593.06,164.85 L592.96,165.53 L592.88,166.20 L592.81,166.88 L592.80,167.56 L592.80,168.23 L592.80,168.91 L592.80,169.59 L592.80,170.26 L592.80,170.94 L592.80,171.62 L592.80,172.29 L592.80,172.97 L592.80,173.65 L592.80,174.32 L592.80,175.00 L592.80,175.00 L592.80,174.32 L592.80,173.65 L592.80,172.97 L592.80,172.29 L592.80,171.62 L592.80,170.94 L592.80,170.26 L592.80,169.59 L592.80,168.91 L592.80,168.23 L592.80,167.56 L592.79,166.88 L592.72,166.20 L592.64,165.53 L592.54,164.85 L592.43,164.17 L592.29,163.50 L592.09,162.82 L591.86,162.14 L591.62,161.47 L591.40,160.79 L591.20,160.11 L591.01,159.44 L590.82,158.76 L590.63,158.08 L590.44,157.41 L590.25,156.73 L590.04,156.05 L589.83,155.38 L589.59,154.70 L589.33,154.02 L589.05,153.35 L588.76,152.67 L588.47,151.99 L588.19,151.32 L587.91,150.64 L587.66,149.96 L587.42,149.29 L587.18,148.61 L586.95,147.93 L586.72,147.26 L586.50,146.58 L586.30,145.90 L586.11,145.23 L585.94,144.55 L585.78,143.87 L585.64,143.20 L585.50,142.52 L585.37,141.84 L585.25,141.17 L585.14,140.49 L585.03,139.81 L584.93,139.14 L584.84,138.46 L584.76,137.78 L584.70,137.11 L584.63,136.43 L584.57,135.75 L584.50,135.08 L584.42,134.40 L584.33,133.72 L584.22,133.05 L584.09,132.37 L583.93,131.69 L583.76,131.02 L583.57,130.34 L583.39,129.66 L583.20,128.99 L583.03,128.31 L582.85,127.63 L582.64,126.96 L582.42,126.28 L582.21,125.60 L582.04,124.93 L581.93,124.25 L581.90,123.57 L581.90,122.90 L581.91,122.22 L581.93,121.54 L581.94,120.87 L581.96,120.19 L581.99,119.51 L582.04,118.84 L582.15,118.16 L582.31,117.48 L582.52,116.81 L582.75,116.13 L583.07,115.45 L583.54,114.78 L584.03,114.10 L584.48,113.42 L584.93,112.75 L585.36,112.07 L585.74,111.39 L586.09,110.72 L586.43,110.04 L586.77,109.36 L587.09,108.69 L587.43,108.01 L587.79,107.33 L588.19,106.66 L588.67,105.98 L589.20,105.30 L589.73,104.63 L590.20,103.95 L590.63,103.27 L591.04,102.60 L591.43,101.92 L591.78,101.24 L592.14,100.57 L592.43,99.89 L592.56,99.21 L592.65,98.54 L592.71,97.86 L592.78,97.18 L592.80,96.51 L592.80,95.83 L592.80,95.15 L592.80,94.48 L592.80,93.80Z" fill="#F3D680" stroke="#262626" stroke-width="1.3" stroke-linejoin="round"/>
<path d="M612.90,63.60 L612.90,64.27 L612.90,64.94 L612.90,65.61 L612.90,66.28 L612.90,66.95 L612.90,67.62 L612.90,68.29 L612.90,68.96 L612.90,69.64 L612.90,70.31 L612.90,70.98 L612.90,71.65 L612.90,72.32 L612.90,72.99 L612.90,73.66 L612.90,74.33 L612.90,75.00 L612.90,75.67 L612.90,76.34 L612.90,77.01 L612.90,77.68 L612.90,78.35 L612.90,79.02 L612.90,79.69 L612.90,80.36 L612.90,81.04 L612.90,81.71 L612.90,82.38 L612.90,83.05 L612.90,83.72 L612.90,84.39 L612.90,85.06 L612.91,85.73 L612.92,86.40 L612.93,87.07 L612.93,87.74 L612.94,88.41 L612.95,89.08 L612.95,89.75 L612.95,90.42 L612.96,91.09 L612.96,91.76 L612.97,92.44 L612.97,93.11 L612.98,93.78 L612.99,94.45 L613.00,95.12 L613.01,95.79 L613.02,96.46 L613.03,97.13 L613.05,97.80 L613.06,98.47 L613.08,99.14 L613.12,99.81 L613.32,100.48 L613.60,101.15 L613.85,101.82 L614.11,102.49 L614.37,103.16 L614.64,103.84 L614.91,104.51 L615.19,105.18 L615.48,105.85 L615.77,106.52 L616.09,107.19 L616.41,107.86 L616.73,108.53 L617.04,109.20 L617.33,109.87 L617.59,110.54 L617.85,111.21 L618.11,111.88 L618.36,112.55 L618.59,113.22 L618.79,113.89 L618.95,114.56 L619.08,115.24 L619.19,115.91 L619.28,116.58 L619.36,117.25 L619.44,117.92 L619.52,118.59 L619.59,119.26 L619.68,119.93 L619.77,120.60 L619.87,121.27 L619.95,121.94 L620.03,122.61 L620.08,123.28 L620.11,123.95 L620.13,124.62 L620.15,125.29 L620.17,125.96 L620.19,126.64 L620.20,127.31 L620.20,127.98 L620.20,128.65 L620.20,129.32 L620.20,129.99 L620.20,130.66 L620.20,131.33 L620.20,132.00 L620.20,132.67 L620.20,133.34 L620.20,134.01 L620.20,134.68 L620.20,135.35 L620.20,136.02 L620.20,136.69 L620.20,137.36 L620.20,138.04 L620.20,138.71 L620.20,139.38 L620.19,140.05 L620.16,140.72 L620.13,141.39 L620.09,142.06 L620.05,142.73 L619.99,143.40 L619.93,144.07 L619.86,144.74 L619.79,145.41 L619.71,146.08 L619.63,146.75 L619.54,147.42 L619.43,148.09 L619.27,148.76 L619.05,149.44 L618.80,150.11 L618.52,150.78 L618.24,151.45 L617.96,152.12 L617.71,152.79 L617.48,153.46 L617.26,154.13 L617.04,154.80 L616.83,155.47 L616.62,156.14 L616.41,156.81 L616.21,157.48 L616.02,158.15 L615.84,158.82 L615.66,159.49 L615.49,160.16 L615.33,160.84 L615.17,161.51 L615.01,162.18 L614.86,162.85 L614.71,163.52 L614.56,164.19 L614.40,164.86 L614.24,165.53 L614.08,166.20 L613.93,166.87 L613.79,167.54 L613.67,168.21 L613.57,168.88 L613.50,169.55 L613.44,170.22 L613.39,170.89 L613.35,171.56 L613.30,172.24 L613.27,172.91 L613.24,173.58 L613.22,174.25 L613.20,174.92 L613.19,175.59 L613.18,176.26 L613.17,176.93 L613.16,177.60 L613.15,178.27 L613.14,178.94 L613.13,179.61 L613.12,180.28 L613.12,180.95 L613.11,181.62 L613.10,182.29 L613.10,182.96 L613.09,183.64 L613.09,184.31 L613.08,184.98 L613.08,185.65 L613.07,186.32 L613.07,186.99 L613.07,187.66 L613.06,188.33 L613.06,189.00 L613.05,189.67 L613.05,190.34 L613.04,191.01 L613.04,191.68 L613.03,192.35 L613.03,193.02 L613.03,193.69 L613.02,194.36 L613.02,195.04 L613.01,195.71 L613.01,196.38 L613.01,197.05 L613.00,197.72 L613.00,198.39 L612.99,199.06 L612.99,199.73 L612.99,200.40 L612.98,201.07 L612.98,201.74 L612.98,202.41 L612.97,203.08 L612.97,203.75 L612.97,204.42 L612.96,205.09 L612.96,205.76 L612.96,206.44 L612.95,207.11 L612.95,207.78 L612.95,208.45 L612.95,209.12 L612.94,209.79 L612.94,210.46 L612.94,211.13 L612.93,211.80 L612.93,212.47 L612.93,213.14 L612.93,213.81 L612.92,214.48 L612.92,215.15 L612.92,215.82 L612.91,216.49 L612.91,217.16 L612.91,217.84 L612.91,218.51 L612.90,219.18 L612.90,219.85 L612.90,220.52 L612.90,221.19 L612.90,221.86 L612.90,222.53 L612.90,223.20 L612.90,223.87 L612.90,224.54 L612.90,225.21 L612.90,225.88 L612.90,226.55 L612.90,227.22 L612.90,227.89 L612.90,228.56 L612.90,229.24 L612.90,229.91 L612.90,230.58 L612.90,231.25 L612.90,231.92 L612.90,232.59 L612.90,233.26 L612.90,233.93 L612.90,234.60 L612.90,235.27 L612.90,235.94 L612.90,236.61 L612.90,237.28 L612.90,237.95 L612.90,238.62 L612.90,239.29 L612.90,239.96 L612.90,240.64 L612.90,241.31 L612.90,241.98 L612.90,242.65 L612.90,243.32 L612.90,243.99 L612.90,244.66 L612.90,245.33 L612.90,246.00 L612.90,246.67 L612.90,247.34 L612.90,248.01 L612.90,248.68 L612.90,249.35 L612.90,250.02 L612.90,250.69 L612.90,251.36 L612.90,252.04 L612.90,252.71 L612.90,253.38 L612.90,254.05 L612.90,254.72 L612.90,255.39 L612.90,256.06 L612.90,256.73 L612.90,257.40 L612.90,258.07 L612.90,258.74 L612.90,259.41 L612.90,260.08 L612.90,260.75 L612.90,261.42 L612.90,262.09 L612.90,262.76 L612.90,263.44 L612.90,264.11 L612.90,264.78 L612.90,265.45 L612.90,266.12 L612.90,266.79 L612.90,267.46 L612.90,268.13 L612.90,268.80 L612.90,268.80 L612.90,268.13 L612.90,267.46 L612.90,266.79 L612.90,266.12 L612.90,265.45 L612.90,264.78 L612.90,264.11 L612.90,263.44 L612.90,262.76 L612.90,262.09 L612.90,261.42 L612.90,260.75 L612.90,260.08 L612.90,259.41 L612.90,258.74 L612.90,258.07 L612.90,257.40 L612.90,256.73 L612.90,256.06 L612.90,255.39 L612.90,254.72 L612.90,254.05 L612.90,253.38 L612.90,252.71 L612.90,252.04 L612.90,251.36 L612.90,250.69 L612.90,250.02 L612.90,249.35 L612.90,248.68 L612.90,248.01 L612.90,247.34 L612.90,246.67 L612.90,246.00 L612.90,245.33 L612.90,244.66 L612.90,243.99 L612.90,243.32 L612.90,242.65 L612.90,241.98 L612.90,241.31 L612.90,240.64 L612.90,239.96 L612.90,239.29 L612.90,238.62 L612.90,237.95 L612.90,237.28 L612.90,236.61 L612.90,235.94 L612.90,235.27 L612.90,234.60 L612.90,233.93 L612.90,233.26 L612.90,232.59 L612.90,231.92 L612.90,231.25 L612.90,230.58 L612.90,229.91 L612.90,229.24 L612.90,228.56 L612.90,227.89 L612.90,227.22 L612.90,226.55 L612.90,225.88 L612.90,225.21 L612.90,224.54 L612.90,223.87 L612.90,223.20 L612.90,222.53 L612.90,221.86 L612.90,221.19 L612.90,220.52 L612.90,219.85 L612.90,219.18 L612.89,218.51 L612.89,217.84 L612.89,217.16 L612.89,216.49 L612.88,215.82 L612.88,215.15 L612.88,214.48 L612.87,213.81 L612.87,213.14 L612.87,212.47 L612.87,211.80 L612.86,211.13 L612.86,210.46 L612.86,209.79 L612.85,209.12 L612.85,208.45 L612.85,207.78 L612.85,207.11 L612.84,206.44 L612.84,205.76 L612.84,205.09 L612.83,204.42 L612.83,203.75 L612.83,203.08 L612.82,202.41 L612.82,201.74 L612.82,201.07 L612.81,200.40 L612.81,199.73 L612.81,199.06 L612.80,198.39 L612.80,197.72 L612.79,197.05 L612.79,196.38 L612.79,195.71 L612.78,195.04 L612.78,194.36 L612.77,193.69 L612.77,193.02 L612.77,192.35 L612.76,191.68 L612.76,191.01 L612.75,190.34 L612.75,189.67 L612.74,189.00 L612.74,188.33 L612.73,187.66 L612.73,186.99 L612.73,186.32 L612.72,185.65 L612.72,184.98 L612.71,184.31 L612.71,183.64 L612.70,182.96 L612.70,182.29 L612.69,181.62 L612.68,180.95 L612.68,180.28 L612.67,179.61 L612.66,178.94 L612.65,178.27 L612.64,177.60 L612.63,176.93 L612.62,176.26 L612.61,175.59 L612.60,174.92 L612.58,174.25 L612.56,173.58 L612.53,172.91 L612.50,172.24 L612.45,171.56 L612.41,170.89 L612.36,170.22 L612.30,169.55 L612.23,168.88 L612.13,168.21 L612.01,167.54 L611.87,166.87 L611.72,166.20 L611.56,165.53 L611.40,164.86 L611.24,164.19 L611.09,163.52 L610.94,162.85 L610.79,162.18 L610.63,161.51 L610.47,160.84 L610.31,160.16 L610.14,159.49 L609.96,158.82 L609.78,158.15 L609.59,157.48 L609.39,156.81 L609.18,156.14 L608.97,155.47 L608.76,154.80 L608.54,154.13 L608.32,153.46 L608.09,152.79 L607.84,152.12 L607.56,151.45 L607.28,150.78 L607.00,150.11 L606.75,149.44 L606.53,148.76 L606.37,148.09 L606.26,147.42 L606.17,146.75 L606.09,146.08 L606.01,145.41 L605.94,144.74 L605.87,144.07 L605.81,143.40 L605.75,142.73 L605.71,142.06 L605.67,141.39 L605.64,140.72 L605.61,140.05 L605.60,139.38 L605.60,138.71 L605.60,138.04 L605.60,137.36 L605.60,136.69 L605.60,136.02 L605.60,135.35 L605.60,134.68 L605.60,134.01 L605.60,133.34 L605.60,132.67 L605.60,132.00 L605.60,131.33 L605.60,130.66 L605.60,129.99 L605.60,129.32 L605.60,128.65 L605.60,127.98 L605.60,127.31 L605.61,126.64 L605.63,125.96 L605.65,125.29 L605.67,124.62 L605.69,123.95 L605.72,123.28 L605.77,122.61 L605.85,121.94 L605.93,121.27 L606.03,120.60 L606.12,119.93 L606.21,119.26 L606.28,118.59 L606.36,117.92 L606.44,117.25 L606.52,116.58 L606.61,115.91 L606.72,115.24 L606.85,114.56 L607.01,113.89 L607.21,113.22 L607.44,112.55 L607.69,111.88 L607.95,111.21 L608.21,110.54 L608.47,109.87 L608.76,109.20 L609.07,108.53 L609.39,107.86 L609.71,107.19 L610.03,106.52 L610.32,105.85 L610.61,105.18 L610.89,104.51 L611.16,103.84 L611.43,103.16 L611.69,102.49 L611.95,101.82 L612.20,101.15 L612.48,100.48 L612.68,99.81 L612.72,99.14 L612.74,98.47 L612.75,97.80 L612.77,97.13 L612.78,96.46 L612.79,95.79 L612.80,95.12 L612.81,94.45 L612.82,93.78 L612.83,93.11 L612.83,92.44 L612.84,91.76 L612.84,91.09 L612.85,90.42 L612.85,89.75 L612.85,89.08 L612.86,88.41 L612.87,87.74 L612.87,87.07 L612.88,86.40 L612.89,85.73 L612.90,85.06 L612.90,84.39 L612.90,83.72 L612.90,83.05 L612.90,82.38 L612.90,81.71 L612.90,81.04 L612.90,80.36 L612.90,79.69 L612.90,79.02 L612.90,78.35 L612.90,77.68 L612.90,77.01 L612.90,76.34 L612.90,75.67 L612.90,75.00 L612.90,74.33 L612.90,73.66 L612.90,72.99 L612.90,72.32 L612.90,71.65 L612.90,70.98 L612.90,70.31 L612.90,69.64 L612.90,68.96 L612.90,68.29 L612.90,67.62 L612.90,66.95 L612.90,66.28 L612.90,65.61 L612.90,64.94 L612.90,64.27 L612.90,63.60Z" fill="#B88EC6" stroke="#262626" stroke-width="1.3" stroke-linejoin="round"/>
<path d="M642.90,95.60 L642.90,96.28 L642.90,96.95 L642.90,97.63 L642.90,98.31 L642.90,98.99 L642.94,99.66 L642.98,100.34 L643.00,101.02 L643.02,101.69 L643.04,102.37 L643.07,103.05 L643.10,103.73 L643.15,104.40 L643.21,105.08 L643.40,105.76 L643.74,106.44 L644.13,107.11 L644.50,107.79 L644.88,108.47 L645.29,109.14 L645.72,109.82 L646.16,110.50 L646.58,111.18 L647.02,111.85 L647.46,112.53 L647.90,113.21 L648.34,113.88 L648.76,114.56 L649.16,115.24 L649.56,115.92 L649.95,116.59 L650.34,117.27 L650.69,117.95 L651.02,118.62 L651.30,119.30 L651.56,119.98 L651.82,120.66 L652.06,121.33 L652.27,122.01 L652.45,122.69 L652.57,123.36 L652.63,124.04 L652.67,124.72 L652.71,125.40 L652.75,126.07 L652.78,126.75 L652.79,127.43 L652.80,128.11 L652.80,128.78 L652.80,129.46 L652.80,130.14 L652.80,130.81 L652.80,131.49 L652.80,132.17 L652.80,132.85 L652.80,133.52 L652.81,134.20 L652.83,134.88 L652.86,135.55 L652.90,136.23 L652.94,136.91 L652.97,137.59 L652.99,138.26 L653.00,138.94 L653.00,139.62 L652.98,140.29 L652.97,140.97 L652.94,141.65 L652.92,142.33 L652.88,143.00 L652.84,143.68 L652.80,144.36 L652.74,145.04 L652.63,145.71 L652.48,146.39 L652.31,147.07 L652.10,147.74 L651.88,148.42 L651.65,149.10 L651.41,149.78 L651.14,150.45 L650.82,151.13 L650.45,151.81 L650.06,152.48 L649.64,153.16 L649.22,153.84 L648.80,154.52 L648.32,155.19 L647.81,155.87 L647.29,156.55 L646.79,157.22 L646.32,157.90 L645.91,158.58 L645.56,159.26 L645.25,159.93 L644.96,160.61 L644.68,161.29 L644.41,161.96 L644.14,162.64 L643.86,163.32 L643.56,164.00 L643.30,164.67 L643.16,165.35 L643.08,166.03 L643.01,166.71 L642.96,167.38 L642.90,168.06 L642.90,168.74 L642.90,169.41 L642.90,170.09 L642.90,170.77 L642.90,171.45 L642.90,172.12 L642.90,172.80 L642.90,172.80 L642.90,172.12 L642.90,171.45 L642.90,170.77 L642.90,170.09 L642.90,169.41 L642.90,168.74 L642.90,168.06 L642.84,167.38 L642.79,166.71 L642.72,166.03 L642.64,165.35 L642.50,164.67 L642.24,164.00 L641.94,163.32 L641.66,162.64 L641.39,161.96 L641.12,161.29 L640.84,160.61 L640.55,159.93 L640.24,159.26 L639.89,158.58 L639.48,157.90 L639.01,157.22 L638.51,156.55 L637.99,155.87 L637.48,155.19 L637.00,154.52 L636.58,153.84 L636.16,153.16 L635.74,152.48 L635.35,151.81 L634.98,151.13 L634.66,150.45 L634.39,149.78 L634.15,149.10 L633.92,148.42 L633.70,147.74 L633.49,147.07 L633.32,146.39 L633.17,145.71 L633.06,145.04 L633.00,144.36 L632.96,143.68 L632.92,143.00 L632.88,142.33 L632.86,141.65 L632.83,140.97 L632.82,140.29 L632.80,139.62 L632.80,138.94 L632.81,138.26 L632.83,137.59 L632.86,136.91 L632.90,136.23 L632.94,135.55 L632.97,134.88 L632.99,134.20 L633.00,133.52 L633.00,132.85 L633.00,132.17 L633.00,131.49 L633.00,130.81 L633.00,130.14 L633.00,129.46 L633.00,128.78 L633.00,128.11 L633.01,127.43 L633.02,126.75 L633.05,126.07 L633.09,125.40 L633.13,124.72 L633.17,124.04 L633.23,123.36 L633.35,122.69 L633.53,122.01 L633.74,121.33 L633.98,120.66 L634.24,119.98 L634.50,119.30 L634.78,118.62 L635.11,117.95 L635.46,117.27 L635.85,116.59 L636.24,115.92 L636.64,115.24 L637.04,114.56 L637.46,113.88 L637.90,113.21 L638.34,112.53 L638.78,111.85 L639.22,111.18 L639.64,110.50 L640.08,109.82 L640.51,109.14 L640.92,108.47 L641.30,107.79 L641.67,107.11 L642.06,106.44 L642.40,105.76 L642.59,105.08 L642.65,104.40 L642.70,103.73 L642.73,103.05 L642.76,102.37 L642.78,101.69 L642.80,101.02 L642.82,100.34 L642.86,99.66 L642.90,98.99 L642.90,98.31 L642.90,97.63 L642.90,96.95 L642.90,96.28 L642.90,95.60Z" fill="#F3D680" stroke="#262626" stroke-width="1.3" stroke-linejoin="round"/>
<path d="M663.00,68.40 L663.00,69.07 L663.00,69.74 L663.00,70.41 L663.00,71.08 L663.00,71.75 L663.00,72.42 L663.00,73.09 L663.00,73.76 L663.00,74.43 L663.00,75.10 L663.00,75.77 L663.00,76.44 L663.00,77.11 L663.00,77.78 L663.00,78.45 L663.00,79.12 L663.00,79.79 L663.00,80.46 L663.00,81.13 L663.00,81.80 L663.00,82.47 L663.00,83.15 L663.00,83.82 L663.00,84.49 L663.00,85.16 L663.02,85.83 L663.03,86.50 L663.04,87.17 L663.05,87.84 L663.06,88.51 L663.06,89.18 L663.07,89.85 L663.08,90.52 L663.08,91.19 L663.09,91.86 L663.09,92.53 L663.10,93.20 L663.10,93.87 L663.11,94.54 L663.11,95.21 L663.12,95.88 L663.13,96.55 L663.14,97.22 L663.15,97.89 L663.16,98.56 L663.17,99.23 L663.18,99.90 L663.20,100.57 L663.21,101.24 L663.23,101.91 L663.25,102.58 L663.27,103.25 L663.30,103.92 L663.37,104.59 L663.54,105.26 L663.78,105.93 L664.03,106.60 L664.28,107.27 L664.59,107.94 L664.92,108.61 L665.27,109.28 L665.62,109.95 L665.96,110.62 L666.31,111.29 L666.67,111.97 L667.02,112.64 L667.37,113.31 L667.71,113.98 L668.03,114.65 L668.33,115.32 L668.64,115.99 L668.93,116.66 L669.22,117.33 L669.48,118.00 L669.71,118.67 L669.91,119.34 L670.08,120.01 L670.24,120.68 L670.38,121.35 L670.51,122.02 L670.63,122.69 L670.74,123.36 L670.85,124.03 L670.97,124.70 L671.09,125.37 L671.21,126.04 L671.30,126.71 L671.37,127.38 L671.40,128.05 L671.40,128.72 L671.39,129.39 L671.38,130.06 L671.36,130.73 L671.35,131.40 L671.33,132.07 L671.31,132.74 L671.29,133.41 L671.26,134.08 L671.24,134.75 L671.21,135.42 L671.18,136.09 L671.14,136.76 L671.10,137.43 L671.06,138.10 L671.01,138.77 L670.96,139.44 L670.90,140.12 L670.83,140.79 L670.75,141.46 L670.66,142.13 L670.57,142.80 L670.46,143.47 L670.36,144.14 L670.24,144.81 L670.12,145.48 L669.99,146.15 L669.85,146.82 L669.69,147.49 L669.50,148.16 L669.28,148.83 L669.05,149.50 L668.81,150.17 L668.58,150.84 L668.35,151.51 L668.15,152.18 L667.95,152.85 L667.75,153.52 L667.55,154.19 L667.36,154.86 L667.17,155.53 L666.98,156.20 L666.78,156.87 L666.59,157.54 L666.39,158.21 L666.18,158.88 L665.97,159.55 L665.76,160.22 L665.55,160.89 L665.36,161.56 L665.18,162.23 L665.02,162.90 L664.88,163.57 L664.74,164.24 L664.61,164.91 L664.49,165.58 L664.37,166.25 L664.26,166.92 L664.15,167.59 L664.06,168.26 L663.97,168.94 L663.89,169.61 L663.81,170.28 L663.73,170.95 L663.66,171.62 L663.59,172.29 L663.53,172.96 L663.47,173.63 L663.43,174.30 L663.40,174.97 L663.38,175.64 L663.36,176.31 L663.34,176.98 L663.33,177.65 L663.31,178.32 L663.29,178.99 L663.28,179.66 L663.27,180.33 L663.26,181.00 L663.24,181.67 L663.23,182.34 L663.22,183.01 L663.21,183.68 L663.21,184.35 L663.20,185.02 L663.19,185.69 L663.18,186.36 L663.18,187.03 L663.17,187.70 L663.16,188.37 L663.16,189.04 L663.15,189.71 L663.15,190.38 L663.14,191.05 L663.14,191.72 L663.13,192.39 L663.13,193.06 L663.12,193.73 L663.12,194.40 L663.11,195.07 L663.11,195.74 L663.10,196.41 L663.10,197.08 L663.10,197.76 L663.09,198.43 L663.09,199.10 L663.08,199.77 L663.08,200.44 L663.08,201.11 L663.07,201.78 L663.07,202.45 L663.07,203.12 L663.06,203.79 L663.06,204.46 L663.06,205.13 L663.06,205.80 L663.05,206.47 L663.05,207.14 L663.05,207.81 L663.04,208.48 L663.04,209.15 L663.04,209.82 L663.04,210.49 L663.03,211.16 L663.03,211.83 L663.03,212.50 L663.03,213.17 L663.02,213.84 L663.02,214.51 L663.02,215.18 L663.02,215.85 L663.01,216.52 L663.01,217.19 L663.01,217.86 L663.01,218.53 L663.00,219.20 L663.00,219.87 L663.00,220.54 L663.00,221.21 L663.00,221.88 L663.00,222.55 L663.00,223.22 L663.00,223.89 L663.00,224.56 L663.00,225.23 L663.00,225.91 L663.00,226.58 L663.00,227.25 L663.00,227.92 L663.00,228.59 L663.00,229.26 L663.00,229.93 L663.00,230.60 L663.00,231.27 L663.00,231.94 L663.00,232.61 L663.00,233.28 L663.00,233.95 L663.00,234.62 L663.00,235.29 L663.00,235.96 L663.00,236.63 L663.00,237.30 L663.00,237.97 L663.00,238.64 L663.00,239.31 L663.00,239.98 L663.00,240.65 L663.00,241.32 L663.00,241.99 L663.00,242.66 L663.00,243.33 L663.00,244.00 L663.00,244.67 L663.00,245.34 L663.00,246.01 L663.00,246.68 L663.00,247.35 L663.00,248.02 L663.00,248.69 L663.00,249.36 L663.00,250.03 L663.00,250.70 L663.00,251.37 L663.00,252.04 L663.00,252.71 L663.00,253.38 L663.00,254.05 L663.00,254.73 L663.00,255.40 L663.00,256.07 L663.00,256.74 L663.00,257.41 L663.00,258.08 L663.00,258.75 L663.00,259.42 L663.00,260.09 L663.00,260.76 L663.00,261.43 L663.00,262.10 L663.00,262.77 L663.00,263.44 L663.00,264.11 L663.00,264.78 L663.00,265.45 L663.00,266.12 L663.00,266.79 L663.00,267.46 L663.00,268.13 L663.00,268.80 L663.00,268.80 L663.00,268.13 L663.00,267.46 L663.00,266.79 L663.00,266.12 L663.00,265.45 L663.00,264.78 L663.00,264.11 L663.00,263.44 L663.00,262.77 L663.00,262.10 L663.00,261.43 L663.00,260.76 L663.00,260.09 L663.00,259.42 L663.00,258.75 L663.00,258.08 L663.00,257.41 L663.00,256.74 L663.00,256.07 L663.00,255.40 L663.00,254.73 L663.00,254.05 L663.00,253.38 L663.00,252.71 L663.00,252.04 L663.00,251.37 L663.00,250.70 L663.00,250.03 L663.00,249.36 L663.00,248.69 L663.00,248.02 L663.00,247.35 L663.00,246.68 L663.00,246.01 L663.00,245.34 L663.00,244.67 L663.00,244.00 L663.00,243.33 L663.00,242.66 L663.00,241.99 L663.00,241.32 L663.00,240.65 L663.00,239.98 L663.00,239.31 L663.00,238.64 L663.00,237.97 L663.00,237.30 L663.00,236.63 L663.00,235.96 L663.00,235.29 L663.00,234.62 L663.00,233.95 L663.00,233.28 L663.00,232.61 L663.00,231.94 L663.00,231.27 L663.00,230.60 L663.00,229.93 L663.00,229.26 L663.00,228.59 L663.00,227.92 L663.00,227.25 L663.00,226.58 L663.00,225.91 L663.00,225.23 L663.00,224.56 L663.00,223.89 L663.00,223.22 L663.00,222.55 L663.00,221.88 L663.00,221.21 L663.00,220.54 L663.00,219.87 L663.00,219.20 L662.99,218.53 L662.99,217.86 L662.99,217.19 L662.99,216.52 L662.98,215.85 L662.98,215.18 L662.98,214.51 L662.98,213.84 L662.97,213.17 L662.97,212.50 L662.97,211.83 L662.97,211.16 L662.96,210.49 L662.96,209.82 L662.96,209.15 L662.96,208.48 L662.95,207.81 L662.95,207.14 L662.95,206.47 L662.94,205.80 L662.94,205.13 L662.94,204.46 L662.94,203.79 L662.93,203.12 L662.93,202.45 L662.93,201.78 L662.92,201.11 L662.92,200.44 L662.92,199.77 L662.91,199.10 L662.91,198.43 L662.90,197.76 L662.90,197.08 L662.90,196.41 L662.89,195.74 L662.89,195.07 L662.88,194.40 L662.88,193.73 L662.87,193.06 L662.87,192.39 L662.86,191.72 L662.86,191.05 L662.85,190.38 L662.85,189.71 L662.84,189.04 L662.84,188.37 L662.83,187.70 L662.82,187.03 L662.82,186.36 L662.81,185.69 L662.80,185.02 L662.79,184.35 L662.79,183.68 L662.78,183.01 L662.77,182.34 L662.76,181.67 L662.74,181.00 L662.73,180.33 L662.72,179.66 L662.71,178.99 L662.69,178.32 L662.67,177.65 L662.66,176.98 L662.64,176.31 L662.62,175.64 L662.60,174.97 L662.57,174.30 L662.53,173.63 L662.47,172.96 L662.41,172.29 L662.34,171.62 L662.27,170.95 L662.19,170.28 L662.11,169.61 L662.03,168.94 L661.94,168.26 L661.85,167.59 L661.74,166.92 L661.63,166.25 L661.51,165.58 L661.39,164.91 L661.26,164.24 L661.12,163.57 L660.98,162.90 L660.82,162.23 L660.64,161.56 L660.45,160.89 L660.24,160.22 L660.03,159.55 L659.82,158.88 L659.61,158.21 L659.41,157.54 L659.22,156.87 L659.02,156.20 L658.83,155.53 L658.64,154.86 L658.45,154.19 L658.25,153.52 L658.05,152.85 L657.85,152.18 L657.65,151.51 L657.42,150.84 L657.19,150.17 L656.95,149.50 L656.72,148.83 L656.50,148.16 L656.31,147.49 L656.15,146.82 L656.01,146.15 L655.88,145.48 L655.76,144.81 L655.64,144.14 L655.54,143.47 L655.43,142.80 L655.34,142.13 L655.25,141.46 L655.17,140.79 L655.10,140.12 L655.04,139.44 L654.99,138.77 L654.94,138.10 L654.90,137.43 L654.86,136.76 L654.82,136.09 L654.79,135.42 L654.76,134.75 L654.74,134.08 L654.71,133.41 L654.69,132.74 L654.67,132.07 L654.65,131.40 L654.64,130.73 L654.62,130.06 L654.61,129.39 L654.60,128.72 L654.60,128.05 L654.63,127.38 L654.70,126.71 L654.79,126.04 L654.91,125.37 L655.03,124.70 L655.15,124.03 L655.26,123.36 L655.37,122.69 L655.49,122.02 L655.62,121.35 L655.76,120.68 L655.92,120.01 L656.09,119.34 L656.29,118.67 L656.52,118.00 L656.78,117.33 L657.07,116.66 L657.36,115.99 L657.67,115.32 L657.97,114.65 L658.29,113.98 L658.63,113.31 L658.98,112.64 L659.33,111.97 L659.69,111.29 L660.04,110.62 L660.38,109.95 L660.73,109.28 L661.08,108.61 L661.41,107.94 L661.72,107.27 L661.97,106.60 L662.22,105.93 L662.46,105.26 L662.63,104.59 L662.70,103.92 L662.73,103.25 L662.75,102.58 L662.77,101.91 L662.79,101.24 L662.80,100.57 L662.82,99.90 L662.83,99.23 L662.84,98.56 L662.85,97.89 L662.86,97.22 L662.87,96.55 L662.88,95.88 L662.89,95.21 L662.89,94.54 L662.90,93.87 L662.90,93.20 L662.91,92.53 L662.91,91.86 L662.92,91.19 L662.92,90.52 L662.93,89.85 L662.94,89.18 L662.94,88.51 L662.95,87.84 L662.96,87.17 L662.97,86.50 L662.98,85.83 L663.00,85.16 L663.00,84.49 L663.00,83.82 L663.00,83.15 L663.00,82.47 L663.00,81.80 L663.00,81.13 L663.00,80.46 L663.00,79.79 L663.00,79.12 L663.00,78.45 L663.00,77.78 L663.00,77.11 L663.00,76.44 L663.00,75.77 L663.00,75.10 L663.00,74.43 L663.00,73.76 L663.00,73.09 L663.00,72.42 L663.00,71.75 L663.00,71.08 L663.00,70.41 L663.00,69.74 L663.00,69.07 L663.00,68.40Z" fill="#B88EC6" stroke="#262626" stroke-width="1.3" stroke-linejoin="round"/>
<path d="M591.3 152.9h0M592.2 156.8h0M589.4 128.9h0M593.8 104.2h0M597.5 121.5h0M584.1 116.8h0M589.3 136.4h0M594.3 107.2h0M587.7 115.8h0M594.7 142.4h0M600.1 118.9h0M595.7 143.6h0" stroke="#D8BC6A" stroke-opacity="0.45" stroke-width="2.2" stroke-linecap="round" fill="none"/>
<path d="M637.9 134.3h0M639.5 116.0h0M636.1 145.7h0M644.7 154.6h0M643.2 125.2h0M635.8 133.2h0M634.9 122.8h0M642.5 109.9h0M643.2 144.0h0M643.3 109.0h0M643.7 156.9h0M639.3 148.7h0" stroke="#D8BC6A" stroke-opacity="0.45" stroke-width="2.2" stroke-linecap="round" fill="none"/>
<path d="M592.7,129.7L642.9,135.3M612.8,139.7L662.9,138.9" stroke="#262626" stroke-width="1.3" fill="none"/>
<circle cx="592.7" cy="129.7" r="4.2" fill="#EDAA00" stroke="#1A1A1A" stroke-width="1.2"/>
<path d="M592.7,126.19999999999999V133.2M590.4000000000001,126.19999999999999H595.0M590.4000000000001,133.2H595.0" stroke="#1A1A1A" stroke-width="1" fill="none"/>
<circle cx="612.8" cy="139.7" r="4.2" fill="#87369C" stroke="#1A1A1A" stroke-width="1.2"/>
<path d="M610.5,139.7H615.0999999999999" stroke="#1A1A1A" stroke-width="1.7" fill="none"/>
<circle cx="642.9" cy="135.3" r="4.2" fill="#EDAA00" stroke="#1A1A1A" stroke-width="1.2"/>
<path d="M642.9,131.8V138.8M640.6,131.8H645.1999999999999M640.6,138.8H645.1999999999999" stroke="#1A1A1A" stroke-width="1" fill="none"/>
<circle cx="662.9" cy="138.9" r="4.2" fill="#87369C" stroke="#1A1A1A" stroke-width="1.2"/>
<path d="M660.6,138.9H665.1999999999999" stroke="#1A1A1A" stroke-width="1.7" fill="none"/>
</g>
<path d="M594.1,63.1H612.0" stroke="#1a1a1a" stroke-width="1.2"/>
<polygon points="603.00,55.40 603.71,57.23 605.66,57.33 604.14,58.57 604.65,60.47 603.00,59.40 601.35,60.47 601.86,58.57 600.34,57.33 602.29,57.23" fill="#1a1a1a"/>
<path d="M644.6,62.4H662.0" stroke="#1a1a1a" stroke-width="1.2"/>
<polygon points="650.35,55.60 651.06,57.43 653.01,57.53 651.49,58.77 652.00,60.67 650.35,59.60 648.70,60.67 649.21,58.77 647.69,57.53 649.64,57.43" fill="#1a1a1a"/>
<polygon points="656.05,55.60 656.76,57.43 658.71,57.53 657.19,58.77 657.70,60.67 656.05,59.60 654.40,60.67 654.91,58.77 653.39,57.53 655.34,57.43" fill="#1a1a1a"/>
<path d="M592.8,279.5H644" stroke="#EBAE1E" stroke-width="1.2"/>
<polygon points="612.70,280.30 613.41,282.13 615.36,282.23 613.84,283.47 614.35,285.37 612.70,284.30 611.05,285.37 611.56,283.47 610.04,282.23 611.99,282.13" fill="#EFC24E"/>
<polygon points="618.40,280.30 619.11,282.13 621.06,282.23 619.54,283.47 620.05,285.37 618.40,284.30 616.75,285.37 617.26,283.47 615.74,282.23 617.69,282.13" fill="#EFC24E"/>
<polygon points="624.10,280.30 624.81,282.13 626.76,282.23 625.24,283.47 625.75,285.37 624.10,284.30 622.45,285.37 622.96,283.47 621.44,282.23 623.39,282.13" fill="#EFC24E"/>
<rect x="572.8" y="32.6" width="109.80000000000007" height="258.4" fill="none" stroke="#333" stroke-width="1.2"/>
<path d="M572.8,53.4H682.6" stroke="#333" stroke-width="1.2"/>
<text x="627.7" y="47.6" font-size="10.2" text-anchor="middle" fill="#1a1a1a" >H:C</text>
<path d="M602.75,291.0v3.4" stroke="#333" stroke-width="1"/>
<text x="598.75" y="303.9" font-size="10" text-anchor="middle" fill="#2E2E2E" >Day 7</text>
<path d="M652.65,291.0v3.4" stroke="#333" stroke-width="1"/>
<text x="652.35" y="303.9" font-size="10" text-anchor="middle" fill="#2E2E2E" >Day 60</text>
<path d="M569.4,114.9H572.8" stroke="#333" stroke-width="1"/>
<text x="567.0" y="118.45" font-size="10" text-anchor="end" fill="#2E2E2E" >2</text>
<path d="M569.4,197.0H572.8" stroke="#333" stroke-width="1"/>
<text x="567.0" y="200.55" font-size="10" text-anchor="end" fill="#2E2E2E" >1</text>
<path d="M569.4,278.3H572.8" stroke="#333" stroke-width="1"/>
<text x="567.0" y="281.85" font-size="10" text-anchor="end" fill="#2E2E2E" >0</text>
<text x="211.0" y="328.4" font-size="10" text-anchor="start" fill="#111" >B</text>
<rect x="328.26" y="328.3" width="294.24" height="14.60" fill="#A06EB0"/>
<rect x="531.94" y="348.5" width="90.56" height="14.50" fill="#F0C04C"/>
<rect x="272.20" y="378.3" width="350.30" height="14.70" fill="#A06EB0"/>
<rect x="622.50" y="398.6" width="32.38" height="14.60" fill="#F0C04C"/>
<rect x="622.50" y="428.6" width="39.03" height="14.90" fill="#A06EB0"/>
<rect x="427.97" y="448.5" width="194.53" height="14.80" fill="#F0C04C"/>
<path d="M298.01,336.1H357.39M298.01,333.70000000000005v4.8M357.39,333.70000000000005v4.8" stroke="#111" stroke-width="1.25" fill="none"/>
<polygon points="289.25,333.40 289.96,335.23 291.91,335.33 290.39,336.57 290.90,338.47 289.25,337.40 287.60,338.47 288.11,336.57 286.59,335.33 288.54,335.23" fill="#222"/>
<polygon points="294.95,333.40 295.66,335.23 297.61,335.33 296.09,336.57 296.60,338.47 294.95,337.40 293.30,338.47 293.81,336.57 292.29,335.33 294.24,335.23" fill="#222"/>
<path d="M528.61,355.7H534.72M528.61,353.3v4.8M534.72,353.3v4.8" stroke="#111" stroke-width="1.25" fill="none"/>
<path d="M236.77,386.3H307.72M236.77,383.90000000000003v4.8M307.72,383.90000000000003v4.8" stroke="#111" stroke-width="1.25" fill="none"/>
<polygon points="219.20,383.60 219.91,385.43 221.86,385.53 220.34,386.77 220.85,388.67 219.20,387.60 217.55,388.67 218.06,386.77 216.54,385.53 218.49,385.43" fill="#222"/>
<polygon points="224.90,383.60 225.61,385.43 227.56,385.53 226.04,386.77 226.55,388.67 224.90,387.60 223.25,388.67 223.76,386.77 222.24,385.53 224.19,385.43" fill="#222"/>
<polygon points="230.60,383.60 231.31,385.43 233.26,385.53 231.74,386.77 232.25,388.67 230.60,387.60 228.95,388.67 229.46,386.77 227.94,385.53 229.89,385.43" fill="#222"/>
<path d="M652.38,405.8H657.28M652.38,403.40000000000003v4.8M657.28,403.40000000000003v4.8" stroke="#111" stroke-width="1.25" fill="none"/>
<path d="M659.41,436.1H663.57M659.41,433.70000000000005v4.8M663.57,433.70000000000005v4.8" stroke="#111" stroke-width="1.25" fill="none"/>
<path d="M421.87,456.2H434.17M421.87,453.8v4.8M434.17,453.8v4.8" stroke="#111" stroke-width="1.25" fill="none"/>
<polygon points="411.75,453.50 412.46,455.33 414.41,455.43 412.89,456.67 413.40,458.57 411.75,457.50 410.10,458.57 410.61,456.67 409.09,455.43 411.04,455.33" fill="#222"/>
<polygon points="417.45,453.50 418.16,455.33 420.11,455.43 418.59,456.67 419.10,458.57 417.45,457.50 415.80,458.57 416.31,456.67 414.79,455.43 416.74,455.33" fill="#222"/>
<path d="M622.5,315.7V476.2" stroke="#111" stroke-width="1.1" stroke-dasharray="4.4 3.95" stroke-dashoffset="2.1"/>
<rect x="207.9" y="315.7" width="476.30000000000007" height="160.5" fill="none" stroke="#333" stroke-width="1.2"/>
<path d="M252.50,476.2v2.5" stroke="#333" stroke-width="1"/>
<text x="249.10" y="490.4" font-size="10" text-anchor="middle" fill="#2E2E2E" >−40</text>
<path d="M345.00,476.2v2.5" stroke="#333" stroke-width="1"/>
<text x="341.60" y="490.4" font-size="10" text-anchor="middle" fill="#2E2E2E" >−30</text>
<path d="M437.50,476.2v2.5" stroke="#333" stroke-width="1"/>
<text x="434.10" y="490.4" font-size="10" text-anchor="middle" fill="#2E2E2E" >−20</text>
<path d="M530.00,476.2v2.5" stroke="#333" stroke-width="1"/>
<text x="526.60" y="490.4" font-size="10" text-anchor="middle" fill="#2E2E2E" >−10</text>
<path d="M622.50,476.2v2.5" stroke="#333" stroke-width="1"/>
<text x="622.50" y="490.4" font-size="10" text-anchor="middle" fill="#2E2E2E" >0</text>
<path d="M202.70000000000002,345.8H207.9" stroke="#333" stroke-width="1"/>
<path d="M202.70000000000002,395.9H207.9" stroke="#333" stroke-width="1"/>
<path d="M202.70000000000002,445.6H207.9" stroke="#333" stroke-width="1"/>
<text x="197.8" y="351.1" font-size="10" text-anchor="end" fill="#2E2E2E" >Molecular Richness</text>
<text x="114.8" y="399.8" font-size="10" text-anchor="start" fill="#2E2E2E" >Molecular Diversity</text>
<text x="114.8" y="412.3" font-size="10" fill="#2E2E2E">(Hill Numbers<tspan font-size="5.8" dy="2.9">(q=2)</tspan><tspan dy="-2.9">)</tspan></text>
<text x="66.1" y="451.5" font-size="10" text-anchor="start" fill="#2E2E2E" >Functional Molecular Diversity</text>
<text x="66.1" y="464.2" font-size="10" fill="#2E2E2E">(Rao<tspan font-size="5.8" dy="2.9">(multivariate)</tspan><tspan dy="-2.9">)</tspan></text>
<text x="440.2" y="501.6" font-size="10" text-anchor="middle" fill="#222" >Percent Change (%)</text>
</svg>
</body></html>
